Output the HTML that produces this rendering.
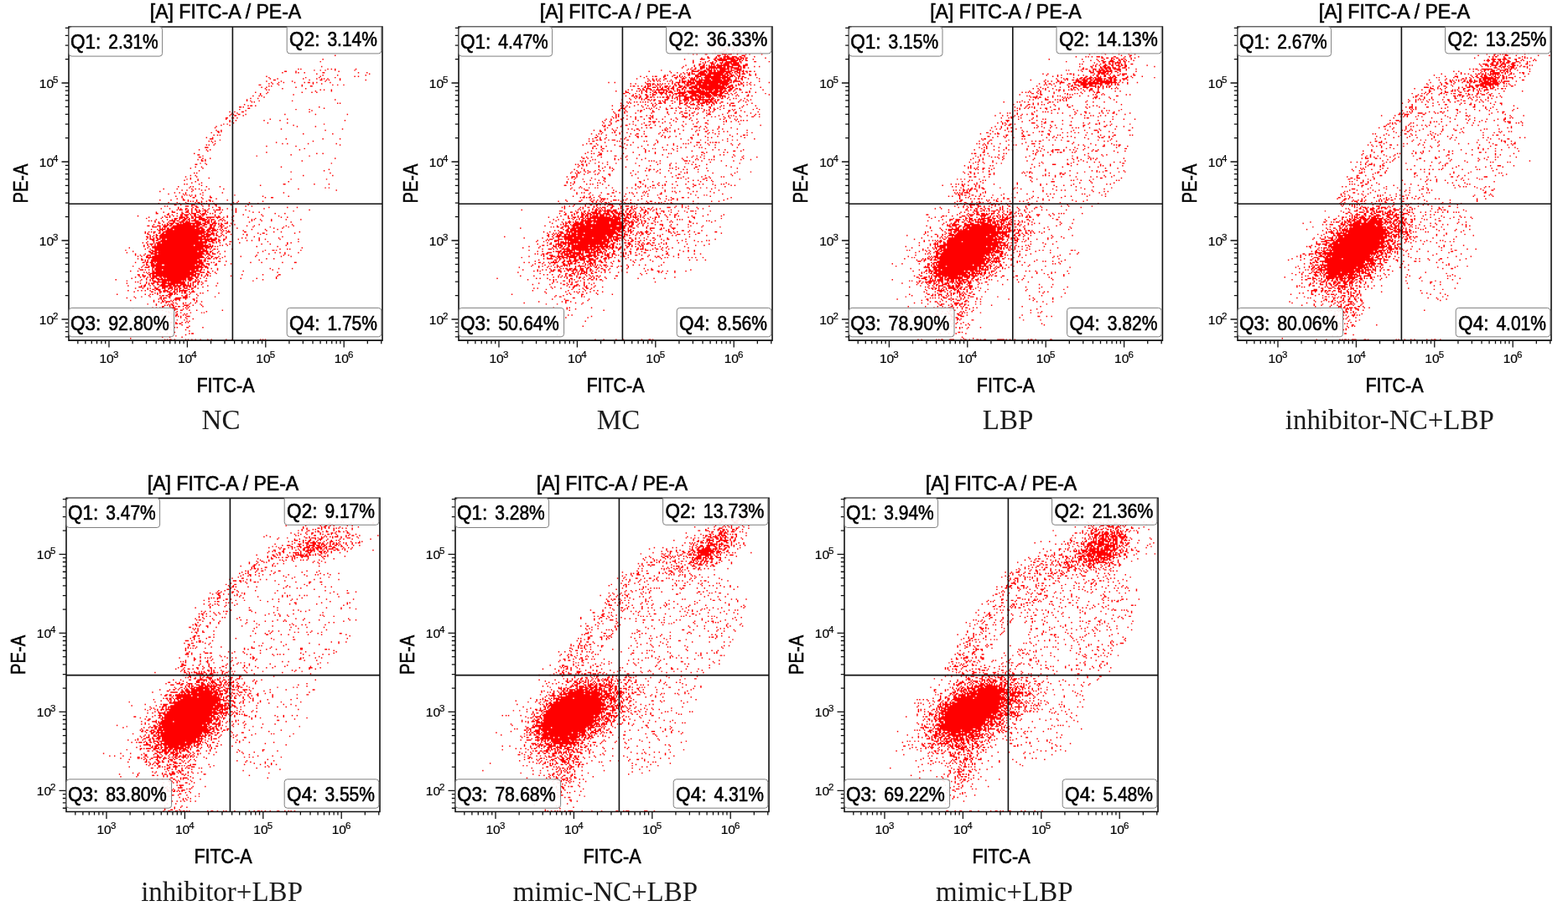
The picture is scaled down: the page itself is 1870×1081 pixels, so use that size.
<!DOCTYPE html>
<html lang="en"><head><meta charset="utf-8"><title>Flow cytometry FITC-A / PE-A</title>
<style>html,body{margin:0;padding:0;background:#fff}body{width:1870px;height:1081px;overflow:hidden}svg{display:block}.ax{fill:none;stroke:#111;stroke-width:1.6}.tkp{fill:none;stroke:#111;stroke-width:1.3}.dots{fill:none;stroke:#f00;stroke-width:1.0;stroke-linecap:square}.qb{fill:#fff;fill-opacity:.9;stroke:#808080;stroke-width:1}.qt,.tt{font-family:"Liberation Sans", sans-serif;font-size:24.4px;fill:#000;stroke:#000;stroke-width:.6px}.tk{font-family:"Liberation Sans", sans-serif;font-size:15.5px;fill:#000;stroke:#000;stroke-width:.2px}.ts{font-family:"Liberation Sans", sans-serif;font-size:11.5px;fill:#000;stroke:#000;stroke-width:.2px}.lb{font-family:"Liberation Serif", serif;font-size:33px;fill:#1a1a1a}</style></head><body>
<svg width="1870" height="1081" viewBox="0 0 1870 1081" role="img" aria-label="Flow cytometry scatter plots">
<g transform="translate(82 32)">
<path class="dots" transform="scale(1.4609) translate(.5 .5)" d="M217 23zm-10 3zm-2 2zm1 4zm-19 2zm2 0zm22 0zm3 0zm3 0zm17 0zm-34 1zm5 0zm4 0zm8 0zm16 0zm-57 1h1m8 0zm35 0zm-46 1zm11 0zm2 0zm5 0zm15 0h1m28 0zm7 0zm-41 1zm43 0zm-38 1zm12 0zm23 0zm-81 1zm44 0zm28 0zm3 0zm-73 1zm30 0zm11 0zm13 0zm-53 1zm6 0zm21 0zm11 0zm4 0zm2 0zm3 0zm10 0zm-54 1h1m28 0zm9 0h1m4 0zm2 0zm9 0zm21 0zm-81 1zm12 0zm9 0zm27 0zm-44 1zm6 0zm4 0zm9 0zm8 0zm3 0h1m3 0zm3 0zm11 0zm-50 1zm3 0zm4 0zm29 0zm7 0zm-51 1h1m15 0zm19 0zm25 0zm4 0zm5 0zm-61 1zm2 0zm25 0zm7 0h1m-41 1zm4 0zm24 0zm-25 1zm14 0zm19 0zm-32 1zm2 0zm42 0zm3 0zm6 0zm-13 1zm13 0zm-62 1zm10 0zm28 0zm8 0zm4 0zm-46 1zm5 0zm-5 1zm27 0zm-33 1zm5 0zm2 0zm2 1zm-11 1zm6 0zm-9 1zm72 0zm-72 1zm3 0zm7 0zm27 0zm-33 1zm2 0zm68 1zm2 0zm-78 1zm3 1zm2 0h1m3 0zm-13 1h1m2 0zm62 0zm-58 1h1m61 0zm-69 1zm46 0zm11 0zm-52 1zm54 0zm-67 1zm4 0zm6 0h1m54 0zm-63 1zm4 0zm-5 1zm2 0zm4 0h1m5 0zm32 0zm25 0zm26 0zm-96 1zm4 0h1m6 0zm-14 2h1m4 0h1m3 0zm-9 1zm36 0zm14 0zm-47 1zm5 0zm23 0zm13 0zm53 0zm-94 1zm2 0zm1 1zm28 0zm16 0zm-52 1zm3 0zm79 0zm-84 1zm7 0zm52 0zm-63 1zm66 0zm15 0zm-82 1zm54 1zm50 0zm-103 1zm4 0zm85 0zm-88 1h1m2 0zm-8 1zm6 0zm69 1zm24 0zm-97 1zm3 0zm2 0zm-11 2zm5 0zm-2 1h2m60 0zm30 0zm14 0zm-98 1zm-9 1zm2 0zm3 0zm80 0zm-82 1zm52 0zm-50 1zm55 0zm4 0zm17 0zm23 0zm-106 1zm2 0zm4 0zm103 0zm-60 1zm24 0zm-74 1h2m79 1zm-86 1zm6 0zm3 0zm73 0zm-75 1zm48 1zm-59 1zm100 0zm5 0zm-102 1h1m75 0zm-72 1zm44 0zm43 0zm-90 1h1m2 1zm6 0zm102 0zm-112 1zm3 0zm3 0zm-3 1h1m2 0zm79 0zm-83 2zm4 0zm103 0zm-111 1h1m8 0zm-9 2zm5 0zm65 0zm-74 1zm10 0zm103 1zm-106 1zm102 0zm-27 1zm-79 1zm2 0zm109 0zm-114 2zm4 0zm88 0zm24 0zm-120 1zm9 0zm-5 1zm15 0zm-18 1zm3 0zm6 0zm76 0zm29 0zm-116 1zm11 0zm-2 1zm76 0zm-79 1zm8 0zm-14 1zm2 0zm10 0zm69 0h1m24 0zm12 0zm-104 1zm48 0zm-67 1zm10 0zm2 0zm11 0zm11 0zm-25 1zm111 0zm3 0zm-135 1zm11 0zm12 0zm3 0zm3 0zm8 0zm12 0zm61 0zm-95 1zm4 0zm5 0zm7 0zm3 0zm107 0zm-144 1zm26 0zm-14 1zm4 0zm5 0zm14 0zm16 0zm50 0zm-94 1zm12 0zm2 0zm12 0zm-13 1zm2 0zm2 0zm2 0zm3 0zm6 0zm26 0zm-48 1zm5 0zm7 0zm4 0zm12 0zm43 0zm21 0zm-87 1zm9 0h1m6 0zm7 0h1m44 0zm5 0h1m-78 1zm5 0zm16 0zm11 0zm-46 1zm9 0zm10 0h1m3 0zm7 0zm10 0h1m14 0zm-32 1zm2 0zm2 0zm3 0zm4 0zm4 0zm3 0zm2 0zm21 0zm20 0zm-77 1zm7 0zm7 0zm8 0zm2 0h1m2 0zm26 0zm3 0zm10 0zm-74 1zm17 0zm6 0h1m9 0zm4 0zm2 0zm6 0zm36 0zm-68 1h1m4 0zm9 0h2m6 0zm6 0zm5 0h1m12 0zm14 0zm-68 1zm2 0zm15 0h2m3 0zm3 0h1m5 0zm5 0zm6 0zm24 0zm5 0zm-60 1zm12 0zm3 0h1m12 0zm5 0h1m40 0zm15 0zm8 0zm-111 1zm7 0zm7 0zm2 0zm4 0h1m4 0zm3 0zm6 0zm5 0zm9 0zm6 0zm7 0zm23 0zm-71 1zm2 0h2m3 0zm2 0zm3 0zm3 0h1m2 0zm4 0h1m2 0zm5 0zm2 0h3m2 0zm8 0zm3 0zm8 0zm52 0zm-112 1zm12 0h1m3 0zm4 0zm2 0h1m2 0zm2 0h1m7 0zm17 0zm11 0zm36 0zm-112 1zm6 0zm7 0h2m6 0zm3 0h2m3 0zm4 0h2m5 0zm2 0zm6 0zm5 0zm12 0zm14 0zm5 0zm-84 1h1m9 0zm7 0zm4 0h1m5 0zm2 0h3m4 0zm2 0h2m4 0zm2 0zm6 0zm45 0zm8 0zm-96 1h1m3 0zm7 0h1m2 0h3m2 0zm3 0h1m2 0zm3 0h2m2 0zm7 0zm23 0zm15 0zm-101 1zm22 0zm4 0zm3 0zm3 0zm3 0h1m3 0h1m4 0zm2 0h1m3 0h1m2 0zm10 0zm3 0zm7 0zm5 0zm24 0zm13 0zm-106 1zm11 0zm3 0h1m2 0zm8 0h4m2 0h1m3 0h1m2 0h5m4 0h6m2 0h3m3 0zm3 0zm4 0zm13 0zm27 0zm5 0zm-115 1zm12 0zm11 0h2m2 0h2m2 0h2m2 0zm2 0h1m2 0zm3 0h4m3 0zm2 0zm6 0zm4 0zm27 0zm-81 1zm9 0zm4 0zm2 0h1m3 0zm3 0h2m2 0h1m4 0h1m3 0h6m2 0zm2 0h2m5 0h1m2 0zm7 0zm16 0zm2 0zm5 0zm9 0zm12 0zm12 0zm-124 1zm2 0zm3 0zm6 0zm6 0h4m2 0h1m3 0h2m2 0zm2 0zm2 0h5m4 0h2m2 0h1m2 0zm3 0zm3 0zm3 0zm2 0zm7 0zm15 0zm8 0zm8 0zm-95 1zm3 0zm4 0zm4 0zm4 0h1m4 0h3m2 0h3m5 0h4m4 0h3m2 0zm2 0h1m10 0zm18 0zm34 0zm-108 1h1m6 0zm2 0h3m2 0h2m2 0zm2 0h14m2 0h2m2 0h1m3 0h3m2 0zm2 0zm3 0h2m3 0zm-63 1zm7 0zm2 0zm2 0h1m2 0h1m4 0h11m2 0h1m2 0h4m2 0h2m3 0h2m2 0zm3 0zm2 0h1m8 0zm2 0zm20 0zm27 0zm-118 1h1m3 0zm4 0h2m3 0h3m2 0h1m2 0h21m3 0h1m5 0h1m2 0h1m4 0h1m2 0zm5 0zm14 0zm6 0zm26 0zm6 0zm-115 1h3m3 0zm3 0h2m5 0h21m2 0h1m3 0h1m3 0h1m2 0zm4 0zm2 0h1m4 0zm21 0zm14 0zm11 0zm4 0zm-105 1zm2 0zm2 0zm2 0h1m2 0h19m2 0h5m5 0h4m6 0zm3 0h1m9 0zm30 0zm7 0zm-107 1zm5 0zm2 0h4m2 0h4m2 0h20m2 0h2m3 0h2m2 0h2m2 0zm2 0zm2 0zm24 0zm11 0zm10 0zm-97 1h1m2 0zm3 0h31m2 0h2m2 0h4m4 0zm2 0zm2 0zm2 0zm12 0zm19 0zm-99 1zm3 0zm2 0zm2 0h1m4 0zm3 0h34m2 0h2m2 0zm4 0zm4 0zm4 0h2m12 0h1m23 0zm6 0zm15 0zm-126 1zm2 0zm5 0zm4 0h1m2 0h1m2 0h31m2 0h1m3 0h2m2 0zm4 0zm4 0zm26 0zm4 0h1m25 0zm-120 1h1m6 0zm4 0h33m2 0h8m2 0zm5 0zm7 0zm10 0zm3 0zm11 0zm5 0zm-95 1zm3 0zm2 0h1m2 0h31m3 0h2m2 0h3m3 0zm2 0h1m3 0zm2 0zm19 0zm-82 1h1m2 0zm2 0zm3 0zm3 0h40m8 0h1m5 0zm23 0zm23 0zm-110 1zm2 0zm3 0zm2 0h1m2 0h34m2 0h1m2 0zm2 0h1m3 0h1m8 0zm13 0zm3 0zm11 0zm16 0zm-108 1zm3 0h3m3 0h2m2 0h2m2 0h40m2 0zm4 0h1m11 0zm17 0zm5 0zm12 0zm15 0zm-119 1h1m2 0h1m3 0h30m2 0h1m3 0h3m2 0h3m3 0h1m3 0zm19 0zm4 0zm6 0zm-91 1zm5 0zm4 0h39m2 0h3m3 0zm2 0zm9 0h1m30 0zm25 0zm-127 1zm3 0zm6 0zm2 0h3m2 0h36m5 0h1m2 0zm3 0zm16 0zm39 0zm3 0zm-117 1zm2 0h2m2 0zm2 0h37m2 0zm3 0h1m13 0zm3 0zm26 0zm7 0zm14 0zm-117 1zm3 0zm3 0zm3 0zm2 0h29m2 0h10m2 0zm2 0zm6 0zm2 0zm4 0zm48 0zm-116 1zm4 0zm3 0h49m2 0zm2 0zm32 0zm17 0zm-121 1zm15 0zm4 0h41m2 0h3m2 0zm74 0zm-128 1zm4 0zm4 0h40m2 0zm3 0zm3 0h1m2 0zm12 0zm39 0zm6 0zm2 0zm-134 1zm21 0h1m2 0h37m2 0h3m5 0zm43 0zm6 0h1m2 0zm20 0zm-137 1zm13 0h1m2 0h3m2 0h31m2 0h7m2 0h1m6 0zm5 0zm31 0zm-111 1zm19 0h2m2 0h39m3 0h1m2 0zm2 0zm4 0zm33 0zm14 0zm4 0zm4 0zm11 0zm-133 1zm8 0zm5 0h4m2 0h37m2 0h2m3 0h2m4 0zm40 0zm13 0zm-122 1zm4 0zm3 0zm3 0h2m4 0h38m3 0zm3 0h1m38 0zm22 0zm4 0zm-123 1zm3 0zm4 0h1m2 0zm2 0h41m4 0zm3 0h1m5 0zm5 0zm13 0zm12 0zm21 0zm8 0zm-118 1h47m2 0zm2 0zm2 0zm3 0h2m4 0zm-69 1zm3 0zm6 0zm3 0h38m5 0zm2 0h2m3 0zm2 0zm3 0zm38 0zm6 0zm-108 1h1m2 0zm2 0zm3 0h37m2 0h2m2 0h1m44 0zm-93 1zm2 0zm3 0h41m2 0h1m2 0zm9 0h1m5 0zm-74 1zm6 0h1m2 0h1m2 0h2m2 0zm2 0h37m7 0zm2 0zm30 0zm9 0zm17 0zm10 0h1m-122 1zm4 0h2m2 0h33m2 0h3m3 0h2m6 0zm12 0zm-71 1zm2 0h1m3 0h8m3 0h24m2 0h2m2 0h2m4 0zm5 0h1m7 0zm-75 1zm8 0zm5 0zm2 0h41m2 0h2m-53 1zm3 0h3m3 0h1m2 0h38m2 0h2m-56 1zm11 0zm2 0h35m3 0zm5 0zm3 0zm5 0zm43 0zm7 0zm11 0zm-124 1h2m2 0zm3 0zm3 0zm2 0h5m2 0h25m2 0h1m2 0h1m2 0zm11 0zm45 0zm-116 1zm6 0zm12 0h1m2 0h27m2 0h7m6 0zm4 0zm25 0zm-81 1zm2 0zm2 0zm3 0h35m4 0h3m3 0h1m5 0zm51 0zm-106 1zm2 0h35m2 0h3m6 0zm3 0zm5 0zm-64 1h1m3 0zm5 0h1m2 0h1m2 0h32m2 0h1m2 0zm4 0h1m28 0zm17 0zm13 0h1m-115 1zm3 0h2m4 0zm2 0h30m2 0h3m2 0zm3 0zm3 0zm2 0zm2 0zm17 0zm38 0zm-116 1zm4 0zm3 0zm3 0zm2 0zm2 0h3m3 0h1m2 0h23m3 0h2m5 0zm59 0zm-118 1zm12 0zm4 0h2m2 0h2m2 0h1m2 0zm2 0h15m2 0h4m3 0zm3 0zm5 0zm28 0zm13 0zm16 0zm-131 1zm21 0zm4 0zm3 0zm2 0zm4 0h23m2 0h3m3 0zm2 0zm53 0zm-111 1zm11 0zm8 0zm2 0h2m3 0zm3 0h15m2 0zm2 0zm3 0h1m4 0h1m2 0zm5 0h1m38 0zm-96 1zm2 0zm7 0zm6 0h10m2 0zm2 0h11m3 0zm4 0h2m2 0h1m2 0zm-61 1zm11 0zm5 0zm2 0zm2 0h2m3 0zm4 0h18m3 0zm2 0zm2 0zm4 0zm4 0zm12 0zm-59 1zm3 0zm3 0zm4 0h1m2 0h3m3 0h5m2 0zm3 0h4m2 0zm2 0zm2 0zm4 0zm3 0zm-60 1zm11 0zm2 0h1m4 0zm3 0zm5 0h9m2 0h6m2 0h6m2 0zm2 0zm10 0zm7 0zm-63 1h2m2 0zm9 0zm3 0zm3 0h4m2 0h2m2 0h1m2 0h1m3 0h1m2 0zm2 0h1m3 0h1m6 0zm-55 1zm6 0zm4 0zm2 0zm4 0h2m4 0h2m3 0h3m2 0zm2 0zm2 0h1m3 0h2m4 0h1m4 0zm-41 1zm4 0h1m2 0h3m4 0zm3 0zm3 0zm2 0h2m2 0zm3 0zm4 0h1m2 0zm-52 1zm8 0zm3 0zm3 0zm4 0zm4 0zm3 0h1m3 0h3m3 0zm3 0zm2 0zm2 0h6m5 0zm12 0zm-60 1zm14 0h1m6 0h1m2 0h1m2 0h2m3 0h1m2 0zm2 0zm2 0zm2 0h1m3 0zm2 0h2m-32 1zm2 0zm2 0zm8 0h2m2 0h1m5 0zm2 0h1m4 0zm8 0zm2 0zm13 0zm-83 1zm23 0zm4 0zm2 0zm4 0zm9 0h3m2 0zm2 0zm8 0zm2 0zm6 0zm-39 1zm9 0zm2 0h1m2 0h1m2 0h1m9 0zm3 0h1m9 0zm-52 1zm6 0zm7 0zm9 0zm6 0h1m11 0h3m2 0zm21 0zm-72 1zm7 0zm20 0h1m2 0h2m3 0zm5 0h4m2 0h3m8 0zm-31 1zm2 0zm2 0zm9 0h4m5 0zm6 0h1m-52 1zm19 0zm7 0zm2 0zm5 0zm2 0zm2 0zm3 0zm12 0zm2 0zm-35 1zm4 0zm3 0h1m2 0h3m2 0zm20 0zm4 0zm-33 1zm4 0zm6 0zm2 0zm6 0zm2 0zm4 0zm4 0zm-39 1zm7 0zm10 0zm2 0h1m4 0zm5 0zm5 0zm9 0zm-36 1zm7 0zm2 0zm2 0zm2 0h1m9 0h3m4 0zm7 0zm-32 1h1m5 0zm3 0zm2 0zm2 0h1m3 0zm3 0zm2 0zm11 0zm-41 1zm3 0zm3 0zm2 0zm7 0h3m9 0zm2 0zm-45 1zm31 0zm3 0h2m5 0zm3 0zm-46 1zm18 0zm4 0zm4 0zm10 0zm5 0h1m6 0zm6 0zm21 0zm-86 1zm40 0zm2 0zm7 0zm24 0zm-50 1zm3 0h1m15 0h1m5 0zm4 0zm8 0zm9 0zm2 0zm-26 1zm4 0zm6 0zm2 0zm-20 1zm3 0zm6 0zm2 0h1m5 0zm2 0zm-20 1zm6 0zm6 0zm2 0zm2 0zm5 0h2m-22 1zm3 0zm12 0zm4 0zm-11 1zm12 0zm5 0zm-25 1zm2 0zm2 0zm8 0zm6 0zm2 1zm2 0zm-43 1zm3 0zm25 0h1m3 0zm5 0zm3 0zm2 0zm-10 1h1m2 0h1m-9 1zm10 0zm-7 1zm13 0zm-40 1zm8 0zm16 0zm4 0zm2 0zm8 0h1m12 0zm-29 2zm3 0zm12 0zm3 1zm-24 1zm12 0zm-6 1zm18 0zm2 0h1m-17 1zm11 0zm-8 1zm-11 1zm6 0zm10 0zm-42 1zm28 1zm2 0zm2 0h1m3 0zm9 0zm2 0zm3 0zm3 0zm4 0zm6 0zm3 0zm12 0zm5 0zm23 0zm2 0zm2 0z"/>
<path class="ax" d="M0 0H374V374.1H0ZM195.4 0V374M0 211.2H374"/>
<path class="tkp" d="M-4.2 369.85h4.2M-4.2 363.56h4.2M-4.2 358.11h4.2M-4.2 353.30h4.2M-8.5 349.00h8.5M-4.2 320.70h4.2M-4.2 304.15h4.2M-4.2 292.41h4.2M-4.2 283.30h4.2M-4.2 275.85h4.2M-4.2 269.56h4.2M-4.2 264.11h4.2M-4.2 259.30h4.2M-8.5 255.00h8.5M-4.2 226.70h4.2M-4.2 210.15h4.2M-4.2 198.41h4.2M-4.2 189.30h4.2M-4.2 181.85h4.2M-4.2 175.56h4.2M-4.2 170.11h4.2M-4.2 165.30h4.2M-8.5 161.00h8.5M-4.2 132.70h4.2M-4.2 116.15h4.2M-4.2 104.41h4.2M-4.2 95.30h4.2M-4.2 87.85h4.2M-4.2 81.56h4.2M-4.2 76.11h4.2M-4.2 71.30h4.2M-8.5 67.00h8.5M-4.2 38.70h4.2M-4.2 22.15h4.2M-4.2 10.41h4.2M-4.2 1.30h4.2M10.83 374v4.2M19.88 374v4.2M27.28 374v4.2M33.53 374v4.2M38.95 374v4.2M43.73 374v4.2M48.00 374v8.5M76.12 374v4.2M92.56 374v4.2M104.23 374v4.2M113.28 374v4.2M120.68 374v4.2M126.93 374v4.2M132.35 374v4.2M137.13 374v4.2M141.40 374v8.5M169.52 374v4.2M185.96 374v4.2M197.63 374v4.2M206.68 374v4.2M214.08 374v4.2M220.33 374v4.2M225.75 374v4.2M230.53 374v4.2M234.80 374v8.5M262.92 374v4.2M279.36 374v4.2M291.03 374v4.2M300.08 374v4.2M307.48 374v4.2M313.73 374v4.2M319.15 374v4.2M323.93 374v4.2M328.20 374v8.5M356.32 374v4.2M372.76 374v4.2"/>
<rect class="qb" x="0.2" y="0" width="111.4" height="35.1" rx="3.5"/>
<text class="qt" y="25.6"><tspan x="1.9" textLength="42.6" lengthAdjust="spacingAndGlyphs">Q1: </tspan><tspan x="47.2" textLength="59.6" lengthAdjust="spacingAndGlyphs">2.31%</tspan></text>
<path class="qb" d="M260.2 0H372.8V28.4a3.5 3.5 0 0 1 -3.5 3.5H263.7a3.5 3.5 0 0 1 -3.5 -3.5Z"/>
<text class="qt" y="23.4"><tspan x="263.1" textLength="42.6" lengthAdjust="spacingAndGlyphs">Q2: </tspan><tspan x="308.4" textLength="59.6" lengthAdjust="spacingAndGlyphs">3.14%</tspan></text>
<rect class="qb" x="0.2" y="335.4" width="125.4" height="34.4" rx="3.5"/>
<text class="qt" y="361.6"><tspan x="1.9" textLength="42.6" lengthAdjust="spacingAndGlyphs">Q3: </tspan><tspan x="47.2" textLength="72.6" lengthAdjust="spacingAndGlyphs">92.80%</tspan></text>
<rect class="qb" x="260.2" y="335.4" width="112.6" height="34.4" rx="3.5"/>
<text class="qt" y="361.6"><tspan x="263.1" textLength="42.6" lengthAdjust="spacingAndGlyphs">Q4: </tspan><tspan x="308.4" textLength="59.6" lengthAdjust="spacingAndGlyphs">1.75%</tspan></text>
<text class="tt" x="187" y="-9.6" text-anchor="middle" textLength="180.4" lengthAdjust="spacingAndGlyphs">[A] FITC-A / PE-A</text>
<text class="tt" x="187" y="436" text-anchor="middle" textLength="69.2" lengthAdjust="spacingAndGlyphs">FITC-A</text>
<text class="tt" transform="translate(-49 187) rotate(-90)" text-anchor="middle" textLength="47" lengthAdjust="spacingAndGlyphs">PE-A</text>
<text class="tk" x="36.5" y="401">10<tspan class="ts" x="52.9" y="394.6">3</tspan></text><text class="tk" x="129.9" y="401">10<tspan class="ts" x="146.3" y="394.6">4</tspan></text><text class="tk" x="223.3" y="401">10<tspan class="ts" x="239.7" y="394.6">5</tspan></text><text class="tk" x="316.7" y="401">10<tspan class="ts" x="333.1" y="394.6">6</tspan></text><text class="tk" x="-35.2" y="354.8">10<tspan class="ts" x="-18.9" y="348.6">2</tspan></text><text class="tk" x="-35.2" y="260.8">10<tspan class="ts" x="-18.9" y="254.6">3</tspan></text><text class="tk" x="-35.2" y="166.8">10<tspan class="ts" x="-18.9" y="160.6">4</tspan></text><text class="tk" x="-35.2" y="72.8">10<tspan class="ts" x="-18.9" y="66.6">5</tspan></text>
</g>
<text class="lb" x="263.5" y="512.3" text-anchor="middle">NC</text>
<g transform="translate(547 32)">
<path class="dots" transform="scale(1.4609) translate(.5 .5)" d="M202 6zm17 1zm-10 3zm19 1zm-21 1zm24 0h1m3 0zm-55 1zm17 0zm22 0zm16 0zm-25 1zm4 0zm11 0zm8 0zm-49 1zm34 0zm5 0zm5 0zm6 0zm-27 1zm5 0zm6 0zm6 0zm-29 1zm18 0zm6 0zm5 0zm2 0zm6 0zm-17 1zm2 0zm2 0h1m3 0h1m-32 1zm16 0zm8 0h1m6 0zm2 0zm2 0h1m2 0zm-21 1zm3 0h4m2 0zm6 0zm3 0zm2 0h1m16 0zm-59 1zm20 0zm2 0zm5 0h1m7 0zm2 0zm3 0h1m-37 1zm3 0zm7 0h1m13 0h3m2 0h2m5 0zm7 0zm3 0zm10 0zm-36 1h2m4 0zm2 0zm12 0h2m-30 1zm7 0zm2 0zm4 0h4m3 0h3m3 0h1m3 0zm8 0zm-43 1zm5 0h1m5 0h1m3 0h1m2 0h1m2 0h5m2 0h2m2 0h2m2 0h1m15 0zm-66 1zm13 0h3m8 0h1m2 0h14m2 0h3m2 0zm2 0zm6 0zm-49 1zm13 0zm5 0h1m2 0h6m4 0h5m2 0zm2 0zm3 0h1m-44 1zm6 0zm4 0zm2 0zm4 0zm3 0zm5 0zm3 0h8m3 0h1m11 0h1m11 0zm-62 1zm8 0zm2 0zm4 0h2m2 0zm4 0h2m2 0h5m2 0h4m2 0zm-34 1h1m3 0zm6 0h2m3 0zm3 0zm2 0h4m2 0h6m6 0h1m-50 1zm7 0zm4 0zm3 0h1m2 0zm2 0zm2 0zm2 0zm2 0h10m3 0h6m3 0h3m-52 1zm9 0zm5 0h3m4 0h5m2 0h3m2 0h1m2 0h4m5 0h2m2 0h1m8 0zm4 0zm-63 1zm8 0zm3 0zm4 0h3m2 0zm2 0h13m2 0h1m2 0h6m2 0zm2 0h1m3 0zm-49 1zm2 0zm3 0h1m4 0h1m4 0h2m2 0zm2 0zm2 0zm3 0h7m2 0zm3 0h5m-65 1zm21 0zm4 0h1m4 0h1m4 0h1m2 0h3m2 0h1m2 0zm2 0h4m3 0zm2 0h2m3 0h3m2 0zm-77 1zm17 0zm18 0h5m2 0h5m2 0h2m2 0h1m2 0h11m3 0h2m2 0zm2 0h1m2 0h1m2 0h1m3 0zm-68 1zm5 0zm5 0zm3 0zm2 0zm2 0zm6 0h4m2 0zm2 0h12m2 0h3m2 0zm2 0zm2 0h2m3 0zm3 0zm-54 1zm3 0zm3 0h1m2 0h2m3 0h6m2 0h12m2 0h2m2 0h1m4 0zm3 0zm2 0h2m4 0zm5 0zm-74 1zm2 0zm5 0h1m4 0zm7 0h1m5 0h2m2 0h8m3 0h9m2 0h1m2 0h2m3 0zm2 0zm8 0h1m4 0zm-94 1zm5 0zm5 0zm2 0h1m6 0h1m6 0zm4 0zm2 0zm2 0zm2 0zm9 0h4m4 0h12m2 0h4m2 0h2m2 0zm3 0h1m2 0h1m-81 1zm16 0zm9 0h2m3 0zm2 0zm2 0zm3 0zm2 0zm2 0zm2 0h1m3 0zm2 0h21m5 0zm2 0zm3 0zm2 0h1m9 0zm-98 1zm9 0zm4 0zm3 0zm3 0zm4 0h1m8 0zm5 0h2m5 0h3m2 0zm2 0zm2 0zm3 0h3m2 0h7m2 0h2m2 0h2m5 0zm2 0zm2 0h1m5 0zm9 0zm-90 1zm3 0h1m2 0zm2 0zm4 0zm6 0zm7 0zm2 0zm5 0zm2 0h4m3 0h9m2 0h7m2 0h6m3 0h1m5 0zm-77 1zm2 0zm3 0zm3 0zm2 0zm6 0zm2 0zm2 0zm6 0zm2 0h3m2 0h2m2 0zm2 0h5m2 0h20m2 0zm2 0h5m16 0zm-123 1zm5 0zm25 0zm22 0zm3 0h3m2 0h2m2 0h6m2 0h25m2 0h1m2 0zm6 0zm2 0zm3 0zm3 0zm15 0zm-113 1zm4 0zm9 0h3m2 0h1m3 0zm2 0zm2 0zm2 0zm3 0zm3 0zm2 0zm3 0zm5 0zm2 0h1m2 0h3m2 0h3m2 0h12m2 0h7m8 0zm2 0h1m6 0zm-83 1zm2 0zm2 0zm2 0zm2 0h1m2 0zm11 0h1m2 0h1m5 0h4m4 0h9m2 0h9m2 0h4m3 0h1m3 0zm2 0h1m3 0zm3 0zm3 0zm3 0zm-101 1zm2 0h1m3 0zm3 0zm3 0zm2 0h2m5 0zm3 0zm4 0h2m2 0zm3 0zm2 0zm3 0h2m2 0zm2 0h1m3 0h4m2 0h20m2 0zm2 0h3m3 0zm6 0zm-81 1h1m2 0zm4 0h2m2 0zm2 0zm2 0zm2 0h1m2 0zm3 0h1m4 0h2m2 0h2m3 0h6m2 0h21m2 0h2m2 0h1m22 0zm-100 1h1m3 0zm3 0h3m6 0zm3 0h1m4 0h1m2 0h2m3 0zm4 0h1m2 0zm3 0h2m2 0h4m2 0h20m3 0h2m3 0h1m2 0zm9 0zm-100 1zm3 0zm7 0zm2 0h1m2 0zm3 0h1m2 0zm2 0h8m2 0zm4 0zm3 0h2m2 0zm2 0zm6 0h1m3 0h3m2 0zm2 0h6m2 0h2m2 0h2m2 0zm3 0h2m3 0zm4 0h1m18 0zm-120 1zm8 0zm9 0zm2 0zm2 0zm3 0h1m5 0zm2 0zm3 0zm4 0zm2 0h1m2 0h1m3 0zm2 0zm2 0zm4 0zm2 0h14m2 0zm2 0h2m2 0h6m2 0h2m2 0h1m3 0zm13 0zm-101 1h2m11 0zm4 0zm3 0zm3 0h2m2 0h4m2 0zm2 0h3m5 0h6m2 0h24m2 0h3m3 0zm7 0zm5 0zm3 0h1m2 0zm5 0zm-108 1h1m4 0zm5 0zm5 0zm9 0zm3 0zm3 0h2m2 0h1m5 0zm2 0h8m4 0h5m3 0h8m2 0h4m3 0h2m2 0h2m3 0zm3 0zm25 0zm-108 1zm5 0zm5 0h1m3 0zm2 0h2m5 0zm4 0zm3 0zm3 0zm2 0zm3 0zm2 0h1m2 0h1m4 0h5m2 0h8m2 0h7m6 0zm3 0zm4 0zm9 0zm17 0zm-117 1zm5 0h1m2 0h1m3 0zm5 0h1m4 0zm12 0zm2 0zm2 0zm5 0h6m4 0h8m2 0zm2 0h5m2 0h2m2 0h5m9 0zm2 0zm7 0h1m3 0zm-96 1zm2 0zm2 0h1m5 0h1m2 0h1m2 0zm3 0zm2 0zm2 0h1m2 0h2m3 0zm3 0h1m2 0zm4 0h6m3 0zm2 0h5m2 0h3m2 0zm4 0zm2 0zm2 0zm2 0zm3 0zm-81 1zm5 0zm3 0zm2 0zm3 0h1m17 0h1m3 0zm2 0zm2 0zm2 0zm4 0h3m2 0h2m2 0h1m2 0h1m2 0zm5 0zm2 0h2m6 0h1m4 0zm5 0zm2 0zm7 0zm-100 1zm7 0zm9 0zm2 0zm3 0h1m2 0zm2 0h1m8 0h2m8 0zm2 0zm3 0h4m3 0h17m2 0zm2 0h1m9 0zm9 0zm5 0zm3 0zm-82 1zm3 0zm4 0h1m2 0zm2 0zm5 0h1m6 0h1m3 0h1m2 0zm3 0h1m4 0h1m3 0zm2 0h2m2 0h1m2 0h1m2 0zm18 0zm3 0zm4 0zm-99 1zm2 0zm4 0zm2 0zm3 0zm2 0zm2 0zm2 0zm10 0zm3 0h1m8 0zm4 0zm4 0zm2 0zm3 0zm5 0h2m3 0h8m2 0h1m4 0h1m13 0zm6 0zm-102 1zm6 0zm2 0zm17 0zm3 0zm3 0h2m3 0zm6 0zm6 0h2m3 0h1m2 0zm3 0zm4 0zm2 0h3m2 0zm2 0zm3 0h1m2 0zm3 0zm6 0zm3 0h2m15 0zm-106 1zm13 0zm6 0zm6 0zm3 0zm19 0zm4 0h1m4 0h3m3 0h1m2 0zm4 0h1m3 0zm2 0zm13 0zm14 0zm-110 1zm7 0zm2 0zm3 0zm6 0zm6 0zm5 0zm4 0zm2 0zm12 0zm14 0zm8 0zm4 0h1m7 0zm8 0zm2 0zm5 0zm2 0h2m7 0zm10 0zm-109 1zm3 0zm3 0zm11 0zm9 0zm5 0zm15 0zm8 0h1m7 0zm9 0h1m8 0zm18 0zm-99 1h3m18 0zm2 0zm2 0zm4 0zm8 0zm4 0h1m3 0zm3 0h1m4 0zm4 0zm2 0zm2 0h1m2 0zm2 0zm7 0zm3 0zm3 0zm5 0zm13 0zm14 0zm-118 1zm6 0zm4 0zm16 0zm5 0zm7 0zm6 0h1m23 0zm2 0zm5 0zm4 0zm4 0h1m4 0zm10 0zm2 0zm15 0zm5 0zm-115 1h1m5 0zm10 0zm2 0h1m9 0zm19 0zm8 0zm3 0zm12 0zm2 0zm2 0zm4 0zm12 0h1m3 0zm6 0zm-104 1zm9 0zm2 0zm11 0zm10 0h1m11 0zm11 0h1m10 0zm7 0zm6 0zm2 0zm13 0zm6 0zm7 0zm11 0zm-117 1zm8 0zm9 0zm13 0zm13 0zm6 0zm4 0zm4 0h2m4 0h1m4 0zm7 0zm2 0zm15 0zm6 0h1m12 0zm-110 1zm2 0zm41 0zm11 0zm6 0zm6 0zm9 0h2m10 0zm27 0zm3 0zm-117 1zm2 0zm7 0zm16 0zm3 0zm2 0zm25 0zm5 0zm3 0zm11 0zm10 0zm8 0zm2 0zm2 0zm5 0zm6 0zm6 0zm-116 1zm3 0zm2 0zm10 0zm4 0zm4 0h1m8 0h1m10 0zm14 0h4m20 0zm3 0zm7 0zm4 0zm6 0zm4 0zm9 0h1m5 0zm-119 1zm2 0zm6 0zm10 0zm11 0h1m2 0zm19 0zm8 0zm4 0zm11 0zm17 0zm4 0zm-101 1zm4 0zm8 0h1m4 0zm7 0zm7 0zm5 0zm5 0zm5 0zm7 0zm5 0zm10 0zm6 0zm19 0zm3 0zm9 0zm2 0zm-108 1zm5 0zm5 0h1m3 0zm13 0zm29 0zm15 0zm13 0zm15 0zm8 0zm4 0zm2 0zm3 0zm-118 1zm6 0zm5 0zm14 0zm13 0h1m2 0h2m3 0zm5 0zm9 0zm6 0zm12 0zm21 0zm2 0zm4 0zm6 0zm-110 1zm6 0zm27 0zm8 0zm7 0zm6 0zm22 0zm7 0h1m-78 1zm15 0zm3 0zm7 0zm7 0zm29 0zm6 0zm12 0zm13 0zm13 0zm-112 1zm2 0zm3 0h1m10 0zm3 0h1m7 0zm8 0h1m2 0zm5 0zm13 0zm9 0zm64 0zm-128 1h1m13 0zm32 0zm19 0zm9 0h2m3 0zm4 0zm11 0zm-91 1zm8 0zm20 0zm4 0zm3 0h1m12 0zm3 0zm24 0zm6 0zm10 0zm10 0zm-103 1zm6 0zm13 0zm3 0zm4 0h1m22 0zm2 0zm9 0zm11 0zm10 0zm11 0zm4 0zm12 0zm-117 1zm5 0zm4 0zm7 0zm2 0zm15 0zm4 0zm19 0zm2 0h1m7 0zm7 0zm11 0zm2 0zm7 0zm4 0zm28 0zm-120 1h1m11 0zm6 0zm18 0zm19 0zm2 0zm4 0zm17 0zm8 0h1m10 0zm4 0zm3 0zm-102 1zm8 0zm2 0zm4 0zm6 0zm27 0zm3 0zm37 0zm3 0zm28 0zm4 0zm-131 1zm6 0zm2 0zm15 0zm9 0zm5 0h1m5 0zm12 0zm17 0zm15 0zm8 0zm6 0zm3 0zm15 0zm-115 1zm8 0zm8 0zm16 0zm22 0zm25 0zm4 0zm26 0zm11 0h1m2 0zm-122 1zm26 0zm6 0h1m3 0zm3 0h1m12 0zm3 0zm4 0zm5 0zm24 0zm10 0zm12 0zm7 0zm-119 1h1m3 0zm5 0zm16 0zm10 0zm22 0zm3 0zm18 0h1m13 0zm3 0zm27 0zm-127 1zm3 0zm6 0zm4 0zm13 0zm3 0zm46 0zm9 0zm29 0zm22 0zm-129 1h1m2 0h1m6 0zm3 0h2m10 0h1m23 0zm26 0zm10 0zm6 0zm12 0zm8 0zm4 0zm-121 1zm3 0h1m19 0zm2 0zm20 0zm2 0zm9 0zm57 0zm-100 1zm14 0zm9 0zm20 0zm27 0zm5 0h2m5 0zm4 0zm2 0zm2 0h1m2 0zm-108 1zm3 0h1m4 0zm21 0zm2 0zm25 0zm15 0zm8 0zm2 0zm2 0zm16 0zm19 0zm7 0zm-128 1zm12 0zm14 0zm10 0zm3 0zm14 0zm5 0zm11 0zm5 0zm19 0zm3 0zm7 0zm5 0zm14 0zm5 0zm-118 1h1m5 0zm4 0zm11 0h1m17 0zm29 0zm14 0zm-83 1zm7 0zm17 0h1m12 0zm20 0zm15 0zm4 0zm11 0zm2 0zm11 0zm18 0zm-118 1zm3 0zm5 0h1m18 0zm15 0zm7 0zm2 0zm14 0zm4 0zm23 0zm-85 1zm36 0zm15 0zm2 0zm6 0zm32 0zm5 0zm5 0zm15 0zm-124 1zm9 0zm4 0zm3 0zm28 0zm3 0zm23 0zm12 0zm34 0h1m5 0zm-125 1zm9 0zm28 0zm10 0zm8 0zm38 0h1m3 0zm14 0zm3 0zm-116 1zm5 0zm2 0zm5 0h1m18 0zm26 0zm11 0zm2 0zm27 0zm-86 1h2m31 0zm19 0zm32 0zm15 0zm3 0zm8 0zm-111 1zm14 0h1m5 0zm4 0zm54 0zm3 0zm6 0zm8 0zm17 0zm7 0zm-132 1zm4 0zm4 0zm8 0zm20 0zm34 0zm16 0zm4 0zm7 0zm11 0zm15 0zm8 0zm12 0zm-142 1h1m3 0zm22 0zm5 0zm13 0zm7 0zm30 0zm12 0zm6 0zm32 0zm-123 1zm2 0zm16 0zm3 0zm7 0zm12 0zm34 0zm10 0zm2 0zm9 0zm2 0zm2 0zm22 0zm8 0zm-139 1zm2 0zm2 0zm4 0zm48 0zm2 0zm2 0zm5 0zm20 0h2m2 0zm10 0zm16 0zm10 0zm-124 1zm3 0zm11 0zm7 0zm40 0zm30 0zm14 0zm-99 1zm5 0zm6 0zm11 0zm16 0zm20 0zm9 0zm4 0zm8 0zm2 0zm42 0zm-134 1zm2 0zm3 0h1m3 0zm17 0zm41 0zm10 0zm18 0zm3 0zm9 0zm-104 1zm3 0zm3 0zm10 0zm33 0zm9 0zm16 0zm24 0zm22 0zm-121 1zm17 0zm5 0zm4 0zm13 0zm41 0zm7 0zm9 0h1m28 0zm-122 1zm17 0zm6 0zm2 0zm28 0zm19 0zm2 0zm5 0zm13 0zm10 0zm25 0zm-133 1zm8 0zm12 0zm12 0zm29 0h1m3 0zm5 0zm13 0zm6 0zm3 0zm9 0zm-99 1zm6 0zm3 0zm6 0zm4 0zm3 0zm7 0zm17 0zm10 0zm3 0zm7 0zm9 0zm32 0zm-111 1zm5 0zm2 0zm4 0zm3 0h1m3 0zm36 0zm15 0zm20 0zm5 0zm9 0zm32 0zm11 0zm-147 1zm4 0zm2 0h1m7 0zm9 0zm26 0zm24 0zm9 0zm11 0zm2 0zm21 0zm18 0zm-129 1zm6 0zm9 0zm2 0zm9 0h1m21 0zm35 0h1m42 0zm-126 1zm27 0zm18 0zm12 0zm24 0zm24 0zm22 0zm-135 1zm4 0h2m2 0zm21 0zm51 0zm6 0zm9 0zm15 0zm6 0zm10 0zm2 0zm-124 1zm3 0zm13 0zm10 0h1m27 0zm32 0h1m2 0zm6 0zm14 0h1m3 0zm-116 1zm5 0zm7 0zm10 0zm8 0zm35 0zm31 0zm14 0h1m29 0zm-122 1zm7 0zm4 0zm33 0zm40 0zm4 0zm7 0zm4 0zm-118 1zm6 0zm8 0zm17 0zm28 0h1m10 0zm11 0zm8 0zm10 0zm10 0zm10 0zm-119 1zm3 0zm3 0zm19 0zm2 0zm33 0zm15 0zm55 0zm-125 1zm11 0zm3 0zm2 0zm8 0zm27 0zm6 0zm12 0zm6 0zm6 0zm11 0zm6 0zm5 0zm3 0zm8 0zm7 0zm2 0zm4 0zm-134 1h1m4 0zm22 0zm9 0zm22 0zm8 0zm6 0h1m4 0zm3 0zm2 0zm10 0zm14 0h1m16 0zm13 0zm3 0zm-126 1zm47 0zm2 0zm4 0zm4 0zm35 0zm26 0zm-125 1zm6 0zm2 0zm6 0zm5 0zm2 0zm7 0zm5 0zm12 0zm4 0zm6 0zm7 0zm4 0zm2 0zm6 0zm8 0zm2 0zm10 0h1m10 0zm5 0zm7 0zm-118 1zm11 0zm42 0zm44 0zm18 0zm-112 1zm9 0h2m21 0zm29 0zm13 0zm44 0zm-84 1zm23 0zm2 0zm15 0zm6 0zm2 0zm4 0zm11 0zm3 0zm11 0zm-109 1zm4 0zm2 0zm5 0zm9 0zm9 0h1m5 0zm8 0zm2 0zm4 0zm5 0zm2 0zm13 0zm12 0zm10 0zm21 0zm-112 1zm10 0zm15 0h1m14 0zm6 0zm12 0zm10 0h1m24 0zm26 0zm-106 1zm6 0zm36 0zm11 0zm31 0zm7 0zm2 0zm-109 1zm9 0zm5 0zm7 0zm10 0zm3 0zm8 0zm8 0zm6 0zm5 0zm15 0zm36 0zm-106 1zm2 0h1m2 0zm2 0h1m3 0zm5 0zm48 0zm10 0zm9 0h1m4 0zm8 0zm27 0zm-114 1zm8 0h3m2 0zm16 0zm12 0zm15 0zm5 0zm5 0h1m3 0zm41 0zm-132 1zm13 0zm7 0zm3 0zm3 0zm3 0zm2 0zm8 0h2m2 0zm4 0zm2 0zm4 0zm6 0zm25 0zm2 0zm5 0zm38 0zm-135 1zm7 0zm10 0h1m9 0h1m3 0zm3 0zm2 0zm7 0zm8 0zm21 0zm3 0h1m11 0zm23 0zm15 0zm6 0zm-103 1zm3 0zm4 0zm3 0h1m2 0zm11 0zm2 0zm5 0zm14 0zm6 0zm3 0zm2 0zm8 0zm-91 1zm22 0zm2 0zm5 0zm3 0zm6 0zm3 0zm13 0zm2 0zm2 0h1m2 0zm6 0h1m2 0h3m2 0zm6 0zm4 0zm3 0zm3 0h1m17 0zm4 0zm-101 1zm9 0zm4 0h1m4 0h1m2 0zm4 0zm3 0h3m6 0zm14 0zm37 0zm-96 1zm4 0zm3 0zm10 0zm7 0zm2 0zm9 0zm4 0h1m6 0h1m3 0h2m3 0zm2 0zm34 0zm5 0zm5 0zm17 0zm-120 1zm2 0zm13 0zm2 0zm4 0h1m4 0zm3 0zm2 0zm2 0h2m5 0h1m7 0zm8 0h1m4 0zm3 0zm3 0zm7 0zm12 0h2m4 0zm6 0zm3 0zm9 0zm-108 1zm12 0zm3 0zm8 0zm3 0zm2 0zm2 0zm3 0zm5 0zm6 0zm2 0zm5 0h1m3 0zm2 0h1m5 0zm5 0h1m2 0zm4 0zm3 0zm23 0zm8 0zm4 0zm-148 1zm46 0zm2 0zm7 0zm3 0zm2 0h2m2 0zm2 0zm2 0zm2 0h2m3 0h2m6 0zm3 0zm3 0zm2 0zm7 0h1m2 0zm4 0zm3 0zm2 0zm12 0zm-91 1h2m11 0zm7 0h1m3 0zm5 0h1m2 0h2m2 0h10m4 0h1m3 0zm3 0h1m3 0zm5 0zm4 0h1m5 0zm7 0h2m4 0zm8 0zm5 0zm5 0h2m2 0zm12 0zm-119 1zm5 0h1m4 0h1m3 0zm2 0zm3 0zm3 0h4m2 0h1m4 0zm2 0h1m2 0h1m2 0h2m2 0zm2 0zm3 0zm3 0zm3 0zm2 0zm7 0h1m2 0zm7 0zm6 0zm6 0zm13 0zm-104 1zm5 0zm7 0zm2 0zm4 0h1m2 0zm2 0h2m2 0h6m3 0h4m3 0h1m2 0h6m3 0h1m2 0h1m3 0zm3 0zm4 0zm3 0zm7 0h1m2 0zm14 0zm15 0zm-107 1h1m5 0zm2 0zm6 0h2m2 0h1m2 0h1m2 0zm2 0h1m2 0h3m2 0h3m3 0h1m3 0h1m2 0h2m2 0h3m3 0h1m4 0zm4 0zm10 0zm6 0zm4 0zm4 0h1m26 0zm13 0zm-133 1zm6 0zm3 0zm5 0zm3 0h1m2 0h2m2 0zm2 0h4m2 0h3m2 0zm3 0h1m2 0h2m2 0zm2 0h1m2 0zm2 0zm3 0zm2 0zm2 0zm2 0zm2 0zm3 0zm12 0zm6 0zm7 0zm3 0zm11 0zm9 0zm15 0zm-141 1zm7 0zm9 0zm4 0h2m2 0zm2 0h2m2 0zm2 0zm2 0h16m2 0h6m5 0h2m2 0zm2 0h3m3 0zm2 0zm6 0zm4 0h1m2 0zm7 0zm6 0zm11 0zm4 0h1m-103 1h1m2 0zm2 0zm4 0zm3 0h1m2 0h21m2 0h5m2 0h2m2 0h1m5 0zm2 0zm5 0zm3 0zm4 0zm2 0zm32 0zm22 0zm-137 1zm4 0zm4 0zm8 0zm3 0zm2 0zm2 0h1m2 0zm2 0h2m3 0h1m2 0h18m4 0h1m6 0zm3 0h1m2 0zm7 0zm5 0zm10 0zm8 0zm2 0zm2 0zm-103 1zm11 0zm5 0zm5 0h29m2 0zm3 0h4m3 0zm2 0zm3 0zm3 0zm2 0h1m7 0zm6 0zm8 0zm15 0zm14 0zm2 0zm5 0zm-135 1zm10 0zm3 0zm2 0h2m2 0zm2 0h2m2 0h2m2 0h5m2 0h12m2 0h9m2 0zm3 0h4m2 0h1m4 0zm3 0zm8 0zm2 0zm10 0zm2 0zm14 0h1m17 0zm-130 1zm9 0zm2 0h1m2 0zm4 0h7m2 0h4m3 0zm2 0h10m2 0h10m2 0h1m2 0zm2 0h1m5 0zm2 0zm2 0zm3 0zm3 0h1m33 0zm3 0zm-111 1zm2 0zm2 0zm4 0zm2 0h9m2 0h29m3 0zm2 0zm3 0h1m4 0zm4 0zm10 0zm4 0h2m7 0zm5 0zm9 0zm-117 1zm10 0zm6 0h3m3 0h5m2 0h29m3 0h5m3 0h2m4 0zm5 0zm4 0zm12 0zm6 0zm17 0zm10 0zm-124 1zm2 0zm3 0h1m3 0h1m2 0zm2 0zm4 0h1m2 0h39m4 0h2m5 0zm7 0zm20 0zm14 0zm11 0zm15 0zm-163 1zm33 0h1m5 0h1m2 0h15m2 0h14m2 0h10m3 0zm4 0h1m10 0zm3 0h3m6 0zm2 0zm7 0h2m-91 1zm3 0h1m2 0h4m2 0h35m2 0zm4 0zm2 0zm16 0zm8 0h1m6 0zm4 0zm-97 1zm3 0zm6 0h2m2 0h36m2 0h2m2 0h2m3 0h2m2 0zm11 0zm4 0zm12 0zm2 0zm11 0h1m5 0zm10 0zm-129 1zm5 0zm8 0h2m4 0h4m2 0h34m2 0h3m3 0zm2 0zm2 0h1m5 0zm2 0h1m3 0h2m17 0h1m3 0zm3 0zm9 0zm5 0zm17 0h1m-138 1zm5 0zm2 0zm2 0zm2 0h2m3 0zm2 0zm2 0h3m2 0h4m2 0h26m4 0zm2 0zm5 0zm5 0zm2 0zm2 0h1m3 0zm3 0zm3 0zm14 0zm3 0zm19 0h1m18 0zm-141 1zm3 0zm2 0zm2 0zm2 0h1m3 0h4m2 0h34m2 0h3m2 0zm2 0h2m5 0zm3 0zm4 0h1m4 0h1m11 0zm12 0h2m4 0zm4 0zm5 0zm-121 1h1m4 0zm3 0h3m3 0h1m2 0h6m2 0h22m2 0h4m4 0h4m2 0zm2 0zm2 0zm5 0zm4 0zm14 0zm2 0zm10 0zm3 0zm25 0zm-165 1zm36 0zm3 0zm3 0h3m2 0h16m2 0h18m2 0h7m4 0h2m19 0zm10 0zm24 0zm-135 1zm15 0zm9 0zm4 0zm5 0h6m2 0h14m2 0h10m2 0h2m2 0zm2 0h4m2 0zm5 0h1m4 0zm3 0zm4 0zm7 0h1m11 0zm-98 1zm2 0h2m5 0h3m2 0h36m2 0zm2 0h4m3 0zm2 0zm6 0zm3 0zm9 0zm7 0zm5 0zm5 0h1m14 0zm24 0zm-145 1zm7 0zm2 0zm5 0h3m6 0zm2 0h8m2 0h17m2 0h4m2 0h1m2 0h2m2 0zm2 0zm3 0zm2 0zm3 0h1m6 0zm3 0zm5 0zm3 0zm8 0zm11 0zm4 0zm10 0zm10 0zm2 0zm-141 1zm6 0zm9 0h1m2 0zm2 0h2m2 0zm2 0zm2 0h32m2 0zm4 0zm11 0h1m3 0zm2 0h1m38 0zm10 0zm3 0zm-126 1zm3 0zm6 0zm2 0h36m2 0h1m4 0h1m8 0h1m2 0h1m8 0zm3 0zm4 0h1m3 0h1m6 0zm4 0zm10 0zm-115 1zm10 0h1m4 0h4m2 0h2m2 0h4m2 0zm2 0h24m3 0h2m3 0zm2 0zm7 0h2m4 0zm2 0zm3 0zm2 0zm2 0h1m2 0zm7 0zm4 0zm2 0zm17 0zm18 0zm-136 1h1m3 0zm5 0zm2 0zm2 0h3m3 0zm2 0h1m2 0h13m2 0h4m2 0zm2 0h2m2 0h2m2 0zm2 0h1m10 0zm3 0zm2 0zm6 0zm2 0h1m7 0h1m2 0zm33 0zm7 0zm-143 1zm9 0zm11 0h2m2 0zm2 0h1m2 0zm3 0h1m2 0h31m2 0h1m2 0zm4 0zm5 0h1m3 0zm3 0zm4 0zm2 0zm14 0zm6 0zm14 0zm-132 1zm13 0zm11 0zm3 0zm3 0h1m2 0zm3 0h1m3 0h13m2 0h1m2 0h4m2 0h2m2 0h1m2 0h3m2 0h1m2 0h1m5 0zm9 0zm4 0zm10 0zm6 0zm3 0zm5 0zm13 0zm-119 1zm5 0h2m2 0zm3 0zm4 0h6m2 0h19m2 0h2m2 0h2m3 0zm3 0zm5 0h1m4 0zm5 0zm5 0h1m2 0h2m2 0zm6 0zm3 0h1m3 0zm6 0zm-114 1zm26 0zm3 0zm2 0h6m2 0h10m2 0h2m2 0h3m4 0h1m6 0zm4 0zm5 0zm10 0zm7 0h2m2 0zm10 0zm14 0zm7 0zm5 0zm-128 1zm4 0zm9 0zm2 0h4m2 0h7m2 0zm4 0h1m2 0zm2 0h3m2 0zm2 0h3m2 0h1m2 0zm2 0zm6 0h1m12 0h1m9 0zm12 0zm8 0zm14 0zm4 0zm5 0zm-120 1h3m6 0h1m2 0h2m2 0zm2 0h9m2 0zm2 0h8m2 0h4m2 0zm4 0zm3 0zm6 0zm2 0zm2 0zm4 0zm4 0zm7 0h1m18 0zm-108 1zm2 0zm4 0h1m2 0h1m9 0zm2 0h1m2 0h5m2 0h8m5 0h1m3 0h1m2 0zm4 0zm2 0zm2 0h1m3 0h2m7 0zm2 0zm4 0zm7 0zm22 0h1m9 0zm13 0zm5 0zm-130 1zm2 0zm5 0h2m5 0zm3 0zm2 0h3m2 0h3m2 0h2m2 0h1m3 0h7m2 0h1m5 0h3m3 0zm3 0zm2 0zm4 0zm4 0zm6 0h1m4 0zm6 0zm11 0zm5 0zm8 0zm-122 1zm12 0zm6 0h3m2 0h5m3 0h8m2 0h1m2 0h7m2 0h2m4 0h1m4 0h1m3 0zm7 0zm2 0h1m19 0zm6 0zm2 0h1m12 0zm-124 1zm21 0zm3 0zm4 0zm2 0h1m2 0h4m2 0h5m3 0h4m3 0h1m5 0zm2 0zm3 0zm3 0h1m2 0h2m3 0zm11 0zm23 0zm3 0zm4 0zm2 0zm9 0zm8 0zm3 0zm3 0zm6 0zm-130 1zm3 0h4m4 0zm2 0h1m2 0zm3 0zm2 0zm4 0h1m3 0h5m3 0h3m3 0h1m5 0h2m2 0zm14 0zm13 0h1m15 0zm-100 1zm13 0h1m3 0zm4 0zm4 0h1m3 0h3m2 0h3m4 0h5m4 0zm4 0zm11 0zm10 0zm4 0zm4 0zm8 0zm32 0zm6 0zm7 0zm-139 1zm15 0zm2 0zm2 0zm4 0h1m2 0h3m2 0h3m6 0zm2 0h3m3 0h1m3 0h2m3 0zm7 0zm4 0h1m11 0zm16 0zm-105 1zm4 0zm8 0h1m3 0zm4 0zm2 0h5m4 0h1m4 0zm2 0h1m3 0zm2 0h1m4 0zm3 0zm2 0h1m2 0h1m5 0h1m3 0zm4 0zm19 0zm24 0zm-105 1zm6 0zm6 0zm4 0zm7 0h1m3 0h3m2 0h1m6 0zm2 0zm3 0h3m2 0zm14 0zm-65 1zm10 0zm7 0zm3 0zm5 0h3m2 0zm8 0zm5 0zm2 0zm2 0zm2 0zm2 0zm2 0zm2 0zm3 0h2m17 0zm5 0zm5 0zm5 0zm13 0zm-106 1zm6 0zm3 0zm5 0zm2 0zm5 0h1m2 0h1m2 0zm2 0zm2 0zm5 0zm2 0h5m5 0h1m2 0zm2 0zm4 0zm3 0zm2 0zm3 0h1m5 0zm2 0h1m5 0zm25 0zm-114 1zm16 0zm7 0zm6 0zm2 0zm2 0zm13 0zm4 0zm4 0zm2 0h1m5 0h1m2 0zm6 0zm9 0zm9 0zm-64 1zm9 0zm2 0zm2 0h1m2 0h2m2 0h1m4 0h2m3 0h1m2 0zm6 0zm3 0h1m6 0zm14 0zm14 0zm6 0zm-105 1zm12 0zm4 0zm3 0zm4 0zm2 0h1m3 0h1m6 0h3m2 0h3m3 0h2m3 0zm3 0h1m4 0zm6 0h1m3 0zm11 0zm21 0zm3 0h1m31 0zm-128 1zm3 0zm2 0zm9 0h2m4 0h2m3 0zm3 0zm3 0h1m3 0zm2 0zm2 0h2m2 0zm3 0zm2 0zm5 0zm5 0zm14 0zm19 0zm10 0h1m3 0zm4 0zm6 0zm9 0zm-137 1zm26 0zm9 0zm10 0zm2 0zm2 0zm3 0zm2 0h2m4 0zm3 0h1m4 0zm3 0zm4 0zm7 0zm7 0zm26 0zm2 0zm11 0zm-110 1zm21 0h1m4 0h2m3 0zm2 0h3m2 0zm4 0h1m39 0zm5 0zm16 0zm-100 1zm3 0zm4 0zm6 0zm5 0zm3 0h1m3 0zm3 0zm2 0zm4 0zm3 0zm43 0zm-99 1zm11 0zm20 0zm3 0zm3 0zm3 0h2m4 0zm8 0zm3 0zm2 0zm3 0h1m2 0zm13 0h1m-52 1zm4 0zm2 0zm3 0zm2 0zm8 0zm2 0h1m3 0zm6 0zm2 0zm4 0zm5 0zm57 0zm-145 1zm32 0zm3 0zm6 0zm16 0zm3 0h1m6 0zm3 0zm5 0h1m3 0zm2 0zm8 0zm7 0zm19 0zm13 0zm9 0zm-112 1zm18 0zm3 0zm2 0zm11 0zm2 0zm2 0zm8 0zm3 0zm3 0h1m3 0zm3 0h1m-39 1zm8 0h1m4 0zm7 0zm2 0zm18 0zm-40 1zm3 0zm10 0zm2 0zm3 0h1m6 0zm58 0zm-95 1zm11 0zm7 0zm5 0zm4 0zm10 0zm4 0zm4 0zm-50 1zm14 0zm11 0h1m3 0zm2 0h1m4 0h1m5 0zm6 0zm-20 1zm6 0h2m2 0zm4 0zm2 0zm7 0zm-36 1zm3 0zm12 0zm3 0h1m9 0h1m6 0zm7 0zm-56 1zm3 0zm12 0zm7 0zm10 0zm8 0zm3 0h1m3 0zm-37 1zm21 0zm6 0zm4 0zm5 0zm-47 1zm29 0zm14 0zm7 0zm3 0zm-43 1zm17 0zm7 0zm2 0zm2 0zm3 0zm6 0zm10 0zm-46 1zm19 0zm7 0zm7 0zm8 0zm-69 1zm45 0zm3 0zm9 0h1m12 0zm12 0zm-46 1zm6 0zm15 0zm-22 1zm4 0h1m17 0zm2 0zm-9 1h1m-18 1zm10 0zm20 0zm-19 1h2m16 0zm-40 1zm19 0zm3 0zm4 0zm-38 1zm34 0zm8 0zm6 0zm-30 1zm9 0zm20 0zm-23 3zm11 0zm2 0zm18 0zm-20 1zm7 0zm-5 1zm28 0zm-37 2zm8 2zm3 0zm16 1zm-29 1zm8 0zm18 0zm-2 3zm-2 4zm-21 7zm31 4zm7 0zm10 0zm6 0zm15 0zm6 0h1m2 0z"/>
<path class="ax" d="M0 0H374V374.1H0ZM195.4 0V374M0 211.2H374"/>
<path class="tkp" d="M-4.2 369.85h4.2M-4.2 363.56h4.2M-4.2 358.11h4.2M-4.2 353.30h4.2M-8.5 349.00h8.5M-4.2 320.70h4.2M-4.2 304.15h4.2M-4.2 292.41h4.2M-4.2 283.30h4.2M-4.2 275.85h4.2M-4.2 269.56h4.2M-4.2 264.11h4.2M-4.2 259.30h4.2M-8.5 255.00h8.5M-4.2 226.70h4.2M-4.2 210.15h4.2M-4.2 198.41h4.2M-4.2 189.30h4.2M-4.2 181.85h4.2M-4.2 175.56h4.2M-4.2 170.11h4.2M-4.2 165.30h4.2M-8.5 161.00h8.5M-4.2 132.70h4.2M-4.2 116.15h4.2M-4.2 104.41h4.2M-4.2 95.30h4.2M-4.2 87.85h4.2M-4.2 81.56h4.2M-4.2 76.11h4.2M-4.2 71.30h4.2M-8.5 67.00h8.5M-4.2 38.70h4.2M-4.2 22.15h4.2M-4.2 10.41h4.2M-4.2 1.30h4.2M10.83 374v4.2M19.88 374v4.2M27.28 374v4.2M33.53 374v4.2M38.95 374v4.2M43.73 374v4.2M48.00 374v8.5M76.12 374v4.2M92.56 374v4.2M104.23 374v4.2M113.28 374v4.2M120.68 374v4.2M126.93 374v4.2M132.35 374v4.2M137.13 374v4.2M141.40 374v8.5M169.52 374v4.2M185.96 374v4.2M197.63 374v4.2M206.68 374v4.2M214.08 374v4.2M220.33 374v4.2M225.75 374v4.2M230.53 374v4.2M234.80 374v8.5M262.92 374v4.2M279.36 374v4.2M291.03 374v4.2M300.08 374v4.2M307.48 374v4.2M313.73 374v4.2M319.15 374v4.2M323.93 374v4.2M328.20 374v8.5M356.32 374v4.2M372.76 374v4.2"/>
<rect class="qb" x="0.2" y="0" width="111.4" height="35.1" rx="3.5"/>
<text class="qt" y="25.6"><tspan x="1.9" textLength="42.6" lengthAdjust="spacingAndGlyphs">Q1: </tspan><tspan x="47.2" textLength="59.6" lengthAdjust="spacingAndGlyphs">4.47%</tspan></text>
<path class="qb" d="M247.6 0H372.8V28.4a3.5 3.5 0 0 1 -3.5 3.5H251.1a3.5 3.5 0 0 1 -3.5 -3.5Z"/>
<text class="qt" y="23.4"><tspan x="250.5" textLength="42.6" lengthAdjust="spacingAndGlyphs">Q2: </tspan><tspan x="295.8" textLength="72.6" lengthAdjust="spacingAndGlyphs">36.33%</tspan></text>
<rect class="qb" x="0.2" y="335.4" width="125.4" height="34.4" rx="3.5"/>
<text class="qt" y="361.6"><tspan x="1.9" textLength="42.6" lengthAdjust="spacingAndGlyphs">Q3: </tspan><tspan x="47.2" textLength="72.6" lengthAdjust="spacingAndGlyphs">50.64%</tspan></text>
<rect class="qb" x="260.2" y="335.4" width="112.6" height="34.4" rx="3.5"/>
<text class="qt" y="361.6"><tspan x="263.1" textLength="42.6" lengthAdjust="spacingAndGlyphs">Q4: </tspan><tspan x="308.4" textLength="59.6" lengthAdjust="spacingAndGlyphs">8.56%</tspan></text>
<text class="tt" x="187" y="-9.6" text-anchor="middle" textLength="180.4" lengthAdjust="spacingAndGlyphs">[A] FITC-A / PE-A</text>
<text class="tt" x="187" y="436" text-anchor="middle" textLength="69.2" lengthAdjust="spacingAndGlyphs">FITC-A</text>
<text class="tt" transform="translate(-49 187) rotate(-90)" text-anchor="middle" textLength="47" lengthAdjust="spacingAndGlyphs">PE-A</text>
<text class="tk" x="36.5" y="401">10<tspan class="ts" x="52.9" y="394.6">3</tspan></text><text class="tk" x="129.9" y="401">10<tspan class="ts" x="146.3" y="394.6">4</tspan></text><text class="tk" x="223.3" y="401">10<tspan class="ts" x="239.7" y="394.6">5</tspan></text><text class="tk" x="316.7" y="401">10<tspan class="ts" x="333.1" y="394.6">6</tspan></text><text class="tk" x="-35.2" y="354.8">10<tspan class="ts" x="-18.9" y="348.6">2</tspan></text><text class="tk" x="-35.2" y="260.8">10<tspan class="ts" x="-18.9" y="254.6">3</tspan></text><text class="tk" x="-35.2" y="166.8">10<tspan class="ts" x="-18.9" y="160.6">4</tspan></text><text class="tk" x="-35.2" y="72.8">10<tspan class="ts" x="-18.9" y="66.6">5</tspan></text>
</g>
<text class="lb" x="737.5" y="512.3" text-anchor="middle">MC</text>
<g transform="translate(1012.4 32)">
<path class="dots" transform="scale(1.4609) translate(.5 .5)" d="M217 13zm13 0zm-6 2zm7 0zm-29 1zm34 0zm-17 1zm-1 1zm7 0h1m3 0zm-47 1zm38 0zm9 0zm-27 1zm5 0zm13 0zm4 0zm6 0zm-30 1zm6 0zm2 0zm7 0zm-19 1zm13 0zm11 0zm8 0zm5 0zm-11 1zm7 0h1m-45 1zm8 0zm2 0zm3 0zm4 0h2m2 0zm10 0h1m8 0zm4 0zm7 0zm-30 1h1m3 0h1m3 0h1m3 0h1m5 0zm6 0zm3 0zm-70 1zm27 0zm12 0zm6 0zm6 0zm2 0zm4 0zm2 0h1m2 0zm5 0zm-33 1zm6 0zm3 0h1m6 0h2m5 0h1m3 0zm2 0zm6 0zm-55 1zm14 0zm13 0zm3 0h2m3 0h4m3 0zm2 0zm3 0h1m3 0zm-28 1zm7 0h1m4 0zm3 0zm2 0h4m4 0zm-37 1zm2 0zm12 0zm3 0zm4 0zm3 0h1m2 0zm2 0zm3 0zm2 0zm3 0zm5 0h1m-32 1zm2 0zm3 0zm4 0h2m4 0h1m3 0h2m2 0h1m2 0h1m17 0zm-55 1zm9 0h1m3 0zm4 0zm2 0h2m2 0h1m3 0zm5 0h1m4 0h1m23 0zm-58 1zm7 0zm7 0h1m2 0h5m2 0h2m3 0zm3 0h2m3 0zm-38 1h1m2 0h1m5 0h2m3 0zm2 0h1m2 0h1m2 0h1m3 0h5m5 0zm8 0zm-57 1zm2 0zm8 0zm2 0zm7 0zm3 0zm2 0zm3 0h4m2 0h1m2 0h1m5 0h2m5 0zm-36 1zm6 0h1m2 0zm3 0h3m2 0h7m3 0h1m3 0zm13 0zm-37 1h2m4 0h6m2 0zm3 0zm5 0zm-61 1zm4 0zm16 0zm2 0h1m2 0zm17 0zm3 0h1m2 0h2m2 0h1m2 0zm8 0zm2 0h3m6 0zm-71 1zm9 0zm3 0zm10 0zm4 0zm4 0zm8 0zm3 0h1m5 0h1m3 0zm4 0zm3 0h1m3 0h1m8 0h1m-67 1zm4 0zm23 0h1m3 0zm5 0h1m2 0zm3 0h1m4 0zm2 0h2m10 0zm3 0zm9 0zm-66 1zm10 0zm6 0h1m2 0h1m3 0h2m2 0h1m2 0h2m6 0h4m2 0h1m8 0h1m4 0zm18 0zm-80 1zm6 0zm2 0h1m8 0zm2 0h1m2 0h1m2 0h3m2 0zm2 0h5m2 0h1m3 0h2m2 0h1m6 0h3m-78 1zm12 0zm10 0zm6 0zm2 0zm4 0h1m2 0h2m3 0h4m3 0h1m2 0h6m2 0zm2 0h1m2 0h1m2 0h2m3 0zm3 0zm3 0zm-68 1zm3 0zm3 0zm5 0h1m2 0zm12 0h4m2 0h3m2 0h1m2 0h1m2 0h12m2 0h1m4 0zm-61 1zm9 0zm3 0h3m8 0h2m2 0h6m2 0h8m2 0h13m2 0zm3 0zm4 0zm8 0zm-80 1zm5 0zm3 0h1m3 0zm5 0zm7 0h1m4 0zm5 0h17m3 0h3m2 0zm3 0zm2 0zm8 0zm-68 1zm2 0zm4 0zm13 0zm4 0zm2 0h3m2 0h5m2 0h2m3 0zm4 0h1m5 0zm3 0zm3 0zm2 0h1m-67 1zm15 0zm11 0zm2 0h1m5 0h1m3 0h2m3 0h5m2 0zm2 0zm2 0zm3 0zm2 0h1m-57 1zm6 0zm10 0zm7 0zm4 0h2m6 0h4m6 0zm2 0h1m3 0zm3 0zm2 0zm6 0zm-68 1zm4 0zm4 0zm2 0zm6 0zm15 0zm2 0zm3 0zm3 0zm5 0zm3 0h1m5 0zm4 0zm7 0zm3 0zm2 0zm-64 1zm5 0zm9 0zm2 0h1m3 0zm4 0zm2 0h1m2 0zm3 0zm4 0zm5 0h2m5 0zm-56 1zm7 0zm2 0zm7 0zm8 0zm4 0zm17 0zm4 0zm3 0zm4 0zm14 0zm4 0zm-80 1zm3 0zm2 0zm2 0zm5 0zm3 0zm11 0zm22 0zm11 0zm2 0h2m-55 1h1m4 0zm2 0zm11 0zm9 0zm2 0zm6 0zm2 0zm4 0zm12 0zm5 0zm-68 1zm17 0h1m21 0zm2 0zm2 0zm17 0zm2 0zm5 0zm2 0zm18 0zm3 0zm-84 1zm2 0zm6 0zm13 0zm4 0zm2 0zm16 0zm7 0zm7 0zm16 0h1m-71 1zm2 0h3m2 0h1m6 0zm4 0zm8 0zm2 0zm2 0zm2 0h1m19 0h2m10 0zm-60 1zm2 0zm6 0zm15 0zm2 0zm2 0zm20 0zm2 0zm3 0zm9 0zm-66 1zm3 0zm10 0h2m6 0zm2 0zm2 0zm2 0zm3 0zm39 0zm-75 1zm31 0zm3 0zm2 0zm17 0zm-68 1zm11 0zm2 0zm4 0zm3 0zm11 0zm6 0h1m2 0zm4 0zm23 0zm6 0zm9 0zm10 0zm-68 1zm4 0zm8 0zm-28 1zm6 0zm6 0h1m3 0zm4 0zm3 0zm2 0zm8 0zm11 0zm16 0zm28 0zm-82 1zm5 0zm23 0zm10 0zm4 0zm17 0zm3 0zm-67 1zm9 0zm3 0zm2 0zm2 0zm13 0zm15 0h1m13 0zm3 0zm8 0zm-67 1zm2 0zm4 0zm3 0zm5 0zm5 0zm4 0h1m10 0zm23 0zm14 0zm-69 1zm22 0zm6 0h1m3 0zm12 0zm39 0zm-87 1zm2 0zm16 0zm12 0zm21 0zm20 0zm4 0zm2 0zm8 0zm-69 1zm7 0zm2 0zm2 0zm22 0zm8 0h1m13 0zm10 0zm-93 1zm6 0zm2 0zm6 0zm12 0zm16 0zm5 0zm4 0zm11 0zm8 0zm3 0zm8 0zm3 0zm4 0zm4 0h1m13 0zm-92 1zm4 0zm4 0zm4 0h1m34 0zm5 0zm29 0zm7 0zm-106 1zm6 0zm4 0zm6 0zm5 0zm13 0zm27 0zm12 0zm5 0zm2 0zm6 0zm4 0zm-77 1zm2 0zm4 0zm15 0zm50 0zm12 0zm-91 1zm6 0zm2 0h1m7 0zm10 0zm32 0zm10 0zm2 0h1m-57 1zm11 0zm9 0zm2 0zm55 0zm9 0zm9 0zm-105 1h2m17 0zm6 0zm21 0zm29 0zm-79 1zm5 0zm12 0zm16 0zm3 0zm5 0h1m15 0zm27 0zm5 0zm-92 1zm4 0zm2 0zm22 0h2m8 0h1m31 0zm5 0zm8 0zm-79 1zm3 0zm3 0h1m3 0zm22 0zm17 0zm21 0zm6 0h1m2 0zm10 0zm15 0zm-102 1zm3 0h1m22 0zm11 0zm4 0zm12 0h1m10 0h1m18 0zm3 0zm-94 1zm5 0zm30 0zm3 0zm8 0zm26 0zm17 0h1m9 0zm6 0zm-108 1zm8 0zm5 0zm3 0h1m7 0zm11 0zm2 0zm6 0zm5 0zm5 0zm13 0zm3 0zm2 0zm9 0zm35 0zm-111 1zm3 0zm6 0zm7 0zm37 0zm31 0zm13 0zm-102 1zm12 0zm6 0zm8 0zm22 0zm20 0zm9 0zm8 0h2m3 0zm23 0h1m-112 1zm13 0zm2 0h1m9 0zm3 0zm10 0zm2 0h1m6 0zm17 0zm22 0zm9 0zm-100 1h1m8 0zm20 0zm9 0zm24 0zm4 0zm6 0zm3 0zm7 0zm9 0zm12 0zm-108 1zm8 0zm4 0zm2 0h1m19 0zm21 0h1m35 0zm-70 1h1m4 0zm9 0zm4 0h1m10 0zm6 0zm7 0zm2 0zm21 0zm12 0zm11 0h1m12 0zm2 0zm-118 1h1m7 0zm5 0zm2 0zm13 0h2m24 0zm11 0zm3 0zm22 0zm5 0zm4 0zm3 0zm-98 1zm10 0zm7 0zm27 0zm5 0zm3 0zm5 0zm10 0zm8 0zm12 0zm2 0h1m5 0zm-104 1zm2 0h1m30 0zm2 0zm52 0zm19 0zm-105 1zm6 0h1m14 0zm28 0zm5 0zm5 0zm5 0zm30 0zm10 0zm-107 1zm8 0zm14 0zm5 0zm16 0zm3 0zm3 0h1m22 0h1m29 0zm3 0zm7 0zm-105 1zm31 0zm39 0zm-79 1zm2 0zm4 0zm3 0zm3 0zm7 0zm18 0zm8 0h2m4 0zm27 0zm15 0zm17 0zm-105 1zm2 0zm19 0zm4 0zm2 0zm30 0zm21 0zm4 0zm10 0zm7 0zm8 0zm2 0zm2 0h1m-109 1zm6 0zm28 0zm5 0zm7 0zm34 0zm15 0h1m12 0zm7 0zm-121 1zm4 0zm2 0zm10 0zm6 0zm27 0zm22 0zm7 0zm11 0zm23 0zm-110 1zm4 0zm16 0zm17 0zm12 0zm29 0zm6 0zm33 0h1m-124 1zm8 0zm8 0zm8 0zm4 0zm3 0zm12 0zm8 0zm6 0zm7 0zm2 0h3m4 0zm5 0zm3 0zm8 0zm8 0zm4 0zm-93 1zm12 0zm28 0zm4 0zm2 0zm9 0h1m9 0zm10 0zm13 0zm3 0h1m14 0zm9 0zm-116 1h1m43 0zm9 0zm4 0zm4 0zm2 0h1m9 0zm2 0zm35 0zm-119 1zm2 0h1m10 0zm13 0zm2 0zm22 0zm2 0zm43 0zm-88 1zm3 0zm12 0zm30 0zm6 0zm6 0zm28 0zm14 0zm4 0zm-107 1zm4 0zm7 0zm12 0zm21 0zm11 0zm24 0zm13 0zm12 0zm-102 1zm11 0zm3 0zm2 0zm4 0zm19 0zm42 0zm10 0zm-95 1zm8 0zm13 0zm4 0zm25 0zm31 0zm4 0zm9 0zm2 0zm2 0zm3 0zm22 0zm-125 1zm7 0zm3 0zm16 0zm25 0zm28 0zm5 0zm6 0zm8 0zm4 0zm-95 1zm11 0zm28 0zm42 0zm4 0zm34 0zm-127 1zm5 0zm2 0zm4 0zm8 0zm40 0zm26 0zm11 0zm6 0zm4 0zm12 0zm5 0zm-120 1zm9 0zm10 0zm4 0zm31 0zm3 0zm20 0zm3 0zm42 0h1m-119 1zm44 0zm17 0h2m10 0h1m7 0zm19 0zm8 0zm-119 1zm5 0zm16 0zm2 0zm38 0zm26 0zm24 0zm2 0zm6 0zm10 0zm-126 1zm2 0zm6 0zm46 0zm23 0zm22 0zm7 0zm-106 1zm2 0zm3 0zm2 0zm5 0h1m4 0zm4 0zm30 0zm61 0zm10 0zm-116 1zm2 0zm4 0zm7 0zm44 0zm-46 1zm46 0zm20 0zm18 0zm4 0zm7 0h1m14 0zm-131 1zm5 0h1m10 0zm5 0zm28 0zm3 0zm2 0h1m44 0zm10 0zm2 0zm3 0zm13 0zm5 0zm-131 1zm5 0zm3 0zm3 0zm13 0zm23 0zm2 0zm4 0zm2 0zm14 0zm9 0h1m3 0zm10 0zm27 0zm-116 1zm5 0zm12 0h1m3 0zm42 0zm12 0zm2 0h1m-31 1zm14 0zm2 0zm3 0zm5 0zm12 0zm28 0zm8 0zm-118 1h1m3 0h1m7 0zm4 0zm33 0h1m20 0zm5 0zm12 0zm12 0zm5 0zm7 0zm5 0zm-65 1zm56 0h1m16 0zm-134 1zm3 0zm3 0zm12 0zm47 0zm13 0zm20 0zm13 0zm-101 1zm2 0zm9 0zm2 0zm37 0zm33 0zm2 0zm6 0zm7 0zm22 0zm2 0zm-128 1zm5 0zm10 0zm42 0zm16 0h2m30 0zm-93 1zm5 0zm28 0zm51 0zm10 0zm18 0zm-133 1zm4 0zm2 0zm3 0zm2 0zm8 0zm2 0zm14 0zm19 0zm19 0zm5 0zm22 0zm27 0zm3 0zm-137 1zm16 0h1m4 0zm6 0zm3 0zm50 0zm11 0zm8 0zm6 0zm-97 1zm3 0zm6 0zm10 0zm3 0zm63 0zm16 0zm14 0zm-108 1zm9 0zm6 0zm2 0h1m14 0zm12 0zm2 0zm21 0zm31 0zm25 0zm-121 1zm4 0zm2 0h1m2 0h1m6 0h1m24 0zm6 0zm26 0zm26 0zm16 0zm-123 1zm2 0zm3 0zm3 0h1m2 0zm2 0h1m5 0zm54 0zm11 0zm4 0zm3 0zm9 0zm13 0zm-105 1zm3 0zm2 0zm6 0zm7 0zm39 0zm8 0zm41 0zm9 0zm3 0zm-125 1zm2 0zm2 0zm2 0zm2 0h3m12 0zm2 0zm26 0zm67 0zm-117 1zm2 0zm2 0h1m6 0zm9 0zm19 0zm7 0zm12 0zm16 0zm3 0zm3 0zm23 0zm2 0zm17 0zm-120 1h1m2 0zm2 0h1m5 0h1m6 0zm10 0zm7 0zm72 0zm10 0zm-125 1zm3 0zm6 0zm8 0zm5 0zm3 0zm4 0zm40 0zm12 0zm14 0zm5 0zm13 0zm15 0zm-119 1zm5 0zm2 0zm19 0zm10 0zm7 0zm2 0zm14 0zm5 0zm12 0zm7 0zm-83 1zm9 0zm3 0zm3 0h1m2 0zm13 0zm5 0zm3 0h1m17 0zm11 0zm-67 1h1m20 0zm2 0zm4 0zm2 0zm25 0zm13 0zm5 0zm19 0zm12 0zm-106 1zm2 0h1m9 0zm6 0zm7 0zm7 0h1m3 0zm7 0zm8 0zm3 0zm11 0zm32 0zm6 0zm-105 1zm8 0h1m5 0zm4 0zm2 0h1m2 0zm6 0zm31 0zm26 0zm-81 1zm5 0zm3 0zm7 0zm7 0h1m4 0zm6 0zm4 0zm4 0zm17 0zm9 0zm45 0zm-115 1zm6 0zm4 0h4m2 0h1m11 0h1m2 0zm3 0zm7 0zm17 0h1m31 0zm-92 1zm7 0zm3 0zm3 0zm6 0h2m3 0zm4 0zm5 0zm6 0zm5 0h1m13 0zm12 0zm17 0zm6 0zm19 0zm-124 1zm15 0zm4 0zm4 0zm2 0h1m5 0zm5 0zm6 0zm7 0zm2 0zm8 0zm4 0zm7 0zm8 0h1m4 0zm32 0zm-119 1zm5 0zm21 0zm7 0h1m3 0h1m3 0zm2 0h1m9 0zm2 0zm4 0zm9 0zm7 0zm6 0zm-70 1zm14 0h1m3 0zm3 0zm2 0zm5 0h1m4 0zm6 0h1m2 0zm2 0zm6 0zm8 0zm4 0zm14 0zm4 0zm16 0zm-80 1zm5 0h2m3 0h1m2 0zm2 0zm2 0zm2 0h3m3 0zm4 0zm3 0zm4 0zm5 0zm5 0zm6 0zm-68 1zm10 0zm3 0zm7 0zm3 0h1m13 0zm4 0zm3 0zm4 0zm2 0h2m3 0zm8 0zm3 0zm-57 1zm7 0zm5 0zm2 0h1m3 0h2m2 0zm2 0zm2 0h2m3 0zm5 0zm5 0h1m3 0zm3 0zm2 0zm26 0zm5 0zm2 0zm2 0zm15 0zm-127 1h1m24 0zm8 0zm2 0h3m3 0h2m2 0h5m3 0zm6 0zm3 0zm2 0h1m2 0h1m2 0zm8 0zm5 0zm7 0h2m8 0zm4 0zm-91 1h1m2 0zm5 0zm8 0h2m3 0zm2 0h1m7 0h4m4 0zm3 0zm2 0h1m2 0zm2 0zm4 0zm4 0h1m2 0zm3 0zm2 0zm4 0zm2 0zm7 0zm10 0zm-99 1zm5 0zm5 0zm15 0h1m4 0zm3 0zm6 0zm4 0zm2 0zm3 0h2m2 0zm4 0zm2 0zm2 0h1m2 0h1m2 0h1m2 0zm10 0h1m2 0h1m23 0zm-104 1zm18 0zm10 0h1m2 0h2m6 0zm2 0h6m3 0h2m3 0zm3 0zm2 0h4m35 0zm-90 1zm6 0h2m3 0h3m3 0zm2 0zm3 0h2m2 0h1m2 0h5m3 0h3m2 0zm5 0h6m3 0h1m12 0h1m4 0zm19 0h1m13 0zm-119 1zm9 0zm9 0zm5 0h2m5 0zm2 0zm2 0zm2 0h1m2 0zm2 0zm2 0zm2 0h2m2 0h3m2 0zm2 0h2m2 0h3m4 0zm2 0zm2 0zm3 0zm3 0zm6 0zm-68 1zm7 0h1m2 0zm3 0h1m4 0h2m4 0h7m3 0h2m2 0h2m2 0zm2 0h1m2 0zm2 0zm2 0zm2 0h1m6 0zm2 0zm2 0zm6 0zm23 0zm-95 1zm6 0zm2 0h1m8 0h1m4 0h2m4 0zm2 0h6m2 0zm2 0h2m2 0zm3 0h2m4 0h1m2 0zm2 0zm3 0zm8 0zm5 0zm4 0zm18 0zm9 0zm-106 1zm4 0zm2 0zm2 0h5m5 0h12m2 0h8m3 0h3m2 0h1m3 0h4m3 0zm2 0h1m2 0zm6 0zm3 0zm23 0zm-109 1zm17 0h2m2 0h3m3 0h1m3 0h4m2 0h20m2 0zm2 0zm2 0h1m2 0zm4 0zm6 0zm4 0zm26 0zm-103 1zm16 0h1m4 0zm2 0h1m3 0h1m2 0h29m2 0h2m2 0zm2 0zm2 0h1m6 0zm20 0zm18 0zm-114 1zm8 0zm10 0zm3 0h2m4 0zm2 0h24m2 0h3m2 0h1m2 0h2m12 0zm16 0zm22 0zm-106 1zm4 0zm2 0h8m2 0zm2 0h3m2 0h21m2 0h3m2 0zm2 0zm2 0h1m2 0zm2 0zm2 0zm2 0zm4 0zm20 0zm16 0zm-112 1zm9 0zm5 0h2m3 0h33m2 0h1m3 0zm3 0zm2 0h2m2 0h1m3 0h2m4 0zm2 0h1m2 0zm-87 1zm2 0zm14 0zm5 0zm2 0h2m2 0h42m2 0h1m4 0zm6 0zm4 0zm2 0zm5 0zm4 0zm-97 1zm17 0zm2 0h2m3 0zm2 0h40m8 0h2m3 0zm3 0h1m3 0zm3 0zm6 0zm-96 1zm9 0h1m5 0zm2 0zm4 0h3m2 0h27m2 0h5m2 0zm2 0h3m2 0zm5 0zm4 0zm3 0zm4 0zm-99 1zm17 0zm8 0zm4 0zm5 0h40m3 0h1m2 0h3m4 0h1m3 0h1m4 0zm5 0zm17 0zm17 0zm-115 1zm5 0zm3 0zm3 0zm2 0zm4 0zm2 0h25m2 0h6m2 0h2m2 0h1m2 0h2m6 0zm6 0zm24 0zm7 0zm-114 1zm15 0zm2 0zm3 0zm2 0h36m2 0h1m2 0h3m5 0zm2 0h3m2 0zm9 0zm16 0zm3 0zm10 0zm-122 1zm24 0h1m3 0h45m3 0zm3 0zm3 0zm2 0h1m4 0zm4 0zm7 0zm9 0zm-101 1zm4 0zm3 0zm2 0zm2 0zm2 0h1m5 0h40m2 0zm3 0zm4 0zm4 0zm2 0h2m7 0zm-83 1zm10 0zm2 0h2m2 0zm3 0h11m2 0h23m2 0h6m4 0zm9 0zm4 0zm2 0zm5 0zm21 0zm-112 1zm13 0zm2 0zm2 0zm3 0h1m2 0h47m3 0zm2 0zm3 0h1m22 0zm-92 1zm3 0h3m5 0h44m2 0zm3 0h1m2 0zm19 0zm12 0zm6 0zm-109 1zm9 0zm4 0zm2 0zm2 0h47m2 0h6m3 0zm4 0zm8 0zm2 0zm-100 1zm24 0zm2 0h6m2 0h31m2 0h2m2 0h5m2 0zm3 0zm2 0zm2 0zm4 0zm3 0zm3 0zm6 0zm12 0zm-108 1zm13 0zm4 0zm2 0h1m3 0h4m2 0h39m2 0h3m2 0zm2 0h1m2 0zm4 0zm10 0zm25 0zm-110 1zm9 0zm2 0zm2 0h2m2 0h42m2 0zm2 0h1m2 0zm4 0zm2 0zm3 0zm6 0zm6 0zm-100 1zm2 0zm11 0zm2 0zm3 0zm7 0h1m2 0h43m2 0h2m8 0h1m3 0zm10 0h1m10 0zm3 0zm6 0zm17 0h1m2 0zm-127 1zm6 0zm3 0zm4 0h2m2 0h1m2 0h38m2 0h8m12 0zm2 0zm13 0zm-98 1zm11 0zm4 0zm2 0h2m3 0h41m2 0h3m2 0h1m3 0zm6 0zm30 0zm23 0zm-125 1zm2 0zm2 0zm5 0h43m2 0zm2 0zm5 0h2m2 0zm12 0zm9 0zm32 0zm6 0zm-132 1zm17 0h1m3 0h35m2 0h2m2 0h3m4 0h1m3 0zm2 0zm3 0zm7 0zm5 0zm28 0zm-124 1zm17 0zm2 0zm2 0h3m2 0h37m3 0zm3 0zm4 0zm2 0h2m13 0zm29 0zm3 0zm-119 1zm2 0zm11 0zm2 0zm2 0zm2 0h39m2 0h1m2 0h1m2 0zm2 0h3m5 0zm7 0zm7 0zm25 0zm-121 1zm15 0zm2 0zm2 0h1m2 0zm3 0zm2 0h42m2 0zm2 0h4m3 0h1m4 0zm2 0zm39 0zm-116 1zm4 0zm2 0h1m4 0h1m2 0h2m3 0h37m2 0h2m3 0zm2 0zm2 0zm10 0zm21 0zm23 0zm-120 1h2m3 0zm11 0h38m2 0h2m2 0h7m14 0zm2 0zm12 0zm7 0zm2 0zm6 0zm7 0zm-106 1zm2 0h41m2 0h1m2 0zm2 0zm2 0h1m2 0zm4 0zm11 0zm6 0zm28 0zm-136 1zm8 0zm14 0zm7 0h1m3 0h1m2 0zm2 0h39m4 0zm7 0zm10 0zm33 0zm2 0zm4 0zm-108 1h1m2 0zm2 0zm2 0h29m2 0h5m3 0h1m3 0h1m3 0zm5 0h1m4 0zm4 0zm9 0zm6 0zm-109 1zm24 0zm2 0zm3 0zm2 0h1m2 0h6m2 0h33m2 0h1m4 0zm3 0h1m10 0zm12 0zm14 0zm-99 1h4m3 0h36m2 0h1m2 0zm3 0h1m2 0zm4 0zm2 0h1m3 0zm5 0zm50 0zm-130 1zm15 0zm4 0h2m2 0h31m2 0h3m2 0zm2 0zm2 0zm3 0zm2 0zm5 0zm2 0zm-70 1zm6 0zm2 0h1m3 0h5m2 0h28m2 0zm2 0h5m6 0zm38 0zm-105 1zm10 0h1m2 0h3m2 0h23m2 0h1m3 0h2m2 0h4m4 0zm5 0h2m5 0zm11 0zm10 0zm3 0zm5 0zm26 0zm-119 1zm2 0zm4 0zm2 0zm2 0h2m2 0h25m2 0h2m2 0zm2 0zm2 0zm2 0h1m3 0zm2 0zm4 0zm33 0zm12 0zm3 0zm-109 1zm4 0zm3 0h1m2 0h26m2 0h1m2 0h8m2 0h1m3 0zm5 0zm34 0zm6 0zm6 0zm14 0zm-122 1zm11 0zm3 0h25m2 0h3m2 0zm2 0zm2 0h1m2 0zm5 0zm2 0zm45 0zm13 0zm-122 1zm5 0h1m6 0zm2 0zm2 0h5m2 0h12m2 0zm2 0h6m2 0h4m5 0zm5 0zm2 0zm3 0h1m5 0h1m10 0h1m6 0zm32 0zm-120 1h1m5 0h2m2 0zm2 0zm3 0h1m2 0h3m2 0h1m2 0h11m2 0h4m3 0h1m5 0zm5 0h1m11 0zm10 0zm15 0zm14 0zm-106 1zm2 0h3m4 0h1m3 0zm4 0h2m2 0zm2 0h12m4 0h1m3 0h1m4 0zm5 0zm2 0zm30 0zm23 0zm-130 1zm27 0h1m3 0zm2 0zm2 0zm2 0h4m2 0h3m2 0h2m2 0zm2 0h1m2 0h4m4 0zm3 0h2m2 0zm7 0zm2 0zm13 0zm8 0zm4 0zm25 0zm-117 1zm2 0zm6 0h1m7 0h5m2 0h4m4 0h1m2 0h2m2 0zm2 0h4m3 0h1m2 0zm2 0zm3 0zm17 0zm-66 1zm2 0zm3 0zm2 0h5m2 0zm2 0zm2 0zm2 0h1m4 0zm2 0h3m2 0h1m2 0h1m2 0h2m2 0h2m6 0zm6 0h1m26 0zm8 0zm-103 1zm13 0zm3 0zm4 0zm2 0h1m3 0h1m3 0zm3 0zm2 0h3m3 0zm2 0zm2 0h4m2 0zm3 0h2m7 0zm2 0zm-53 1zm9 0zm5 0zm2 0h1m4 0h3m2 0zm6 0zm2 0h1m2 0zm4 0zm2 0zm7 0zm8 0zm12 0zm30 0zm11 0zm-108 1zm7 0zm3 0zm3 0zm2 0h3m4 0h2m2 0h1m2 0h3m7 0h3m-51 1zm13 0zm2 0zm5 0zm4 0zm4 0h1m3 0h4m2 0h2m2 0h1m3 0h1m2 0h2m5 0zm39 0zm13 0zm8 0zm13 0zm-113 1zm2 0h1m2 0h1m2 0zm3 0zm3 0zm2 0h5m2 0zm2 0h1m3 0zm4 0h1m4 0zm4 0zm48 0zm-93 1zm6 0zm2 0zm3 0zm2 0zm2 0zm2 0zm6 0h2m2 0zm2 0zm2 0h1m2 0zm3 0zm2 0zm12 0zm32 0zm30 0zm-112 1zm9 0h5m3 0zm3 0zm3 0zm2 0h1m7 0zm10 0zm38 0zm-83 1zm9 0zm4 0h1m3 0zm4 0zm6 0h2m3 0zm3 0zm4 0zm11 0zm44 0zm4 0zm3 0zm-99 1zm9 0zm8 0zm3 0zm2 0h1m2 0zm2 0zm2 0zm2 0zm4 0h1m59 0zm18 0zm-127 1zm15 0h1m3 0zm2 0zm3 0h2m5 0zm3 0zm2 0zm5 0h1m2 0zm2 0zm6 0h1m-51 1zm16 0h1m2 0zm3 0zm2 0zm4 0zm2 0zm2 0zm7 0zm2 0h1m4 0h1m49 0zm10 0zm-111 1zm16 0zm14 0h1m3 0zm8 0zm2 0zm4 0zm5 0h2m7 0zm13 0zm52 0zm-107 1zm2 0zm2 0zm3 0zm4 0h2m4 0zm8 0zm3 0zm3 0zm7 0zm46 0zm16 0zm-127 1zm24 0h1m11 0zm6 0h1m2 0h1m2 0zm4 0zm2 0zm11 0zm3 0zm23 0zm17 0zm4 0zm15 0zm-107 1zm5 0zm12 0zm7 0zm5 0h2m5 0h1m54 0zm-84 1zm4 0h1m3 0zm5 0zm6 0zm9 0h1m2 0zm6 0zm4 0zm46 0zm5 0zm8 0zm-113 1zm6 0zm13 0zm14 0h3m3 0zm-28 1zm9 0zm2 0h2m6 0zm3 0h2m2 0h2m2 0h1m8 0zm4 0zm54 0zm-87 1h1m6 0zm3 0zm3 0zm3 0zm4 0zm3 0zm19 0zm-68 1zm14 0zm10 0zm4 0zm7 0h1m7 0zm2 0zm48 0zm15 0zm-87 1zm9 0zm3 0h1m3 0zm3 0zm4 0zm3 0h1m5 0zm3 0zm-54 1zm13 0zm12 0zm2 0zm5 0h1m9 0zm6 0zm55 0zm-107 1zm26 0zm10 0h1m3 0zm9 0zm6 0zm47 0zm-102 1zm5 0zm21 0zm4 0zm4 0zm2 0zm9 0zm2 0zm7 0zm57 0zm-124 1zm25 0zm8 0zm15 0zm9 0zm2 0zm2 0zm2 0zm11 0zm41 0zm6 0zm2 0zm-86 1h1m4 0zm3 0h1m2 0h1m2 0zm4 0h1m3 0zm-21 1h2m10 0zm6 0h2m5 0zm45 0zm-58 1h1m7 0h2m61 0h1m6 0zm4 0zm-87 1zm6 0zm3 0h1m51 0zm-62 1zm2 0zm4 0zm5 0h1m2 0zm-9 1zm2 0h1m3 0zm2 0zm10 0h1m41 0zm14 0zm-78 1zm4 0zm-4 1zm7 0zm3 0zm5 0zm-9 1zm3 0zm4 0zm6 0zm60 0zm-82 1zm2 0zm18 0zm3 0zm61 0zm-76 1zm2 0zm-46 1zm48 0zm3 0zm2 0zm5 0zm10 0zm-17 1zm6 0zm-18 2zm11 1h1m2 0zm-18 1zm7 0zm6 0zm8 0zm-11 2zm8 1zm1 1zm8 0zm-45 1zm3 0zm12 0zm2 0zm2 0h1m6 0h3m6 0zm3 0h1m3 0zm6 0h1m2 0zm3 0h1m10 0h5m2 0zm3 0zm4 0zm11 0zm2 0h1m3 0zm12 0h1"/>
<path class="ax" d="M0 0H374V374.1H0ZM195.4 0V374M0 211.2H374"/>
<path class="tkp" d="M-4.2 369.85h4.2M-4.2 363.56h4.2M-4.2 358.11h4.2M-4.2 353.30h4.2M-8.5 349.00h8.5M-4.2 320.70h4.2M-4.2 304.15h4.2M-4.2 292.41h4.2M-4.2 283.30h4.2M-4.2 275.85h4.2M-4.2 269.56h4.2M-4.2 264.11h4.2M-4.2 259.30h4.2M-8.5 255.00h8.5M-4.2 226.70h4.2M-4.2 210.15h4.2M-4.2 198.41h4.2M-4.2 189.30h4.2M-4.2 181.85h4.2M-4.2 175.56h4.2M-4.2 170.11h4.2M-4.2 165.30h4.2M-8.5 161.00h8.5M-4.2 132.70h4.2M-4.2 116.15h4.2M-4.2 104.41h4.2M-4.2 95.30h4.2M-4.2 87.85h4.2M-4.2 81.56h4.2M-4.2 76.11h4.2M-4.2 71.30h4.2M-8.5 67.00h8.5M-4.2 38.70h4.2M-4.2 22.15h4.2M-4.2 10.41h4.2M-4.2 1.30h4.2M10.83 374v4.2M19.88 374v4.2M27.28 374v4.2M33.53 374v4.2M38.95 374v4.2M43.73 374v4.2M48.00 374v8.5M76.12 374v4.2M92.56 374v4.2M104.23 374v4.2M113.28 374v4.2M120.68 374v4.2M126.93 374v4.2M132.35 374v4.2M137.13 374v4.2M141.40 374v8.5M169.52 374v4.2M185.96 374v4.2M197.63 374v4.2M206.68 374v4.2M214.08 374v4.2M220.33 374v4.2M225.75 374v4.2M230.53 374v4.2M234.80 374v8.5M262.92 374v4.2M279.36 374v4.2M291.03 374v4.2M300.08 374v4.2M307.48 374v4.2M313.73 374v4.2M319.15 374v4.2M323.93 374v4.2M328.20 374v8.5M356.32 374v4.2M372.76 374v4.2"/>
<rect class="qb" x="0.2" y="0" width="111.4" height="35.1" rx="3.5"/>
<text class="qt" y="25.6"><tspan x="1.9" textLength="42.6" lengthAdjust="spacingAndGlyphs">Q1: </tspan><tspan x="47.2" textLength="59.6" lengthAdjust="spacingAndGlyphs">3.15%</tspan></text>
<path class="qb" d="M247.6 0H372.8V28.4a3.5 3.5 0 0 1 -3.5 3.5H251.1a3.5 3.5 0 0 1 -3.5 -3.5Z"/>
<text class="qt" y="23.4"><tspan x="250.5" textLength="42.6" lengthAdjust="spacingAndGlyphs">Q2: </tspan><tspan x="295.8" textLength="72.6" lengthAdjust="spacingAndGlyphs">14.13%</tspan></text>
<rect class="qb" x="0.2" y="335.4" width="125.4" height="34.4" rx="3.5"/>
<text class="qt" y="361.6"><tspan x="1.9" textLength="42.6" lengthAdjust="spacingAndGlyphs">Q3: </tspan><tspan x="47.2" textLength="72.6" lengthAdjust="spacingAndGlyphs">78.90%</tspan></text>
<rect class="qb" x="260.2" y="335.4" width="112.6" height="34.4" rx="3.5"/>
<text class="qt" y="361.6"><tspan x="263.1" textLength="42.6" lengthAdjust="spacingAndGlyphs">Q4: </tspan><tspan x="308.4" textLength="59.6" lengthAdjust="spacingAndGlyphs">3.82%</tspan></text>
<text class="tt" x="187" y="-9.6" text-anchor="middle" textLength="180.4" lengthAdjust="spacingAndGlyphs">[A] FITC-A / PE-A</text>
<text class="tt" x="187" y="436" text-anchor="middle" textLength="69.2" lengthAdjust="spacingAndGlyphs">FITC-A</text>
<text class="tt" transform="translate(-49 187) rotate(-90)" text-anchor="middle" textLength="47" lengthAdjust="spacingAndGlyphs">PE-A</text>
<text class="tk" x="36.5" y="401">10<tspan class="ts" x="52.9" y="394.6">3</tspan></text><text class="tk" x="129.9" y="401">10<tspan class="ts" x="146.3" y="394.6">4</tspan></text><text class="tk" x="223.3" y="401">10<tspan class="ts" x="239.7" y="394.6">5</tspan></text><text class="tk" x="316.7" y="401">10<tspan class="ts" x="333.1" y="394.6">6</tspan></text><text class="tk" x="-35.2" y="354.8">10<tspan class="ts" x="-18.9" y="348.6">2</tspan></text><text class="tk" x="-35.2" y="260.8">10<tspan class="ts" x="-18.9" y="254.6">3</tspan></text><text class="tk" x="-35.2" y="166.8">10<tspan class="ts" x="-18.9" y="160.6">4</tspan></text><text class="tk" x="-35.2" y="72.8">10<tspan class="ts" x="-18.9" y="66.6">5</tspan></text>
</g>
<text class="lb" x="1202" y="512.3" text-anchor="middle">LBP</text>
<g transform="translate(1476 32)">
<path class="dots" transform="scale(1.4609) translate(.5 .5)" d="M215 13zm16 0zm-11 1zm11 0zm-17 1zm2 0zm23 0zm-30 1zm15 0zm7 0h1m6 0zm-17 2zm2 0h1m21 0zm-26 1zm9 0h1m4 0zm-18 1zm2 0zm2 0h1m3 0zm2 0zm2 0zm7 0zm10 0zm-32 1h1m4 0zm4 0h1m2 0zm4 0zm9 0zm-34 1zm6 0h1m4 0zm2 0zm2 0h1m15 0zm-38 1zm13 0zm3 0zm6 0h2m7 0zm18 0zm9 0zm-49 1zm3 0zm2 0h1m6 0zm15 0zm2 0zm-41 1zm15 0zm9 0h1m3 0h1m7 0h1m4 0zm2 0zm3 0zm-35 1zm3 0h3m2 0h2m2 0h3m7 0h1m5 0zm10 0zm-41 1zm2 0h2m3 0h1m4 0h1m3 0zm3 0h1m6 0zm4 0zm2 0zm8 0zm2 0zm-39 1zm4 0h2m2 0zm2 0h1m2 0zm3 0h2m5 0h2m7 0zm2 0zm-31 1h1m3 0h1m2 0zm2 0h1m2 0h2m3 0h2m4 0zm6 0zm-39 1zm3 0h3m3 0h2m3 0h1m3 0h3m5 0h2m10 0h1m-38 1zm4 0h2m3 0h4m3 0h1m3 0zm3 0zm3 0h2m2 0zm3 0zm7 0zm2 0zm-41 1zm5 0zm2 0zm4 0zm3 0h1m2 0h2m2 0zm2 0h3m5 0zm3 0h1m2 0zm-27 1h2m4 0zm2 0zm4 0zm2 0h2m2 0zm9 0zm-47 1zm3 0zm2 0h1m4 0h8m5 0h1m5 0h2m2 0h1m3 0zm12 0zm-42 1zm2 0zm3 0h1m2 0zm3 0h2m2 0zm3 0h4m2 0zm2 0zm6 0zm-52 1zm4 0zm12 0zm7 0zm2 0zm5 0h3m5 0zm3 0zm2 0h1m2 0zm16 0zm-56 1zm16 0zm4 0zm4 0zm2 0h5m2 0h1m2 0zm2 0zm3 0zm7 0zm2 0h1m-67 1zm12 0zm4 0zm3 0zm3 0zm6 0zm2 0h1m2 0h1m2 0zm2 0zm2 0h7m5 0zm4 0h1m2 0zm8 0zm4 0zm-77 1zm30 0zm5 0zm4 0zm2 0h1m3 0h1m2 0zm2 0zm2 0zm2 0zm2 0zm5 0zm-52 1zm8 0h2m12 0zm3 0h1m3 0h1m2 0h2m4 0zm2 0h1m3 0zm3 0h1m2 0zm7 0zm8 0zm-72 1zm2 0zm12 0zm3 0zm7 0zm3 0zm3 0zm3 0h1m3 0h9m2 0h3m3 0h1m2 0zm2 0h3m6 0zm-60 1zm13 0h1m2 0zm4 0zm7 0h1m2 0h10m2 0zm4 0h1m2 0zm5 0zm-68 1zm8 0zm5 0zm4 0zm2 0zm3 0zm2 0zm2 0zm3 0zm4 0h1m3 0zm4 0h1m2 0h2m2 0h2m2 0h3m4 0zm17 0h1m-60 1h1m2 0zm4 0zm4 0h1m2 0zm2 0h2m2 0h2m2 0h2m2 0h3m2 0h5m2 0zm2 0zm2 0h4m6 0zm-70 1zm8 0zm4 0h1m4 0zm3 0zm6 0zm4 0h1m2 0zm2 0h1m4 0zm2 0h7m2 0h4m2 0zm2 0h1m-63 1zm12 0zm4 0h1m5 0zm13 0zm9 0h15m4 0zm2 0zm2 0zm-66 1zm11 0zm8 0zm12 0zm3 0zm5 0h6m2 0h6m2 0h2m10 0zm4 0zm-67 1zm5 0zm4 0h1m6 0zm11 0zm3 0h2m3 0h2m2 0h4m3 0h1m2 0zm4 0zm5 0zm2 0zm4 0h1m-72 1h3m2 0zm6 0zm7 0zm10 0zm3 0zm4 0h2m2 0h1m3 0zm5 0h3m3 0zm2 0h1m-65 1zm13 0h2m4 0zm2 0zm4 0zm11 0zm4 0h1m7 0h1m4 0zm2 0zm4 0zm3 0h2m4 0zm3 0h1m2 0zm-68 1zm6 0zm4 0zm6 0zm9 0zm2 0zm2 0zm5 0zm4 0h1m3 0zm3 0zm2 0zm4 0h3m6 0zm-54 1h1m12 0zm5 0h1m2 0zm3 0zm5 0zm2 0h1m4 0zm4 0zm2 0zm3 0zm16 0zm15 0zm-79 1zm3 0zm10 0zm3 0h2m10 0h1m14 0zm8 0zm-62 1zm8 0zm2 0zm3 0zm3 0zm7 0h1m2 0zm6 0zm2 0h1m9 0zm2 0zm7 0h1m2 0zm5 0zm4 0zm6 0zm-66 1zm7 0zm10 0zm6 0zm10 0h2m6 0h1m2 0zm4 0zm4 0h2m4 0h1m-61 1h1m3 0h1m26 0h1m2 0zm2 0zm2 0h1m3 0zm7 0zm12 0zm2 0zm6 0zm-71 1zm2 0zm7 0zm6 0zm10 0zm9 0zm6 0zm6 0zm3 0zm3 0zm2 0zm7 0zm7 0zm4 0zm-67 1zm4 0zm6 0zm19 0h1m10 0zm2 0zm14 0zm3 0zm-68 1zm6 0zm2 0zm2 0zm2 0zm5 0zm3 0zm8 0zm4 0h1m10 0zm9 0zm4 0zm3 0zm4 0zm-62 1zm5 0zm9 0zm18 0zm7 0h1m4 0h1m9 0zm5 0zm5 0zm-65 1zm6 0zm5 0zm5 0zm8 0zm5 0zm5 0zm4 0zm20 0zm3 0zm10 0zm-76 1zm25 0zm23 0zm3 0zm5 0zm16 0zm8 0h1m-73 1zm11 0zm11 0zm5 0h1m11 0zm8 0h1m3 0zm16 0zm6 0zm-73 1zm17 0zm34 0zm7 0zm25 0zm-88 1zm3 0h2m3 0zm9 0h1m16 0zm21 0h1m9 0zm6 0zm-68 1zm2 0zm3 0zm21 0zm3 0zm33 0zm4 0zm22 0zm-87 1zm2 0zm2 0zm33 0h1m7 0zm7 0zm10 0zm8 0zm14 0zm-91 1zm8 0zm29 0zm8 0zm18 0zm8 0zm19 0zm-86 1zm2 0zm2 0zm14 0zm4 0zm5 0h1m2 0zm13 0zm31 0zm4 0h1m-85 1zm3 0zm6 0zm6 0h3m3 0zm8 0zm2 0zm4 0zm12 0zm7 0zm21 0zm9 0zm-85 1h1m2 0zm2 0h3m12 0h1m53 0zm13 0zm-101 1zm11 0zm8 0zm2 0zm9 0zm22 0zm9 0zm8 0h1m2 0zm33 0zm11 0zm-100 1zm2 0zm3 0zm7 0zm5 0zm21 0zm17 0zm35 0zm-96 1zm31 0zm15 0zm20 0zm25 0zm4 0zm2 0zm-78 1zm20 0zm11 0zm9 0zm3 0zm14 0zm9 0zm5 0h1m-94 1zm5 0h2m2 0zm18 0zm37 0zm5 0zm6 0zm10 0zm8 0zm-85 1zm25 0zm3 0zm2 0zm4 0zm7 0zm24 0zm5 0zm16 0zm2 0h2m9 0zm-107 1zm2 0zm2 0zm13 0zm2 0zm14 0zm30 0zm5 0zm29 0h1m5 0zm2 0zm3 0zm-110 1h1m3 0zm3 0zm11 0zm24 0zm-43 1zm18 0zm7 0zm4 0zm3 0zm3 0zm14 0zm9 0zm12 0zm5 0zm16 0zm20 0zm-113 1h1m4 0zm13 0zm4 0zm2 0zm11 0zm7 0zm6 0zm56 0zm-108 1zm12 0zm10 0zm47 0zm36 0zm3 0zm-103 1zm6 0zm11 0zm4 0zm10 0zm16 0zm9 0zm6 0zm19 0zm2 0zm10 0zm-91 1zm12 0zm2 0zm4 0zm2 0zm6 0zm19 0zm10 0h1m20 0zm-71 1zm11 0h1m6 0zm12 0zm9 0zm17 0zm30 0zm2 0zm6 0zm2 0zm-94 1zm4 0zm26 0zm22 0zm3 0zm16 0zm9 0zm5 0zm-104 1zm2 0zm9 0zm15 0h1m4 0zm16 0zm4 0zm4 0zm-46 1zm4 0zm10 0zm9 0zm3 0zm10 0zm3 0zm5 0zm12 0zm25 0zm8 0zm3 0h1m5 0zm-104 1zm18 0zm9 0zm20 0zm11 0zm-55 1zm11 0zm11 0zm8 0zm14 0zm14 0zm4 0zm22 0zm4 0zm26 0zm4 0zm-122 1zm8 0zm38 0zm15 0zm33 0zm7 0zm7 0h1m-78 1zm6 0zm4 0zm8 0zm16 0zm19 0zm7 0zm12 0zm-103 1h1m4 0zm25 0zm22 0zm51 0zm2 0h1m5 0zm-115 1zm7 0h2m4 0zm31 0zm11 0zm32 0zm10 0zm13 0zm8 0zm-107 1zm16 0zm3 0zm10 0zm32 0zm8 0zm20 0zm15 0zm2 0h1m-120 1zm3 0zm7 0zm8 0h1m5 0zm17 0zm4 0zm13 0zm33 0zm13 0h1m9 0zm4 0zm-114 1zm3 0zm4 0zm18 0zm22 0zm6 0zm43 0zm-89 1zm7 0zm28 0zm6 0zm38 0zm25 0zm5 0zm-105 1zm6 0zm69 0zm4 0zm4 0zm6 0zm18 0zm-119 1zm59 0zm14 0zm9 0zm9 0zm15 0zm-113 1zm7 0zm8 0h1m25 0zm8 0zm5 0zm8 0zm8 0zm3 0zm35 0zm19 0zm-118 1zm6 0zm28 0zm4 0zm2 0zm21 0zm25 0h1m4 0zm-100 1zm28 0zm2 0zm10 0zm3 0zm5 0zm25 0zm11 0zm24 0zm15 0zm-124 1zm7 0zm11 0zm9 0zm43 0h1m19 0zm19 0zm4 0zm-109 1zm3 0zm6 0zm7 0zm6 0zm16 0zm27 0zm52 0zm-118 1zm4 0zm3 0zm13 0zm7 0zm30 0zm3 0zm40 0zm6 0zm2 0zm15 0zm-126 1zm3 0h2m6 0h1m3 0zm12 0zm20 0h1m12 0h1m10 0zm24 0zm5 0zm-79 1zm5 0zm19 0zm28 0zm23 0zm6 0zm7 0zm-104 1zm12 0zm8 0zm26 0zm21 0zm12 0zm11 0zm42 0zm-146 1zm5 0zm3 0zm5 0zm16 0zm3 0zm34 0zm7 0zm22 0zm19 0zm2 0zm12 0zm2 0zm-118 1zm5 0zm10 0zm18 0zm27 0zm6 0h1m-71 1zm4 0zm3 0h2m2 0zm7 0zm51 0zm-63 1zm5 0zm5 0zm2 0h1m25 0zm13 0zm10 0zm2 0zm11 0zm26 0zm6 0h2m11 0zm-129 1zm8 0zm12 0zm62 0zm16 0zm8 0zm14 0zm-116 1zm2 0zm16 0zm4 0zm45 0zm8 0zm32 0zm-114 1zm8 0zm2 0zm6 0zm7 0zm22 0zm3 0zm8 0zm3 0zm4 0zm3 0zm5 0zm2 0zm17 0zm12 0zm2 0zm14 0zm-117 1zm5 0zm22 0zm87 0zm-107 1zm2 0zm11 0h1m5 0zm32 0zm24 0zm14 0zm-91 1h2m11 0zm2 0zm6 0zm24 0h1m11 0zm20 0zm12 0zm25 0zm2 0zm-105 1zm34 0zm12 0zm17 0zm46 0zm-122 1h1m6 0zm12 0h1m29 0zm34 0zm5 0zm25 0zm6 0zm-127 1zm8 0zm13 0zm34 0zm10 0zm7 0zm13 0h1m4 0zm22 0h2m-111 1h1m4 0h2m12 0zm72 0zm12 0zm-105 1h1m4 0zm11 0zm5 0zm38 0zm6 0zm7 0zm20 0zm6 0zm9 0zm2 0zm-102 1zm5 0zm6 0zm26 0zm20 0zm3 0zm5 0zm7 0zm9 0zm6 0zm-93 1zm2 0zm9 0zm4 0zm47 0zm9 0zm47 0zm-109 1h1m5 0zm7 0zm58 0zm4 0zm10 0zm-94 1zm2 0zm2 0zm9 0h1m10 0zm21 0zm5 0zm13 0zm33 0zm2 0zm-91 1zm3 0h1m7 0zm18 0zm20 0zm29 0zm4 0zm-95 1zm3 0zm13 0zm20 0zm30 0zm30 0zm3 0zm2 0zm7 0zm9 0zm3 0zm-97 1zm11 0zm11 0zm10 0zm14 0zm23 0zm18 0zm6 0zm-108 1h2m11 0zm15 0zm29 0h1m4 0zm43 0zm11 0zm-118 1zm6 0zm13 0zm5 0zm17 0zm5 0zm3 0zm8 0zm7 0zm3 0zm42 0zm7 0h1m-121 1zm2 0zm13 0zm10 0zm24 0zm66 0zm-116 1zm8 0h1m13 0zm12 0zm20 0zm14 0zm2 0zm45 0h1m-118 1zm3 0zm11 0zm3 0zm5 0zm23 0zm21 0zm56 0zm-122 1zm6 0zm12 0zm12 0zm2 0zm2 0zm6 0zm8 0zm5 0zm2 0zm54 0zm12 0zm2 0zm-122 1zm2 0zm4 0zm13 0zm10 0zm2 0zm13 0zm5 0h1m10 0zm6 0zm41 0zm9 0zm7 0zm-126 1h1m8 0zm2 0zm10 0zm8 0zm10 0zm4 0zm13 0zm4 0zm6 0zm-67 1zm6 0h1m2 0zm11 0zm15 0zm3 0zm2 0zm2 0zm5 0zm4 0zm3 0zm3 0zm6 0zm3 0zm14 0zm3 0zm31 0zm7 0zm-116 1h1m7 0zm4 0zm3 0zm3 0zm11 0zm2 0zm4 0h1m3 0h1m26 0zm21 0zm22 0zm-110 1zm8 0zm2 0h2m3 0h1m2 0zm10 0zm2 0zm2 0zm3 0zm14 0h1m19 0zm41 0zm-111 1zm3 0zm10 0zm12 0zm11 0h1m6 0zm40 0zm6 0zm-90 1zm3 0zm12 0zm3 0zm2 0h1m8 0zm4 0zm2 0zm23 0zm6 0zm5 0zm14 0zm16 0zm-98 1zm2 0zm5 0zm2 0zm2 0zm2 0zm2 0zm11 0zm6 0zm11 0zm10 0zm2 0zm12 0zm4 0zm24 0zm-94 1zm8 0zm2 0zm6 0zm12 0h2m8 0zm3 0zm7 0h1m4 0zm9 0zm11 0zm14 0h1m-78 1zm2 0zm3 0zm2 0h2m2 0zm4 0zm5 0zm2 0h3m2 0zm2 0zm16 0h1m23 0zm3 0zm12 0zm-91 1zm2 0zm9 0h1m4 0h1m3 0h3m3 0h1m2 0zm3 0h1m6 0h1m4 0zm4 0zm6 0zm2 0zm14 0zm6 0h1m-74 1zm6 0zm5 0zm3 0zm3 0h2m3 0zm11 0zm3 0h4m4 0zm3 0zm2 0zm2 0zm21 0zm3 0zm2 0h1m15 0zm-113 1zm13 0zm11 0h2m6 0zm2 0h1m4 0h1m2 0zm2 0h3m5 0h2m3 0zm10 0zm19 0zm14 0zm15 0zm-100 1zm4 0h1m8 0h3m3 0h1m3 0zm2 0zm2 0h3m2 0zm2 0zm2 0h2m2 0h1m5 0h2m5 0h1m2 0zm7 0zm4 0zm8 0zm2 0zm4 0zm4 0zm5 0zm2 0zm2 0zm-92 1h1m3 0zm5 0zm6 0h1m4 0h1m2 0h1m6 0zm2 0h2m2 0zm2 0zm3 0zm6 0h3m5 0zm-50 1zm3 0h3m4 0h1m5 0h1m3 0h2m3 0h1m3 0h4m2 0h3m2 0h2m4 0zm14 0zm4 0zm3 0zm-78 1zm9 0zm2 0zm2 0zm2 0zm4 0h1m2 0zm3 0h1m3 0h5m5 0h2m4 0h2m4 0zm8 0zm3 0zm7 0zm15 0zm15 0zm-107 1zm11 0h1m2 0zm5 0zm2 0h2m2 0h4m4 0zm2 0h3m2 0zm4 0zm4 0h2m3 0zm2 0h2m2 0h2m22 0zm11 0zm8 0zm6 0zm3 0zm5 0zm-110 1zm5 0zm6 0zm2 0zm2 0zm2 0h1m2 0h4m2 0h1m2 0h9m3 0zm3 0h2m4 0h1m3 0h1m2 0zm7 0zm6 0zm14 0zm9 0zm18 0zm-120 1zm7 0h1m6 0zm4 0zm2 0h1m2 0h2m3 0h1m2 0h4m2 0h5m2 0h2m2 0h1m2 0h1m2 0zm3 0h2m4 0zm2 0h1m4 0h1m2 0zm8 0zm2 0zm7 0zm19 0zm-108 1zm11 0zm4 0zm2 0h2m2 0h2m2 0h3m3 0h2m2 0h10m3 0h1m3 0zm3 0h2m2 0h1m2 0zm2 0zm6 0zm22 0h1m-106 1zm11 0h1m5 0zm2 0zm2 0h2m3 0zm2 0h1m2 0h2m3 0h5m3 0h1m2 0h12m2 0h5m2 0zm3 0zm2 0h3m2 0zm4 0h1m7 0zm31 0zm6 0zm-133 1zm31 0h1m2 0zm2 0zm3 0zm2 0h23m2 0h1m2 0zm2 0zm2 0h1m2 0zm2 0h1m2 0h2m2 0zm19 0zm4 0zm18 0zm-110 1zm3 0zm3 0h2m7 0h3m3 0h9m2 0h10m2 0h5m3 0zm4 0zm2 0h1m3 0zm4 0h1m3 0h1m2 0zm6 0zm14 0zm5 0zm4 0zm12 0zm3 0zm-104 1h1m3 0zm2 0h1m2 0h21m2 0h3m7 0h1m3 0h3m3 0zm2 0zm5 0zm4 0zm7 0zm5 0zm29 0zm3 0zm-128 1zm14 0zm8 0zm2 0zm3 0zm4 0zm2 0h26m2 0h1m2 0h1m2 0h1m2 0zm2 0h1m6 0zm2 0zm17 0h1m6 0zm20 0zm-114 1zm6 0h1m4 0h1m3 0zm2 0zm2 0h27m2 0zm2 0h2m3 0h2m2 0zm2 0zm2 0zm2 0zm8 0zm2 0zm6 0zm-97 1zm17 0zm2 0zm5 0zm3 0zm2 0h4m2 0h30m3 0h2m2 0zm2 0h2m2 0zm3 0zm3 0zm9 0zm2 0zm11 0zm6 0zm10 0zm11 0zm-120 1zm7 0zm2 0zm3 0zm2 0zm2 0h37m5 0h2m2 0h3m3 0zm3 0h1m23 0zm13 0zm7 0zm-112 1zm2 0h3m4 0zm3 0zm2 0zm2 0h32m2 0h1m2 0h1m2 0h4m2 0h4m2 0zm3 0zm2 0zm8 0zm2 0zm27 0zm-110 1zm4 0h2m2 0h8m2 0h35m6 0zm2 0h1m3 0h1m3 0zm29 0zm-105 1zm5 0zm8 0zm3 0h2m3 0h35m2 0zm3 0h1m2 0h2m2 0zm2 0h1m2 0h1m23 0zm8 0zm15 0zm-117 1zm10 0h1m2 0h37m2 0h3m2 0zm2 0h2m2 0zm7 0h1m23 0zm6 0zm24 0zm-121 1zm2 0zm4 0zm3 0zm2 0h3m2 0h34m2 0h2m2 0h2m2 0h1m3 0zm2 0zm3 0h1m2 0zm2 0h1m32 0zm-116 1zm5 0zm4 0zm3 0h3m3 0zm2 0h39m4 0zm3 0zm3 0zm3 0zm4 0zm2 0zm4 0zm15 0zm-98 1zm7 0h2m6 0h1m2 0zm2 0h38m4 0h1m2 0zm10 0h2m3 0zm35 0zm-105 1h7m2 0h35m2 0h2m2 0h5m2 0zm3 0zm6 0zm6 0zm6 0zm5 0zm11 0zm2 0zm-103 1zm4 0h4m6 0h44m3 0h1m2 0zm2 0zm7 0zm2 0zm6 0zm7 0zm5 0zm12 0zm4 0zm3 0zm-112 1zm8 0h2m3 0h4m2 0h36m3 0h1m4 0h1m8 0zm5 0zm21 0zm-98 1h3m2 0h3m3 0h43m2 0zm2 0h1m3 0h1m3 0h3m18 0zm-91 1zm6 0zm5 0h1m2 0h2m2 0h37m2 0h2m2 0zm2 0h1m4 0zm2 0zm38 0zm6 0zm10 0zm-128 1zm2 0h1m4 0zm11 0h47m2 0h2m3 0zm3 0zm11 0zm22 0zm4 0zm-109 1zm7 0zm2 0zm2 0h2m2 0zm2 0h43m3 0h3m3 0h2m2 0zm34 0zm-101 1zm5 0zm3 0zm2 0zm2 0h37m4 0zm3 0zm2 0h4m2 0h1m2 0zm2 0zm7 0zm7 0zm26 0zm13 0zm7 0zm-130 1zm2 0zm2 0zm2 0zm2 0h41m2 0h5m2 0zm2 0h1m10 0zm3 0zm28 0zm11 0h1m-118 1zm3 0h1m5 0h2m4 0h1m2 0h32m2 0h5m2 0zm3 0zm2 0zm2 0zm2 0zm2 0zm7 0zm9 0zm9 0zm19 0h1m-112 1h5m2 0h44m2 0h2m2 0zm2 0h2m4 0zm2 0zm42 0zm-119 1h1m4 0h3m2 0zm3 0h1m2 0h43m2 0zm3 0h1m2 0h1m4 0zm5 0zm9 0zm23 0zm20 0zm-131 1zm4 0zm3 0zm6 0zm3 0h1m3 0zm2 0h34m2 0zm2 0zm2 0zm2 0h2m4 0zm14 0zm24 0zm-111 1zm3 0zm9 0zm6 0h4m2 0h3m2 0h31m2 0zm3 0h2m3 0zm2 0h1m2 0h1m4 0zm11 0zm39 0zm12 0zm-139 1zm11 0h3m5 0h3m2 0h32m2 0h1m2 0h2m4 0zm3 0zm2 0zm8 0zm10 0zm30 0zm-127 1zm10 0zm7 0zm4 0h1m5 0h13m2 0h24m4 0h3m2 0zm8 0zm18 0zm3 0zm7 0zm10 0h1m20 0zm-145 1zm10 0zm8 0h1m3 0zm2 0zm6 0h42m3 0zm3 0h3m7 0h1m26 0zm8 0zm17 0zm-118 1h1m3 0h36m2 0h5m2 0zm4 0zm3 0zm11 0zm5 0zm9 0h1m3 0zm-89 1zm2 0h1m2 0h1m4 0zm2 0h32m3 0zm2 0h3m5 0zm4 0h1m41 0zm5 0zm-113 1zm5 0h1m9 0zm4 0h29m2 0h8m2 0h3m17 0zm38 0zm-111 1zm2 0h2m2 0h38m2 0zm2 0h2m6 0h1m15 0zm6 0zm31 0zm2 0zm-123 1zm9 0zm2 0zm2 0zm4 0zm2 0zm2 0h33m2 0zm2 0h2m2 0zm2 0h1m2 0zm8 0zm55 0zm8 0zm-140 1zm7 0zm4 0zm3 0h1m3 0h1m2 0h3m2 0h23m2 0h8m2 0h1m3 0zm4 0zm2 0zm14 0h1m3 0zm27 0zm14 0zm-127 1zm10 0h1m2 0h1m2 0h2m3 0h30m2 0h1m2 0zm4 0zm2 0zm5 0zm50 0zm7 0h1m-120 1zm2 0zm3 0zm2 0zm3 0h29m2 0h3m2 0h1m2 0h4m2 0h2m4 0zm3 0zm3 0h1m16 0zm-78 1zm3 0zm3 0h1m2 0zm3 0h29m2 0zm2 0zm3 0zm3 0zm4 0zm10 0zm-76 1zm3 0zm7 0zm2 0h4m2 0zm2 0zm2 0h11m2 0h10m2 0h2m2 0h3m3 0zm2 0h1m43 0zm-109 1zm8 0zm6 0h1m4 0zm4 0zm2 0zm2 0h18m2 0h3m2 0zm3 0zm2 0h1m2 0h3m5 0zm7 0zm51 0zm-123 1zm5 0zm10 0h2m3 0zm3 0h1m3 0h23m2 0zm7 0h2m12 0zm3 0zm15 0zm37 0zm-120 1zm2 0zm6 0h2m3 0zm2 0zm2 0h8m2 0h4m2 0zm2 0h3m2 0zm2 0h3m3 0h5m6 0zm2 0zm24 0zm31 0zm2 0zm4 0zm-139 1zm14 0zm9 0zm9 0zm2 0h13m2 0zm2 0h8m3 0zm3 0zm5 0h1m2 0zm10 0zm16 0zm12 0zm-92 1h2m2 0h2m3 0zm2 0zm4 0h6m2 0h1m2 0h5m2 0h5m4 0h2m2 0zm2 0zm3 0h1m8 0zm31 0zm23 0zm10 0zm-137 1zm8 0zm3 0h1m5 0zm3 0zm4 0zm3 0zm2 0h1m3 0zm3 0h1m2 0h2m2 0zm3 0h1m2 0h1m2 0h1m3 0h1m9 0zm6 0zm59 0zm-113 1zm4 0h1m3 0h1m2 0zm3 0h1m2 0zm2 0zm3 0h3m2 0h1m2 0h1m2 0zm4 0zm3 0zm35 0zm13 0zm11 0zm-99 1zm6 0h2m2 0zm6 0h2m2 0h1m3 0h3m2 0h3m3 0zm2 0h1m4 0zm5 0zm48 0h1m7 0zm-113 1zm7 0zm2 0zm3 0zm3 0zm5 0zm2 0h1m3 0h1m2 0h2m3 0h2m3 0h2m3 0zm4 0zm4 0zm34 0zm19 0zm22 0zm-121 1h1m8 0h2m3 0zm3 0h1m2 0zm2 0h1m6 0h2m2 0zm2 0zm10 0zm62 0zm-117 1zm2 0zm8 0zm3 0h1m10 0zm4 0zm3 0h1m2 0h5m4 0zm2 0zm3 0h1m2 0zm7 0zm5 0zm6 0zm43 0zm-112 1zm4 0zm2 0zm12 0zm5 0zm2 0zm4 0h1m4 0zm2 0h5m3 0zm7 0h1m3 0zm3 0zm-38 1h1m5 0h2m3 0zm2 0h2m2 0zm2 0zm5 0h2m3 0zm12 0zm30 0zm38 0zm-115 1h2m5 0zm13 0h1m3 0h1m3 0zm2 0zm2 0zm10 0zm56 0zm7 0zm-110 1zm3 0h4m4 0h1m2 0h1m2 0h1m3 0h1m3 0zm2 0zm5 0zm6 0h1m3 0zm50 0zm-89 1zm3 0zm5 0zm3 0zm2 0zm4 0zm5 0h2m5 0h1m2 0zm4 0zm3 0zm18 0zm-67 1zm3 0zm7 0zm12 0zm12 0zm2 0h1m3 0zm2 0zm2 0h1m4 0zm51 0zm4 0zm11 0zm-122 1zm17 0h1m5 0zm7 0h1m2 0h2m2 0zm10 0zm2 0zm5 0h1m2 0zm57 0zm12 0zm-106 1zm6 0zm10 0zm6 0h2m5 0h2m3 0zm3 0zm71 0zm-117 1zm17 0h1m2 0zm3 0zm5 0zm2 0zm3 0zm3 0zm2 0zm2 0zm2 0zm71 0zm-119 1zm9 0zm2 0zm10 0zm9 0h1m2 0zm3 0zm2 0zm5 0zm4 0zm3 0zm57 0zm7 0zm-91 1h1m6 0zm8 0zm4 0h1m4 0h1m4 0zm63 0zm7 0zm-108 1zm8 0zm2 0zm5 0zm2 0zm6 0h1m4 0zm6 0zm4 0h1m64 0zm-123 1zm21 0zm5 0zm6 0zm2 0h1m4 0zm2 0h1m3 0zm3 0h3m4 0zm4 0zm-57 1zm12 0zm23 0zm3 0zm4 0zm6 0zm2 0zm8 0zm-40 1zm7 0zm9 0zm6 0zm6 0h3m2 0zm6 0zm-49 1zm10 0zm6 0zm8 0zm5 0zm3 0zm4 0h2m4 0zm6 0zm-37 1zm12 0zm7 0h2m3 0zm11 0h1m3 0zm-20 1zm2 0zm2 0h1m2 0zm2 0h2m2 0h1m7 0zm4 0zm-42 1zm2 0zm15 0zm6 0h2m2 0zm4 0h2m-29 1zm4 0zm3 0zm5 0zm2 0h1m4 0zm4 0zm6 0zm4 0zm50 0zm-85 1zm7 0zm5 0zm3 0zm3 0h1m2 0h1m5 0zm-44 1zm36 0h1m2 0zm3 0zm2 0zm2 0zm-17 1zm5 0zm11 0zm6 0zm-23 1zm3 0zm5 0zm2 0zm5 0h2m2 0zm2 0zm-45 1zm20 0zm3 0zm2 0h1m10 0zm4 0zm-17 1zm8 0zm4 0zm7 0zm-21 1zm5 0zm6 0zm2 0zm-30 1zm21 0zm6 0zm6 0zm8 0zm-46 1zm26 0zm11 0zm6 0zm-4 1zm-37 1zm27 0h1m4 0zm2 0zm-16 1zm20 0h1m19 0zm-36 1zm4 0h1m2 0zm5 0zm4 0zm2 0zm-62 1zm44 0zm13 0zm-22 1zm20 0zm-15 1zm4 0zm6 0zm2 0h1m2 0zm-1 3h1m6 1zm-17 1zm4 0zm-45 2zm28 1zm8 0zm11 0zm2 0zm2 0h1m2 0zm3 0h3m7 0h1m2 0zm23 0zm2 0zm5 0zm5 0zm3 0zm10 0zm4 0zm2 0h1m4 0z"/>
<path class="ax" d="M0 0H374V374.1H0ZM195.4 0V374M0 211.2H374"/>
<path class="tkp" d="M-4.2 369.85h4.2M-4.2 363.56h4.2M-4.2 358.11h4.2M-4.2 353.30h4.2M-8.5 349.00h8.5M-4.2 320.70h4.2M-4.2 304.15h4.2M-4.2 292.41h4.2M-4.2 283.30h4.2M-4.2 275.85h4.2M-4.2 269.56h4.2M-4.2 264.11h4.2M-4.2 259.30h4.2M-8.5 255.00h8.5M-4.2 226.70h4.2M-4.2 210.15h4.2M-4.2 198.41h4.2M-4.2 189.30h4.2M-4.2 181.85h4.2M-4.2 175.56h4.2M-4.2 170.11h4.2M-4.2 165.30h4.2M-8.5 161.00h8.5M-4.2 132.70h4.2M-4.2 116.15h4.2M-4.2 104.41h4.2M-4.2 95.30h4.2M-4.2 87.85h4.2M-4.2 81.56h4.2M-4.2 76.11h4.2M-4.2 71.30h4.2M-8.5 67.00h8.5M-4.2 38.70h4.2M-4.2 22.15h4.2M-4.2 10.41h4.2M-4.2 1.30h4.2M10.83 374v4.2M19.88 374v4.2M27.28 374v4.2M33.53 374v4.2M38.95 374v4.2M43.73 374v4.2M48.00 374v8.5M76.12 374v4.2M92.56 374v4.2M104.23 374v4.2M113.28 374v4.2M120.68 374v4.2M126.93 374v4.2M132.35 374v4.2M137.13 374v4.2M141.40 374v8.5M169.52 374v4.2M185.96 374v4.2M197.63 374v4.2M206.68 374v4.2M214.08 374v4.2M220.33 374v4.2M225.75 374v4.2M230.53 374v4.2M234.80 374v8.5M262.92 374v4.2M279.36 374v4.2M291.03 374v4.2M300.08 374v4.2M307.48 374v4.2M313.73 374v4.2M319.15 374v4.2M323.93 374v4.2M328.20 374v8.5M356.32 374v4.2M372.76 374v4.2"/>
<rect class="qb" x="0.2" y="0" width="111.4" height="35.1" rx="3.5"/>
<text class="qt" y="25.6"><tspan x="1.9" textLength="42.6" lengthAdjust="spacingAndGlyphs">Q1: </tspan><tspan x="47.2" textLength="59.6" lengthAdjust="spacingAndGlyphs">2.67%</tspan></text>
<path class="qb" d="M247.6 0H372.8V28.4a3.5 3.5 0 0 1 -3.5 3.5H251.1a3.5 3.5 0 0 1 -3.5 -3.5Z"/>
<text class="qt" y="23.4"><tspan x="250.5" textLength="42.6" lengthAdjust="spacingAndGlyphs">Q2: </tspan><tspan x="295.8" textLength="72.6" lengthAdjust="spacingAndGlyphs">13.25%</tspan></text>
<rect class="qb" x="0.2" y="335.4" width="125.4" height="34.4" rx="3.5"/>
<text class="qt" y="361.6"><tspan x="1.9" textLength="42.6" lengthAdjust="spacingAndGlyphs">Q3: </tspan><tspan x="47.2" textLength="72.6" lengthAdjust="spacingAndGlyphs">80.06%</tspan></text>
<rect class="qb" x="260.2" y="335.4" width="112.6" height="34.4" rx="3.5"/>
<text class="qt" y="361.6"><tspan x="263.1" textLength="42.6" lengthAdjust="spacingAndGlyphs">Q4: </tspan><tspan x="308.4" textLength="59.6" lengthAdjust="spacingAndGlyphs">4.01%</tspan></text>
<text class="tt" x="187" y="-9.6" text-anchor="middle" textLength="180.4" lengthAdjust="spacingAndGlyphs">[A] FITC-A / PE-A</text>
<text class="tt" x="187" y="436" text-anchor="middle" textLength="69.2" lengthAdjust="spacingAndGlyphs">FITC-A</text>
<text class="tt" transform="translate(-49 187) rotate(-90)" text-anchor="middle" textLength="47" lengthAdjust="spacingAndGlyphs">PE-A</text>
<text class="tk" x="36.5" y="401">10<tspan class="ts" x="52.9" y="394.6">3</tspan></text><text class="tk" x="129.9" y="401">10<tspan class="ts" x="146.3" y="394.6">4</tspan></text><text class="tk" x="223.3" y="401">10<tspan class="ts" x="239.7" y="394.6">5</tspan></text><text class="tk" x="316.7" y="401">10<tspan class="ts" x="333.1" y="394.6">6</tspan></text><text class="tk" x="-35.2" y="354.8">10<tspan class="ts" x="-18.9" y="348.6">2</tspan></text><text class="tk" x="-35.2" y="260.8">10<tspan class="ts" x="-18.9" y="254.6">3</tspan></text><text class="tk" x="-35.2" y="166.8">10<tspan class="ts" x="-18.9" y="160.6">4</tspan></text><text class="tk" x="-35.2" y="72.8">10<tspan class="ts" x="-18.9" y="66.6">5</tspan></text>
</g>
<text class="lb" x="1657.3" y="512.3" text-anchor="middle">inhibitor-NC+LBP</text>
<g transform="translate(79 594.4)">
<path class="dots" transform="scale(1.4609) translate(.5 .5)" d="M204 15zm21 2zm9 0zm12 0zm-67 2zm17 0zm23 0zm5 0zm2 0zm-28 1zm16 0h1m17 0zm18 0zm-44 1zm2 0zm8 0h1m-38 1zm16 0zm12 0zm4 0h1m3 0zm3 0zm11 0zm4 0zm-40 1zm15 0zm2 0h1m3 0zm9 0zm15 0zm-45 1zm3 0zm9 0h1m2 0zm3 0zm3 0zm4 0zm2 0zm2 0zm3 0zm3 0zm5 0zm-41 1zm4 0zm5 0zm2 0zm5 0zm10 0zm15 0zm-44 1zm3 0zm5 0h1m7 0zm7 0zm6 0zm4 0zm6 0zm-32 1zm7 0zm2 0h1m3 0zm3 0h1m7 0zm2 0h1m3 0zm3 0zm-46 1zm6 0zm6 0zm5 0h1m6 0zm9 0h1m2 0zm10 0h1m-44 1zm5 0zm5 0zm4 0zm7 0zm2 0zm4 0h1m2 0zm4 0zm11 0zm5 0zm-73 1zm24 0zm2 0zm13 0h1m8 0zm10 0zm7 0zm2 0zm3 0h1m5 0zm15 0zm-93 1zm5 0zm28 0zm4 0zm10 0zm2 0zm2 0zm3 0zm2 0zm2 0h2m3 0zm4 0zm9 0zm-64 1zm7 0zm15 0h1m2 0zm2 0h3m2 0zm3 0h1m8 0zm7 0zm5 0h2m7 0zm-66 1zm14 0zm4 0zm9 0zm4 0zm3 0h2m5 0zm10 0zm3 0zm7 0zm15 0zm-62 1h2m5 0zm2 0zm3 0h1m6 0zm2 0zm5 0zm4 0zm4 0zm2 0zm-41 1zm3 0zm6 0zm3 0zm4 0h1m3 0h1m2 0zm6 0zm5 0h2m6 0zm9 0zm7 0zm2 0zm-55 1zm7 0zm2 0h2m2 0h4m2 0h2m2 0zm4 0zm2 0zm3 0zm2 0zm2 0zm4 0zm2 0zm5 0zm3 0zm2 0h1m-69 1zm14 0zm5 0h2m5 0h1m4 0h2m3 0zm2 0h2m2 0zm3 0zm2 0h1m2 0h1m2 0zm5 0zm5 0zm-57 1zm4 0h2m8 0zm3 0zm3 0zm2 0h4m2 0h2m2 0zm2 0h1m4 0zm4 0h1m2 0zm2 0zm5 0zm5 0zm5 0zm-71 1zm3 0zm12 0h1m4 0h3m5 0h2m3 0h1m3 0h2m2 0h1m2 0zm2 0h2m2 0zm6 0h1m-60 1zm8 0zm2 0zm6 0zm3 0zm2 0zm5 0zm3 0h4m2 0h1m2 0h5m3 0h1m5 0h2m7 0zm4 0zm3 0zm-59 1zm3 0h1m6 0zm5 0zm4 0h1m3 0zm2 0zm2 0h1m2 0h1m2 0h1m2 0zm2 0zm2 0h3m3 0h1m4 0zm2 0zm5 0zm-63 1h1m7 0zm10 0zm3 0zm3 0h1m2 0h6m3 0zm4 0zm4 0zm5 0h1m2 0h1m5 0zm23 0zm-85 1zm3 0zm2 0zm6 0h1m14 0zm4 0h2m2 0h1m2 0zm4 0h2m2 0h1m2 0zm3 0zm13 0zm-65 1zm9 0h1m3 0zm5 0zm3 0h4m2 0zm6 0h2m8 0h1m2 0zm2 0zm4 0zm7 0zm-52 1zm3 0zm13 0zm2 0zm2 0zm3 0zm2 0zm2 0zm5 0zm2 0zm3 0zm3 0zm-56 1zm13 0h1m3 0zm2 0zm6 0zm5 0zm2 0h6m2 0h1m2 0h1m2 0zm2 0zm3 0h1m6 0zm-49 1zm5 0h1m11 0zm2 0zm2 0h1m5 0h6m11 0zm2 0h1m2 0zm14 0zm-63 1zm3 0zm4 0zm2 0zm3 0zm3 0h1m4 0zm2 0zm2 0zm4 0zm5 0zm12 0zm-53 1zm11 0h1m16 0zm2 0zm11 0zm13 0zm8 0zm-60 1zm7 0zm9 0zm2 0zm3 0zm5 0zm7 0zm2 0zm3 0zm10 0zm-51 1zm4 0h1m5 0zm12 0zm8 0zm17 0zm6 0zm-59 1zm7 0zm5 0zm2 0zm38 0zm4 0zm6 0zm-62 1zm6 0zm14 0zm3 0zm5 0zm29 0zm-53 1h1m3 0zm11 0zm-26 1zm10 0h1m15 0zm2 0zm17 0zm19 0zm-55 1zm2 0zm9 0h1m-12 1zm2 0h1m2 0zm3 0zm-9 1zm6 0zm6 0zm-16 1zm2 0zm7 0zm4 0h1m7 0zm6 0h1m22 0zm10 0zm-63 1zm5 0zm6 0zm16 0zm22 0zm12 0zm-63 1zm5 0zm2 0zm9 0zm12 0zm38 0zm6 0zm9 0zm-78 1zm5 0h1m4 0zm6 0zm6 0zm15 0zm13 0zm9 0zm2 0zm5 0zm5 0zm-73 1zm6 0zm2 0zm7 0zm20 0zm19 0zm-56 1zm39 0zm7 0zm28 0zm-79 1zm8 0h1m40 0zm23 0zm-74 1zm14 0zm3 0zm8 0zm5 0zm39 0zm20 0zm-86 1h2m3 0h1m2 0zm6 0zm20 0zm8 0zm-36 1zm4 0zm7 0h1m2 0zm31 0zm11 0h1m8 0h1m-74 1zm13 0zm51 0zm-68 1zm7 0h1m35 0zm21 0zm14 0zm-76 1zm4 0zm44 0zm16 0zm-63 1zm2 0h1m2 0zm10 0zm7 0zm24 0zm3 0zm29 0zm5 0zm-82 1zm43 0zm11 0zm3 0zm-60 1h1m5 0zm65 0zm-78 1zm5 0zm10 0zm15 0zm18 0zm39 0zm18 0zm-106 1zm3 0zm9 0h1m4 0zm78 0zm18 0zm-119 1zm5 0zm2 0h1m10 0zm8 0zm2 0zm25 0zm8 0zm37 0zm14 0h1m-111 1zm4 0h1m4 0zm4 0zm7 0zm6 0zm76 0zm-97 1h1m12 0zm2 0zm3 0zm34 0zm4 0zm2 0zm8 0zm4 0zm2 0zm-71 1zm16 0zm15 0zm20 0zm4 0zm26 0zm16 0zm-106 1zm2 0zm2 0zm3 0h2m19 0zm48 0zm-76 1zm7 0zm7 0h1m3 0zm34 0zm5 0zm11 0zm4 0zm24 0zm22 0zm-122 1zm16 0zm10 0zm7 0zm13 0zm25 0zm-67 1zm5 0zm2 0h1m40 0zm9 0zm42 0zm-85 1zm2 0zm3 0zm51 0h1m21 0zm21 0zm2 0zm-119 1zm5 0zm4 0zm2 0zm16 0zm43 0zm5 0zm17 0zm25 0zm-113 1zm3 0zm5 0zm6 0zm7 0zm89 0zm-109 1zm12 0zm40 0zm-64 1zm12 0zm32 0zm23 0zm40 0zm12 0zm7 0zm-98 1zm91 0zm12 0zm-102 1zm15 0h1m22 0zm13 0zm4 0zm9 0zm-88 1zm3 0zm4 0zm11 0zm2 0h1m20 0zm40 0zm4 0zm-83 1zm8 0zm4 0zm30 0zm15 0zm40 0zm-101 1zm2 0h1m3 0zm7 0zm4 0zm5 0zm35 0zm8 0zm12 0zm-74 1zm11 0zm40 0zm8 0zm4 0zm6 0zm27 0zm2 0zm-101 1zm6 0zm3 0zm57 0zm7 0zm29 0zm8 0zm-110 1zm3 0zm16 0zm2 0zm12 0zm-36 1zm7 0zm7 0zm20 0zm48 0zm7 0zm36 0zm-124 1zm2 0h1m11 0zm22 0zm5 0zm25 0zm6 0zm15 0zm13 0zm25 0zm5 0zm-125 1zm14 0zm28 0zm9 0zm6 0zm9 0zm2 0zm47 0zm-119 1zm10 0zm7 0zm23 0zm51 0zm16 0zm4 0zm-113 1zm12 0zm7 0zm22 0zm9 0zm29 0zm-81 1zm2 0h1m3 0zm48 0zm25 0zm3 0zm7 0zm3 0zm16 0zm-105 1zm2 0zm6 0h1m28 0zm25 0zm19 0zm-87 1h1m14 0zm7 0zm33 0zm28 0zm13 0zm14 0zm-107 1zm2 0zm2 0zm46 0zm36 0zm-85 1zm3 0zm75 0zm30 0zm-105 1zm4 0zm9 0zm32 0zm13 0zm3 0zm5 0zm27 0zm-98 1zm3 0h1m5 0h1m55 0zm19 0zm3 0zm7 0zm3 0zm9 0zm-102 1zm48 0zm8 0zm4 0zm39 0zm18 0h1m-104 1zm43 0h1m11 0zm6 0zm16 0zm11 0zm20 0zm-124 1h1m2 0h1m42 0zm81 0zm-128 1h1m12 0h1m3 0zm65 0zm-84 1zm3 0zm4 0zm6 0zm24 0zm29 0zm62 0zm-125 1zm65 0zm16 0h1m-89 1h2m3 0zm6 0h1m10 0zm-13 1zm2 0h1m2 0zm42 0zm22 0zm41 0zm6 0zm6 0zm-132 1zm6 0h1m10 0zm4 0zm43 0zm38 0zm24 0zm-123 1h1m16 0zm63 0zm27 0zm-106 1zm3 0h1m53 0zm2 0zm18 0zm-78 1zm7 0zm12 0zm8 0zm25 0zm16 0zm-70 1zm2 0zm2 0zm2 0zm2 0zm8 0zm32 0zm6 0h2m13 0zm25 0h1m-95 1zm48 0zm3 0zm15 0zm8 0zm10 0zm10 0h1m19 0h1m2 0zm-117 1zm61 0zm60 0zm-118 1zm12 0zm20 0zm5 0zm7 0zm51 0zm25 0zm-122 1h1m3 0zm11 0h2m2 0h1m17 0zm10 0zm13 0zm33 0zm11 0zm16 0zm-121 1h2m3 0zm7 0zm38 0zm3 0zm18 0zm4 0zm2 0zm3 0zm16 0zm16 0zm5 0zm-89 1zm44 0zm29 0zm-99 1zm10 0zm9 0zm8 0zm3 0zm23 0zm54 0zm-114 1zm12 0zm5 0zm4 0zm2 0zm2 0zm14 0zm4 0zm3 0zm12 0zm2 0h1m38 0zm2 0zm10 0zm5 0zm-104 1h1m14 0zm33 0zm3 0zm35 0h1m-94 1zm7 0zm5 0zm6 0zm3 0zm9 0zm8 0zm19 0zm40 0zm10 0zm-111 1zm2 0zm2 0zm12 0zm5 0h1m19 0zm42 0zm5 0zm-84 1zm18 0zm5 0zm20 0zm2 0zm3 0zm62 0zm6 0zm-119 1h1m14 0zm7 0zm15 0zm8 0zm10 0zm17 0zm39 0zm-111 1h3m6 0zm5 0zm8 0zm14 0zm6 0zm9 0zm4 0zm31 0zm-87 1h1m17 0zm5 0zm11 0h1m17 0zm9 0zm16 0zm8 0zm21 0zm-108 1zm5 0zm10 0h1m5 0zm5 0h1m3 0zm4 0zm5 0zm4 0zm10 0zm3 0zm9 0zm7 0zm5 0zm22 0zm8 0h2m7 0zm-118 1zm6 0zm4 0h1m3 0zm4 0zm4 0zm7 0zm16 0zm64 0zm5 0zm-109 1zm2 0zm19 0h1m2 0zm2 0zm6 0zm19 0zm6 0zm33 0zm3 0zm-94 1zm3 0zm3 0zm5 0zm4 0zm2 0zm2 0zm4 0zm2 0zm2 0zm7 0h1m4 0zm3 0zm2 0zm9 0zm14 0zm26 0zm6 0zm-120 1zm24 0h1m3 0zm2 0zm2 0h2m2 0zm2 0zm2 0h1m5 0zm2 0h1m2 0zm4 0zm3 0h1m16 0zm29 0zm-78 1zm2 0zm6 0h5m3 0zm3 0h2m8 0zm2 0zm7 0zm17 0zm46 0zm-104 1zm5 0zm3 0h1m7 0zm3 0zm2 0h2m2 0zm2 0h1m3 0zm-26 1h1m8 0zm3 0zm3 0zm4 0zm11 0zm2 0zm9 0h1m27 0zm-72 1zm2 0zm2 0zm4 0zm4 0zm2 0zm3 0h4m7 0zm3 0zm6 0h1m6 0zm-37 1h1m4 0h1m6 0h2m5 0zm2 0zm8 0h1m5 0h2m2 0zm-56 1zm6 0zm7 0h1m6 0h7m3 0zm2 0zm2 0zm2 0h1m4 0h1m3 0zm2 0zm4 0zm15 0zm6 0zm44 0zm-108 1zm11 0h2m4 0zm2 0zm4 0h2m5 0zm2 0zm3 0zm6 0zm16 0zm3 0zm-72 1h1m5 0zm3 0zm6 0zm8 0h2m2 0h1m5 0zm2 0h3m4 0h1m3 0h1m2 0h4m3 0zm6 0zm9 0zm-73 1zm9 0h2m2 0h1m4 0h3m3 0zm5 0h2m3 0zm2 0zm2 0zm2 0h1m4 0zm3 0zm2 0zm2 0h1m6 0zm5 0zm9 0zm42 0zm-111 1h2m6 0h1m4 0zm2 0zm2 0zm4 0h2m2 0h3m2 0h1m2 0zm2 0zm2 0h4m2 0zm2 0zm2 0h2m2 0zm3 0zm5 0zm45 0zm-92 1zm2 0h1m2 0h1m5 0h3m2 0h9m3 0zm3 0zm4 0zm3 0h1m3 0h2m6 0zm49 0zm-108 1zm5 0h1m3 0zm3 0zm2 0zm2 0h11m2 0h1m2 0h1m2 0h1m2 0h1m2 0zm7 0zm2 0zm2 0zm2 0h1m6 0zm23 0zm13 0zm3 0zm-99 1zm3 0zm4 0zm2 0zm3 0h3m2 0h10m2 0h3m3 0h1m5 0h4m6 0zm12 0zm-76 1zm8 0zm3 0h1m3 0zm3 0zm3 0h2m3 0h9m2 0h3m2 0h2m2 0h2m4 0h1m2 0zm2 0zm2 0h2m2 0zm5 0h3m2 0zm17 0zm13 0zm22 0h1m-120 1h1m11 0h1m2 0h3m2 0h16m2 0h2m2 0h3m2 0h2m9 0zm5 0zm5 0zm11 0zm-91 1zm15 0h5m3 0h3m2 0h8m2 0h15m2 0zm5 0h1m2 0zm2 0zm6 0h2m3 0zm20 0zm32 0zm-106 1zm2 0zm2 0h1m2 0h1m2 0h17m2 0h2m2 0h2m2 0h1m3 0h1m2 0h1m2 0zm10 0h1m6 0zm6 0zm-85 1zm4 0h1m2 0h1m4 0h29m2 0h7m7 0zm6 0zm2 0zm3 0zm3 0zm7 0h1m12 0zm20 0zm8 0h1m-117 1h1m3 0h1m2 0zm2 0h12m2 0h19m2 0zm2 0zm5 0h2m2 0zm3 0zm3 0zm7 0zm3 0zm5 0zm12 0zm-82 1zm4 0h16m2 0h16m2 0zm2 0zm2 0h1m2 0h1m3 0zm7 0zm5 0zm19 0zm-89 1zm2 0h1m2 0h1m2 0zm2 0h4m2 0h30m3 0zm2 0zm4 0zm3 0h1m6 0zm6 0zm2 0zm36 0zm-117 1zm11 0zm2 0h1m3 0zm2 0h1m2 0h35m3 0zm14 0zm7 0zm12 0zm19 0zm-106 1zm6 0zm2 0zm3 0zm3 0h34m3 0h2m2 0h4m8 0zm8 0zm6 0zm-107 1zm21 0zm12 0h1m2 0h36m2 0zm11 0h1m5 0zm2 0zm5 0zm9 0zm17 0zm16 0zm-107 1h41m4 0h3m5 0zm4 0zm3 0zm12 0zm9 0zm-101 1zm13 0zm2 0h3m6 0h33m2 0h4m2 0h1m2 0zm3 0zm42 0zm6 0zm-130 1zm20 0zm6 0h2m4 0h45m2 0h1m2 0h2m8 0zm10 0zm32 0zm-119 1zm8 0zm2 0h1m2 0zm2 0h36m2 0h6m2 0zm2 0zm2 0h1m3 0h1m4 0zm30 0zm7 0zm-110 1zm2 0zm7 0zm3 0zm2 0zm2 0h39m2 0h1m2 0h4m6 0zm16 0zm-91 1zm4 0zm4 0zm2 0zm3 0h2m2 0h42m2 0h6m2 0zm9 0zm47 0zm-123 1zm8 0zm3 0zm4 0zm3 0h34m2 0h1m2 0h2m2 0zm2 0zm10 0zm13 0zm-80 1zm3 0zm5 0zm2 0h40m3 0h2m3 0h1m3 0h1m2 0zm4 0zm3 0zm7 0zm4 0zm-89 1zm4 0zm5 0h5m2 0h49m5 0zm2 0h1m-63 1zm3 0h39m2 0h3m3 0zm2 0zm2 0zm2 0zm3 0zm4 0zm2 0zm2 0zm2 0zm-73 1zm3 0h2m3 0h40m4 0zm3 0zm2 0h1m3 0h1m3 0zm8 0h2m7 0zm16 0zm7 0zm7 0zm4 0zm-133 1h1m9 0zm5 0zm6 0zm2 0zm2 0h36m2 0h3m2 0zm2 0zm2 0zm10 0zm12 0zm5 0zm18 0zm5 0zm-117 1zm15 0h1m2 0h40m2 0h1m2 0h1m2 0zm2 0h1m22 0zm7 0zm38 0zm-132 1zm3 0h1m9 0h1m2 0h38m2 0h4m4 0zm5 0zm18 0zm35 0zm-120 1h1m6 0zm5 0h41m3 0h1m2 0zm8 0zm5 0zm2 0zm32 0h1m-112 1zm9 0h3m2 0zm2 0h9m2 0h30m4 0zm3 0zm2 0zm4 0zm2 0zm2 0zm3 0zm7 0zm34 0zm-115 1zm9 0zm2 0h38m2 0h3m2 0h1m3 0h1m5 0zm14 0zm-83 1zm3 0zm3 0zm7 0zm2 0h40m3 0h6m11 0zm4 0zm6 0zm14 0zm10 0zm-129 1zm30 0h1m3 0h1m2 0h32m2 0h2m2 0zm6 0zm2 0h1m2 0zm8 0zm10 0zm-96 1zm19 0zm3 0h3m2 0h39m2 0h1m3 0h1m2 0zm6 0zm6 0zm16 0zm38 0zm-144 1zm17 0zm4 0zm2 0h1m2 0h1m2 0h39m2 0h1m2 0h1m2 0zm4 0zm19 0zm14 0zm-98 1zm11 0h1m2 0h2m2 0h36m2 0h3m2 0h1m3 0zm5 0h1m-72 1zm2 0zm3 0h1m3 0h2m3 0h43m3 0zm3 0h1m4 0h1m2 0zm18 0zm26 0zm-114 1h1m2 0zm4 0h1m2 0h1m2 0h1m2 0h1m2 0h36m3 0h1m7 0zm7 0zm31 0zm-100 1zm4 0h2m2 0h37m2 0h6m3 0zm2 0h1m11 0zm8 0h1m-90 1zm15 0h1m3 0zm2 0zm2 0h33m3 0zm2 0zm3 0h1m4 0zm31 0zm13 0zm2 0zm16 0zm-121 1zm3 0zm4 0h1m2 0h1m2 0h32m2 0zm2 0h1m2 0h1m4 0h1m4 0zm10 0zm3 0zm12 0zm-91 1zm3 0zm4 0zm4 0h2m2 0h38m3 0zm2 0zm7 0zm9 0zm4 0zm44 0zm-121 1zm4 0h2m3 0zm4 0h2m2 0h30m2 0zm3 0zm5 0zm6 0zm12 0zm9 0h1m-88 1zm5 0h1m4 0zm2 0h1m2 0h3m2 0h27m2 0h4m5 0zm2 0zm2 0h2m-72 1zm6 0zm2 0zm4 0zm5 0h1m3 0zm4 0zm3 0h27m2 0h1m2 0zm3 0zm5 0zm21 0zm5 0zm-80 1zm4 0zm3 0h3m2 0h34m5 0zm9 0zm17 0zm-88 1zm4 0zm2 0h2m2 0zm2 0zm3 0h1m2 0zm3 0h1m2 0zm3 0h16m2 0h9m2 0zm2 0zm2 0zm6 0h1m18 0zm3 0zm8 0zm20 0zm-104 1h1m6 0zm3 0zm2 0h25m2 0zm3 0h2m5 0zm9 0zm39 0zm-99 1h5m5 0h4m2 0h22m3 0zm2 0h2m2 0zm5 0zm2 0zm9 0zm53 0zm-119 1zm8 0zm2 0zm2 0h2m3 0zm3 0h1m2 0h8m2 0h4m2 0h1m2 0zm2 0h1m2 0zm8 0zm2 0zm5 0h1m12 0zm-78 1zm12 0h1m2 0h1m2 0zm2 0h1m2 0h15m2 0h3m2 0zm4 0h1m3 0zm6 0zm2 0zm-58 1h1m2 0zm2 0h3m3 0h4m2 0zm3 0h2m2 0h2m2 0h9m2 0zm2 0zm8 0zm9 0zm3 0zm-72 1zm11 0zm11 0h1m4 0zm2 0h3m2 0h2m2 0h3m2 0h1m2 0h3m3 0zm6 0zm10 0zm23 0zm20 0h1m-95 1h1m3 0zm3 0h1m4 0h3m2 0h1m3 0zm2 0h1m2 0zm2 0h2m2 0h1m7 0h2m6 0zm3 0zm24 0zm19 0zm12 0zm-98 1h4m2 0h3m2 0h3m2 0zm2 0h1m6 0h1m3 0zm19 0zm17 0zm4 0zm10 0zm-123 1zm14 0zm8 0zm11 0zm9 0h1m3 0zm4 0h2m3 0h2m2 0h2m2 0zm8 0zm3 0zm3 0zm2 0zm7 0zm28 0zm-83 1zm3 0h1m6 0zm3 0zm3 0zm4 0zm3 0zm3 0h3m5 0zm2 0h1m2 0zm3 0zm4 0zm13 0zm29 0zm-114 1zm4 0zm7 0zm18 0h1m9 0h1m3 0zm5 0zm4 0zm2 0h1m2 0h1m2 0h2m2 0zm2 0h1m2 0zm52 0zm12 0zm-116 1zm6 0h1m4 0zm3 0zm5 0h6m3 0zm4 0zm2 0zm2 0h1m2 0h1m2 0h3m2 0zm2 0zm2 0zm3 0zm6 0zm33 0zm4 0zm3 0zm23 0zm-131 1zm14 0h1m2 0zm3 0zm5 0h1m4 0zm2 0zm3 0h2m2 0zm4 0zm2 0h1m5 0zm3 0zm16 0zm-63 1zm12 0zm2 0zm3 0zm5 0h1m5 0zm5 0h2m2 0zm4 0h1m8 0zm3 0zm60 0zm-99 1zm9 0h1m3 0zm5 0zm2 0h1m8 0zm2 0zm4 0zm5 0zm34 0zm8 0zm22 0zm-119 1zm14 0h1m2 0zm5 0zm3 0h1m2 0h1m4 0zm4 0h2m6 0zm4 0zm47 0zm4 0zm12 0zm-94 1zm3 0zm2 0h2m13 0h2m2 0h1m4 0zm56 0zm9 0zm5 0zm-102 1zm3 0zm2 0zm4 0zm8 0zm2 0h1m2 0zm14 0zm2 0h2m11 0zm29 0zm13 0zm9 0zm4 0zm-104 1zm5 0zm3 0h1m6 0h1m5 0h1m2 0h1m2 0zm2 0zm3 0h2m19 0zm44 0zm-113 1zm24 0h1m2 0zm2 0zm4 0zm3 0h3m8 0zm4 0h2m13 0zm45 0zm3 0zm-96 1h1m4 0zm8 0h2m5 0zm5 0zm3 0zm2 0h1m8 0zm2 0zm45 0zm-75 1zm2 0zm4 0zm3 0zm5 0zm8 0zm72 0zm-91 1zm8 0h1m2 0h1m49 0zm-74 1zm3 0zm8 0zm5 0h1m3 0zm2 0h1m6 0zm3 0zm8 0zm-56 1zm5 0zm13 0zm6 0zm6 0zm2 0h2m3 0zm2 0zm6 0zm4 0zm4 0zm58 0zm-122 1zm15 0zm20 0zm2 0h1m3 0h4m6 0h1m2 0zm15 0h1m-55 1zm12 0h1m3 0zm5 0zm3 0zm3 0zm11 0zm3 0zm50 0zm-105 1zm13 0zm22 0zm3 0zm8 0zm11 0zm-16 1h1m7 0zm2 0h3m5 0zm61 0zm-90 1zm4 0zm6 0zm3 0h1m5 0zm2 0zm4 0zm10 0zm-61 1zm16 0zm10 0zm10 0h1m4 0zm2 0zm10 0zm-18 1h1m2 0zm4 0zm2 0zm10 0zm-23 1zm8 0zm3 0zm7 0h1m6 0zm-30 1zm10 0zm16 0zm-22 1zm12 0zm2 0h3m-13 1zm11 0zm10 0zm10 0zm-40 1zm7 0h1m3 0zm7 0h3m8 0zm-20 1zm5 0zm11 0zm2 0h1m-22 1zm3 0h1m3 0zm2 0zm3 0zm3 0h2m-25 1zm7 0zm4 0h3m2 0h1m2 0zm2 0zm2 0zm6 0zm-3 1zm4 0zm-30 1zm4 0zm17 0h1m15 0zm-22 1h1m4 0zm7 0zm-31 1zm16 0h1m21 0zm3 0zm-28 1zm12 0zm7 0zm-4 1zm2 0zm4 0zm-33 1zm8 0zm6 0zm13 0zm3 0zm-19 1zm7 0zm4 0zm3 0zm3 0zm5 0zm4 0zm-23 2zm7 0zm-9 2zm14 0zm-6 1zm5 0zm5 0zm-18 1zm8 0zm-8 1zm5 0h1m6 0zm-13 1zm4 0h1m5 0h1m3 0zm2 0h1m2 0zm2 0zm15 0zm3 0h1m4 0zm5 0zm2 0zm7 0zm12 0zm4 0zm3 0h1m2 0zm3 0zm4 0zm6 0h1m5 0zm3 0zm2 0zm3 0z"/>
<path class="ax" d="M0 0H374V374.1H0ZM195.4 0V374M0 211.2H374"/>
<path class="tkp" d="M-4.2 369.85h4.2M-4.2 363.56h4.2M-4.2 358.11h4.2M-4.2 353.30h4.2M-8.5 349.00h8.5M-4.2 320.70h4.2M-4.2 304.15h4.2M-4.2 292.41h4.2M-4.2 283.30h4.2M-4.2 275.85h4.2M-4.2 269.56h4.2M-4.2 264.11h4.2M-4.2 259.30h4.2M-8.5 255.00h8.5M-4.2 226.70h4.2M-4.2 210.15h4.2M-4.2 198.41h4.2M-4.2 189.30h4.2M-4.2 181.85h4.2M-4.2 175.56h4.2M-4.2 170.11h4.2M-4.2 165.30h4.2M-8.5 161.00h8.5M-4.2 132.70h4.2M-4.2 116.15h4.2M-4.2 104.41h4.2M-4.2 95.30h4.2M-4.2 87.85h4.2M-4.2 81.56h4.2M-4.2 76.11h4.2M-4.2 71.30h4.2M-8.5 67.00h8.5M-4.2 38.70h4.2M-4.2 22.15h4.2M-4.2 10.41h4.2M-4.2 1.30h4.2M10.83 374v4.2M19.88 374v4.2M27.28 374v4.2M33.53 374v4.2M38.95 374v4.2M43.73 374v4.2M48.00 374v8.5M76.12 374v4.2M92.56 374v4.2M104.23 374v4.2M113.28 374v4.2M120.68 374v4.2M126.93 374v4.2M132.35 374v4.2M137.13 374v4.2M141.40 374v8.5M169.52 374v4.2M185.96 374v4.2M197.63 374v4.2M206.68 374v4.2M214.08 374v4.2M220.33 374v4.2M225.75 374v4.2M230.53 374v4.2M234.80 374v8.5M262.92 374v4.2M279.36 374v4.2M291.03 374v4.2M300.08 374v4.2M307.48 374v4.2M313.73 374v4.2M319.15 374v4.2M323.93 374v4.2M328.20 374v8.5M356.32 374v4.2M372.76 374v4.2"/>
<rect class="qb" x="0.2" y="0" width="111.4" height="35.1" rx="3.5"/>
<text class="qt" y="25.6"><tspan x="1.9" textLength="42.6" lengthAdjust="spacingAndGlyphs">Q1: </tspan><tspan x="47.2" textLength="59.6" lengthAdjust="spacingAndGlyphs">3.47%</tspan></text>
<path class="qb" d="M260.2 0H372.8V28.4a3.5 3.5 0 0 1 -3.5 3.5H263.7a3.5 3.5 0 0 1 -3.5 -3.5Z"/>
<text class="qt" y="23.4"><tspan x="263.1" textLength="42.6" lengthAdjust="spacingAndGlyphs">Q2: </tspan><tspan x="308.4" textLength="59.6" lengthAdjust="spacingAndGlyphs">9.17%</tspan></text>
<rect class="qb" x="0.2" y="335.4" width="125.4" height="34.4" rx="3.5"/>
<text class="qt" y="361.6"><tspan x="1.9" textLength="42.6" lengthAdjust="spacingAndGlyphs">Q3: </tspan><tspan x="47.2" textLength="72.6" lengthAdjust="spacingAndGlyphs">83.80%</tspan></text>
<rect class="qb" x="260.2" y="335.4" width="112.6" height="34.4" rx="3.5"/>
<text class="qt" y="361.6"><tspan x="263.1" textLength="42.6" lengthAdjust="spacingAndGlyphs">Q4: </tspan><tspan x="308.4" textLength="59.6" lengthAdjust="spacingAndGlyphs">3.55%</tspan></text>
<text class="tt" x="187" y="-9.6" text-anchor="middle" textLength="180.4" lengthAdjust="spacingAndGlyphs">[A] FITC-A / PE-A</text>
<text class="tt" x="187" y="436" text-anchor="middle" textLength="69.2" lengthAdjust="spacingAndGlyphs">FITC-A</text>
<text class="tt" transform="translate(-49 187) rotate(-90)" text-anchor="middle" textLength="47" lengthAdjust="spacingAndGlyphs">PE-A</text>
<text class="tk" x="36.5" y="401">10<tspan class="ts" x="52.9" y="394.6">3</tspan></text><text class="tk" x="129.9" y="401">10<tspan class="ts" x="146.3" y="394.6">4</tspan></text><text class="tk" x="223.3" y="401">10<tspan class="ts" x="239.7" y="394.6">5</tspan></text><text class="tk" x="316.7" y="401">10<tspan class="ts" x="333.1" y="394.6">6</tspan></text><text class="tk" x="-35.2" y="354.8">10<tspan class="ts" x="-18.9" y="348.6">2</tspan></text><text class="tk" x="-35.2" y="260.8">10<tspan class="ts" x="-18.9" y="254.6">3</tspan></text><text class="tk" x="-35.2" y="166.8">10<tspan class="ts" x="-18.9" y="160.6">4</tspan></text><text class="tk" x="-35.2" y="72.8">10<tspan class="ts" x="-18.9" y="66.6">5</tspan></text>
</g>
<text class="lb" x="264.6" y="1074.7" text-anchor="middle">inhibitor+LBP</text>
<g transform="translate(543 594.4)">
<path class="dots" transform="scale(1.4609) translate(.5 .5)" d="M233 6zm10 2zm-9 2zm-1 4h1m-16 2zm3 0zm9 0zm3 0h1m-18 1zm9 0h1m5 0zm4 0zm4 0zm-22 1zm9 0zm3 0h1m4 0zm-27 1zm10 0zm2 0zm8 0h1m8 0zm-21 1h1m11 0h3m3 0zm-29 1zm6 0zm2 0zm8 0zm2 0zm2 0h2m6 0zm-20 1zm7 0zm3 0zm3 0zm9 0zm5 0zm-44 1zm16 0zm7 0zm2 0zm3 0zm2 0zm6 0zm4 0zm-29 1zm9 0h2m8 0zm4 0h1m9 0zm-35 1zm7 0zm3 0h1m3 0h1m2 0zm5 0h1m2 0zm5 0zm-36 1h1m5 0h2m8 0zm2 0zm2 0h1m3 0zm4 0zm2 0zm-21 1zm2 0h1m6 0h2m2 0zm2 0zm3 0h2m5 0zm2 0zm-46 1zm21 0zm6 0h2m2 0h2m16 0zm-37 1zm7 0h1m2 0zm5 0h2m2 0zm3 0zm2 0zm2 0zm2 0h1m-34 1zm7 0zm2 0h1m3 0zm4 0zm2 0h1m2 0h3m9 0zm8 0zm-48 1zm15 0zm2 0h2m2 0h3m3 0zm2 0zm2 0h1m4 0h1m3 0zm-41 1zm4 0zm3 0zm3 0zm4 0h1m5 0h1m3 0h2m2 0h1m2 0h1m2 0zm3 0h1m2 0zm5 0zm-39 1zm11 0h2m3 0zm3 0h1m2 0h1m3 0zm4 0zm4 0zm6 0zm-56 1zm16 0zm4 0zm4 0zm3 0h5m5 0h7m2 0zm3 0h1m-31 1h1m2 0h1m4 0zm2 0zm3 0zm3 0h2m4 0h2m4 0zm2 0zm-40 1zm4 0zm2 0zm2 0zm5 0h2m2 0zm2 0h3m4 0zm4 0zm4 0h1m3 0zm6 0zm4 0zm-43 1zm2 0zm3 0zm9 0zm2 0h5m2 0h3m7 0zm4 0zm6 0zm-50 1zm9 0zm2 0zm4 0h1m4 0h6m2 0zm2 0zm2 0zm2 0h3m3 0zm2 0zm5 0zm4 0zm-45 1zm2 0zm4 0zm2 0h3m3 0h2m4 0h1m3 0h1m3 0zm3 0h1m4 0zm-65 1zm7 0zm8 0zm3 0zm13 0zm3 0zm2 0h1m3 0zm2 0h3m5 0h1m2 0zm5 0h1m2 0zm9 0zm-74 1zm14 0zm19 0zm2 0zm4 0h1m3 0h7m2 0h3m2 0h2m2 0h1m10 0zm-58 1zm8 0zm3 0zm9 0h2m3 0h13m2 0zm2 0zm4 0h1m3 0zm-54 1zm5 0zm2 0h1m4 0zm5 0h1m4 0h1m3 0h1m3 0h13m2 0h3m5 0h1m-61 1zm14 0zm6 0zm5 0h1m3 0zm3 0zm2 0zm2 0h9m2 0h2m3 0h2m2 0zm2 0zm4 0zm3 0zm2 0zm13 0zm-90 1zm17 0h1m2 0zm4 0zm10 0zm4 0zm2 0h1m2 0zm4 0zm2 0h8m2 0zm3 0zm3 0zm-46 1zm4 0zm7 0zm2 0h1m6 0h2m2 0h2m2 0h10m3 0zm3 0zm2 0zm5 0zm3 0h2m-68 1zm10 0zm3 0h2m2 0zm2 0zm2 0zm3 0zm4 0zm2 0zm9 0h3m4 0h2m2 0h1m3 0h1m16 0zm-74 1zm4 0zm10 0h1m3 0zm3 0zm2 0zm11 0zm2 0zm2 0h1m2 0h4m2 0h2m2 0zm2 0h1m4 0h3m4 0zm-67 1zm8 0zm10 0zm4 0zm7 0zm4 0zm7 0zm2 0h5m2 0zm2 0h1m2 0h3m6 0zm-62 1zm8 0zm2 0zm3 0zm12 0zm14 0h2m2 0zm4 0h1m2 0zm5 0zm6 0h1m7 0zm-61 1zm4 0zm4 0zm7 0h2m5 0h1m3 0zm4 0zm2 0zm2 0zm2 0zm2 0h1m2 0h3m3 0zm8 0zm-61 1zm3 0h1m4 0zm2 0zm3 0zm3 0zm3 0zm4 0zm3 0zm9 0h3m3 0zm3 0zm3 0zm2 0zm3 0h1m4 0zm2 0zm10 0zm-76 1zm3 0zm20 0zm8 0zm4 0zm6 0h1m4 0h2m2 0h1m2 0zm3 0zm7 0h1m12 0zm-73 1zm5 0h1m2 0h2m14 0zm11 0zm5 0zm2 0zm4 0h3m3 0zm5 0h1m-60 1zm3 0zm6 0zm10 0zm9 0zm2 0h2m3 0zm8 0h2m10 0zm3 0zm2 0h1m-38 1zm3 0zm6 0zm2 0h1m4 0zm7 0zm3 0zm-50 1zm3 0zm16 0zm2 0zm2 0zm2 0zm4 0zm2 0h1m2 0zm6 0zm5 0h1m3 0h1m4 0zm3 0zm16 0zm-52 1zm9 0zm4 0zm2 0zm2 0zm11 0zm2 0zm11 0zm-63 1zm4 0zm4 0zm18 0h2m6 0zm2 0zm6 0zm-54 1zm13 0zm17 0zm5 0zm5 0h1m6 0zm2 0zm-42 1zm2 0zm3 0h1m7 0h1m9 0zm3 0zm3 0zm3 0zm3 0zm13 0zm-52 1zm4 0zm5 0h2m24 0zm2 0zm2 0zm5 0zm2 0zm2 0zm5 0zm7 0zm12 0zm-75 1zm8 0zm9 0zm9 0zm20 0zm5 0zm6 0zm2 0zm-57 1zm27 0zm22 0zm9 0zm5 0zm5 0zm-74 1zm5 0zm10 0h1m6 0zm4 0h1m5 0zm8 0zm2 0zm18 0zm3 0zm20 0zm-76 1zm3 0zm9 0zm11 0zm2 0zm13 0zm14 0zm26 0zm-81 1zm6 0zm8 0zm6 0zm5 0zm4 0zm3 0h1m11 0zm2 0zm3 0zm8 0zm7 0zm3 0h1m18 0zm-81 1zm8 0zm5 0zm35 0zm17 0zm-71 1zm11 0zm33 0zm8 0zm11 0zm3 0zm12 0zm2 0zm-88 1zm11 0h1m2 0zm9 0zm7 0zm23 0zm11 0zm9 0zm-75 1zm12 0zm2 0zm38 0zm3 0zm6 0h1m14 0zm6 0zm3 0zm6 0zm8 0zm-85 1zm14 0zm2 0zm64 0zm5 0zm6 0zm-94 1zm17 0zm6 0zm3 0zm2 0zm2 0zm17 0zm2 0h1m11 0zm6 0zm10 0zm-82 1zm19 0zm2 0zm5 0zm20 0zm7 0zm43 0zm-88 1zm4 0zm4 0zm12 0zm46 0zm-67 1zm6 0zm9 0zm5 0zm10 0zm30 0h1m3 0zm10 0zm-87 1zm3 0zm7 0zm16 0zm4 0zm3 0zm25 0zm14 0zm10 0zm2 0zm6 0h1m-87 1zm5 0zm4 0zm3 0zm11 0zm28 0h1m19 0zm22 0zm-104 1zm8 0zm6 0zm4 0zm3 0h1m66 0zm-81 1zm6 0zm9 0zm10 0zm3 0zm6 0zm44 0zm11 0zm6 0zm-82 1zm4 0zm16 0zm-35 1zm4 0zm2 0h1m3 0h1m11 0zm10 0zm30 0zm2 0zm21 0zm7 0zm10 0zm4 0zm8 0zm-113 1zm4 0zm7 0zm3 0zm3 0zm14 0zm5 0zm14 0zm25 0zm11 0h1m5 0zm14 0zm-106 1h1m9 0zm21 0zm2 0zm21 0zm17 0zm35 0zm-108 1zm8 0zm3 0h1m2 0zm5 0zm11 0zm19 0zm26 0zm23 0zm-97 1zm2 0zm9 0zm17 0zm5 0zm5 0zm11 0zm2 0zm7 0zm14 0zm28 0zm-98 1h2m5 0zm7 0zm5 0zm16 0zm10 0zm2 0zm19 0zm13 0zm19 0zm12 0zm-94 1zm11 0zm19 0zm13 0zm6 0zm43 0zm3 0zm-114 1zm4 0zm9 0h1m4 0zm5 0zm7 0zm5 0zm3 0zm7 0zm11 0zm10 0zm17 0zm5 0zm7 0zm18 0zm-107 1zm10 0zm2 0zm12 0zm22 0zm11 0zm16 0zm2 0zm11 0zm-104 1zm10 0zm9 0zm6 0zm2 0zm25 0zm28 0zm3 0zm7 0zm7 0zm16 0zm5 0zm2 0zm-110 1zm16 0zm7 0zm4 0zm3 0zm7 0zm26 0zm4 0zm6 0zm4 0zm22 0zm-107 1h1m12 0zm2 0zm22 0zm40 0zm17 0zm10 0zm11 0zm-107 1h1m24 0zm13 0zm4 0h1m8 0zm22 0h1m5 0zm22 0zm9 0zm-111 1h1m7 0zm4 0zm18 0zm39 0zm8 0zm-83 1zm3 0zm4 0h1m3 0zm4 0zm23 0zm2 0zm3 0zm3 0zm16 0zm9 0zm2 0zm5 0zm15 0zm3 0zm2 0zm-109 1zm16 0h1m6 0zm10 0zm35 0zm43 0zm15 0zm5 0zm-131 1zm11 0zm4 0zm6 0zm8 0zm7 0zm4 0zm5 0zm54 0zm8 0zm17 0zm-113 1zm13 0h2m25 0h1m6 0h1m5 0zm4 0zm10 0zm3 0zm18 0zm19 0zm9 0zm-110 1zm12 0zm16 0zm48 0zm11 0zm3 0h1m6 0zm-100 1zm16 0zm21 0zm15 0zm2 0zm8 0zm16 0zm10 0zm6 0zm2 0zm2 0zm-108 1zm11 0zm3 0zm11 0zm43 0zm2 0zm19 0zm27 0zm11 0zm-119 1zm20 0zm35 0zm52 0zm11 0zm-130 1zm5 0h1m8 0zm14 0zm2 0h1m27 0zm30 0zm7 0zm6 0zm18 0zm3 0zm10 0zm-123 1zm19 0zm25 0zm36 0zm22 0zm9 0zm-116 1zm3 0zm7 0zm15 0zm26 0zm5 0zm41 0zm13 0zm3 0zm-112 1zm4 0zm12 0zm2 0zm2 0zm4 0zm17 0zm37 0h1m8 0zm20 0zm13 0zm-99 1zm21 0h1m56 0zm7 0zm6 0zm9 0zm-120 1zm2 0zm9 0zm29 0zm27 0zm15 0h1m-85 1h2m13 0h1m6 0zm16 0zm2 0zm6 0zm3 0zm34 0zm3 0zm25 0zm-114 1zm2 0zm22 0zm23 0zm18 0zm41 0zm3 0zm-102 1h1m10 0zm2 0zm2 0h1m33 0zm8 0zm8 0zm24 0zm14 0zm4 0zm-109 1h1m9 0h1m5 0zm3 0zm16 0zm7 0zm14 0zm43 0zm2 0h1m3 0zm10 0zm-123 1zm2 0zm6 0h1m10 0zm4 0zm2 0zm21 0zm12 0zm2 0zm10 0zm5 0zm37 0zm-107 1zm3 0zm11 0zm4 0zm49 0zm16 0zm38 0zm-127 1zm3 0zm45 0zm12 0zm23 0h1m-81 1zm5 0h1m4 0zm55 0zm6 0zm20 0zm14 0zm12 0zm5 0zm-123 1zm12 0zm35 0zm8 0zm13 0zm-75 1zm7 0zm5 0zm3 0h1m41 0zm8 0zm13 0zm-78 1zm2 0zm4 0zm2 0h1m2 0zm2 0zm9 0zm3 0h1m23 0zm17 0zm6 0zm21 0zm32 0zm4 0zm-123 1zm5 0zm5 0zm9 0zm29 0zm13 0zm12 0zm2 0zm14 0zm28 0zm-124 1h1m6 0zm2 0h1m2 0zm36 0zm77 0zm-123 1zm11 0zm4 0zm18 0zm60 0zm-95 1zm5 0h1m4 0zm15 0zm27 0zm11 0zm2 0zm2 0zm29 0zm20 0zm5 0zm-130 1zm5 0zm5 0zm9 0zm4 0zm2 0zm3 0zm23 0zm27 0zm11 0zm40 0zm-114 1zm12 0zm33 0h1m7 0zm4 0zm19 0zm21 0zm4 0zm5 0zm6 0zm2 0zm-127 1zm6 0zm2 0zm8 0zm12 0zm2 0zm27 0zm57 0zm-115 1zm6 0zm3 0h1m4 0zm8 0zm53 0zm16 0zm6 0zm16 0zm2 0zm16 0h1m2 0zm-127 1zm5 0zm9 0zm2 0zm4 0zm48 0zm6 0zm9 0zm2 0zm-85 1zm6 0zm4 0h1m52 0zm2 0zm6 0zm12 0zm5 0zm4 0zm5 0zm12 0zm-113 1h1m7 0zm5 0zm2 0zm3 0h1m4 0zm2 0zm8 0zm24 0zm4 0zm16 0zm5 0zm25 0zm12 0zm-122 1zm4 0zm3 0h1m10 0h1m37 0zm11 0zm15 0zm48 0zm-131 1zm12 0zm7 0zm22 0zm41 0zm18 0h1m25 0zm-112 1zm2 0zm4 0zm4 0zm11 0zm8 0zm18 0zm4 0zm16 0zm46 0zm-115 1zm18 0zm7 0zm4 0zm15 0zm6 0zm26 0zm15 0zm3 0zm25 0zm-138 1zm10 0h1m8 0zm4 0zm3 0h1m8 0zm6 0zm29 0zm17 0zm43 0zm-122 1zm2 0zm2 0h2m7 0zm12 0zm5 0h1m47 0zm26 0zm-103 1zm2 0zm3 0zm3 0zm5 0zm11 0zm24 0zm2 0zm15 0zm16 0zm9 0zm31 0zm-136 1zm10 0zm9 0h1m3 0zm7 0zm18 0zm47 0zm10 0h1m4 0zm7 0zm10 0zm-114 1zm4 0zm6 0zm12 0zm6 0zm3 0zm11 0zm8 0zm24 0zm43 0zm-117 1zm3 0zm3 0zm9 0h3m13 0zm17 0zm6 0zm13 0zm6 0zm2 0zm9 0zm10 0zm6 0zm13 0zm-115 1zm5 0h1m4 0zm7 0h2m7 0h2m7 0h1m3 0zm8 0zm16 0zm7 0zm20 0zm20 0zm10 0zm-122 1zm5 0h1m2 0zm4 0h2m4 0zm2 0zm3 0zm2 0h1m4 0zm2 0h2m2 0zm4 0zm3 0zm17 0h1m20 0zm-93 1zm9 0zm6 0zm5 0h1m16 0zm2 0zm21 0zm4 0zm-45 1zm10 0zm13 0zm3 0zm2 0h1m9 0zm3 0zm3 0zm8 0zm2 0zm6 0zm25 0zm12 0zm13 0zm-100 1zm6 0zm3 0h1m4 0zm4 0zm9 0h1m3 0zm10 0h1m3 0h1m2 0zm14 0zm15 0zm-86 1zm3 0zm4 0zm5 0zm2 0h1m4 0zm5 0zm2 0zm2 0zm4 0zm2 0zm2 0zm3 0zm4 0zm24 0zm32 0zm8 0h1m-128 1zm13 0zm10 0zm4 0zm4 0zm3 0zm4 0zm2 0zm3 0zm5 0h1m2 0zm2 0h3m3 0h1m4 0zm2 0zm3 0h1m3 0h1m5 0zm20 0zm16 0zm-110 1zm17 0h1m2 0h1m3 0h1m3 0zm2 0h1m2 0zm2 0zm2 0zm3 0zm3 0h1m3 0zm3 0zm2 0zm2 0zm3 0zm2 0h1m8 0zm2 0zm4 0zm10 0zm10 0zm-91 1zm8 0zm7 0h1m5 0h2m2 0h1m3 0h1m2 0zm4 0zm2 0zm7 0zm4 0h2m8 0zm5 0zm6 0h1m19 0zm5 0zm9 0zm3 0zm-109 1zm5 0zm3 0zm5 0zm9 0zm3 0h2m3 0zm4 0zm2 0h1m2 0zm2 0zm2 0h1m3 0zm2 0zm2 0zm2 0zm2 0zm3 0zm6 0h1m5 0zm26 0zm15 0zm-95 1zm5 0zm2 0h2m6 0h1m2 0h4m2 0h1m2 0h3m2 0h4m2 0zm11 0zm9 0zm3 0zm2 0zm4 0zm15 0zm16 0zm-117 1zm4 0zm19 0h2m2 0h1m2 0h3m2 0zm2 0h2m3 0h2m3 0h4m3 0h3m2 0h1m2 0zm4 0zm5 0zm53 0zm5 0zm-123 1zm7 0zm2 0zm4 0zm3 0h1m5 0zm2 0h6m2 0h6m2 0h1m4 0h2m2 0h1m3 0h1m10 0h1m2 0zm6 0zm2 0zm2 0zm9 0zm11 0h1m10 0zm15 0zm-116 1h2m2 0h1m2 0h1m6 0h1m2 0h2m3 0h2m2 0h2m2 0h1m2 0h2m2 0zm4 0h1m2 0zm2 0h1m3 0h1m2 0h2m9 0h1m20 0zm25 0zm-116 1zm8 0zm2 0h1m2 0zm2 0h4m2 0h8m2 0h2m2 0h6m2 0zm4 0h2m3 0h1m8 0zm2 0zm3 0zm5 0zm4 0zm11 0zm18 0zm10 0zm-122 1zm2 0zm8 0zm3 0zm4 0h1m2 0h1m2 0h2m2 0h7m2 0h3m2 0h4m2 0zm2 0h4m2 0h1m4 0zm2 0zm2 0h1m15 0zm39 0zm-119 1zm5 0zm2 0zm3 0zm4 0zm2 0zm2 0h1m3 0h25m2 0zm2 0h2m3 0zm2 0h1m2 0h6m2 0zm5 0zm2 0h1m4 0zm2 0zm11 0zm23 0zm-108 1h1m5 0h1m2 0h16m2 0h13m3 0h5m2 0zm2 0h4m2 0zm4 0zm3 0h1m9 0zm14 0zm2 0zm9 0zm2 0zm6 0zm3 0zm-121 1zm7 0zm3 0h1m5 0h5m2 0h17m2 0h8m2 0h4m5 0zm2 0zm2 0zm2 0zm5 0zm7 0h2m10 0zm7 0zm15 0zm-108 1zm3 0h4m2 0h1m2 0zm4 0h27m2 0h2m2 0h4m2 0zm2 0zm3 0h1m7 0zm17 0zm4 0zm-90 1zm7 0zm4 0h32m2 0h7m2 0h2m2 0zm2 0h2m4 0zm2 0h1m13 0zm8 0zm6 0zm23 0zm-131 1zm10 0zm5 0zm2 0zm2 0h4m2 0h9m2 0h22m3 0h1m2 0h5m6 0zm4 0zm3 0zm-77 1zm3 0zm2 0zm2 0zm4 0zm3 0zm2 0h40m2 0zm2 0h4m2 0zm5 0zm2 0h1m5 0zm51 0zm-147 1zm17 0zm7 0h2m3 0zm4 0h1m2 0h33m2 0h1m5 0h1m2 0h2m4 0zm2 0zm5 0h1m17 0h1m6 0zm3 0zm14 0zm-125 1zm6 0zm4 0zm3 0zm5 0zm3 0h39m2 0zm2 0h1m3 0zm2 0h1m5 0h1m6 0zm5 0zm21 0zm21 0zm-121 1zm6 0zm2 0h2m2 0h41m3 0zm2 0h1m3 0zm3 0h1m2 0zm5 0zm45 0zm-136 1zm19 0zm2 0zm3 0h1m2 0h45m4 0zm3 0zm3 0zm2 0zm11 0zm6 0zm7 0zm3 0zm-89 1zm2 0zm2 0h46m2 0h1m2 0h1m2 0h4m2 0zm2 0zm4 0h1m12 0zm-100 1zm17 0h1m2 0h1m2 0h40m2 0zm3 0h6m2 0zm2 0zm2 0h2m2 0zm8 0zm38 0zm-124 1zm8 0zm4 0zm2 0zm2 0h46m5 0h1m2 0h2m2 0zm5 0zm2 0zm4 0zm8 0zm6 0zm16 0zm-118 1zm7 0h1m3 0zm3 0h1m3 0h48m4 0h2m3 0zm2 0zm6 0zm10 0zm5 0zm5 0zm5 0zm-119 1zm5 0zm14 0zm2 0h3m3 0h44m2 0zm2 0zm4 0h4m6 0zm4 0zm3 0zm6 0zm27 0zm-118 1zm5 0zm7 0zm2 0h49m7 0zm6 0zm2 0h2m3 0zm5 0h1m3 0zm5 0zm16 0zm2 0zm18 0zm2 0zm-130 1zm3 0h1m4 0zm3 0h45m2 0zm2 0h3m2 0zm2 0h1m4 0zm8 0zm16 0zm9 0zm12 0zm-118 1zm2 0zm6 0zm2 0h45m2 0zm4 0h3m7 0zm11 0zm4 0zm7 0zm4 0zm23 0zm2 0zm-146 1zm3 0zm2 0zm10 0zm11 0zm5 0zm2 0h41m2 0h2m3 0zm2 0h1m3 0h4m2 0h1m5 0zm15 0zm8 0h1m-104 1zm6 0zm2 0h4m3 0h45m2 0h2m2 0zm2 0zm2 0zm2 0h2m5 0zm3 0zm2 0zm9 0zm-91 1zm2 0h1m4 0zm3 0h1m2 0h43m2 0zm2 0h1m2 0h2m3 0zm3 0zm4 0zm17 0zm15 0zm-102 1zm3 0h1m2 0zm2 0h40m2 0zm2 0h2m2 0zm2 0h3m4 0zm8 0zm5 0zm-88 1zm9 0zm2 0h2m4 0h46m2 0zm2 0zm3 0h2m3 0h1m7 0h1m8 0zm12 0zm12 0zm7 0zm-123 1zm3 0zm2 0zm3 0h2m2 0h2m2 0zm2 0h42m3 0zm5 0h2m2 0zm2 0h1m24 0zm10 0zm12 0zm-116 1zm7 0h46m2 0h2m4 0h1m2 0zm4 0zm9 0zm5 0zm16 0zm22 0zm6 0zm2 0zm-142 1zm19 0zm2 0zm4 0h41m2 0h4m2 0h4m4 0zm5 0zm2 0h1m6 0zm4 0zm-99 1zm17 0zm2 0h48m2 0zm2 0zm2 0zm2 0zm6 0zm17 0zm11 0h1m-99 1zm6 0h45m2 0h2m2 0h4m2 0zm2 0zm6 0zm28 0zm19 0zm-117 1h1m3 0h2m4 0h1m2 0h6m2 0h27m2 0h5m6 0zm2 0zm9 0zm22 0zm5 0zm10 0zm9 0zm-128 1zm2 0zm8 0zm2 0h1m7 0h37m3 0h2m4 0zm3 0h1m3 0zm4 0zm46 0zm4 0zm-119 1h1m2 0zm2 0zm4 0h3m2 0h36m2 0zm2 0zm3 0h1m2 0h2m5 0h1m18 0zm7 0zm22 0zm6 0zm-132 1zm13 0zm3 0zm3 0h4m3 0h3m2 0h30m5 0h1m2 0h2m2 0zm2 0zm6 0zm12 0zm22 0h2m7 0zm7 0zm6 0zm-149 1zm25 0zm2 0zm2 0h1m3 0h2m2 0zm2 0h22m2 0h3m2 0h4m2 0zm3 0h4m5 0zm2 0zm2 0zm3 0h1m49 0zm9 0zm-129 1zm5 0zm3 0zm2 0h3m2 0h30m2 0h2m3 0zm2 0zm4 0h1m3 0zm37 0zm6 0h1m22 0zm-147 1zm21 0zm2 0h1m3 0h1m3 0zm2 0h29m2 0h5m2 0h1m2 0zm2 0zm7 0zm8 0zm9 0h1m25 0zm-110 1zm3 0zm10 0h1m4 0h4m2 0h14m2 0h8m2 0h1m2 0zm3 0h2m5 0zm4 0zm2 0zm42 0zm8 0zm-118 1zm4 0h1m6 0h3m2 0h9m2 0h2m2 0h15m3 0zm2 0h1m2 0h1m2 0h1m13 0zm8 0zm23 0zm-94 1zm5 0zm2 0h29m3 0zm4 0zm2 0h1m2 0zm27 0zm6 0zm22 0zm-112 1zm5 0h3m4 0h3m2 0h1m2 0zm2 0h1m2 0h14m2 0h8m2 0h1m16 0zm20 0zm9 0zm16 0zm-99 1zm3 0zm2 0h1m2 0zm3 0h7m2 0h6m2 0h1m2 0zm5 0zm6 0zm11 0zm2 0zm9 0zm21 0zm36 0zm-131 1zm13 0zm3 0zm4 0zm2 0h21m3 0h1m8 0h2m5 0zm11 0zm8 0zm20 0zm26 0zm-122 1h3m2 0zm2 0zm4 0h3m2 0zm2 0h17m2 0h1m2 0h1m5 0zm10 0zm21 0zm-83 1zm7 0zm2 0h1m2 0h3m3 0h4m2 0h1m4 0h2m3 0h1m2 0h1m2 0h2m2 0zm5 0zm5 0zm3 0zm58 0zm3 0zm-136 1zm6 0zm12 0zm5 0zm6 0h1m2 0zm2 0h1m3 0h5m2 0zm2 0h5m4 0zm3 0zm3 0zm2 0zm4 0h1m3 0zm5 0zm33 0zm27 0zm-114 1zm5 0zm2 0zm4 0zm3 0h3m4 0h4m3 0zm2 0h3m2 0zm6 0h1m2 0h1m14 0zm18 0zm3 0zm17 0zm-109 1zm4 0zm4 0zm5 0zm2 0h1m5 0zm5 0h1m2 0zm2 0h1m2 0zm2 0h1m3 0h3m4 0zm2 0zm2 0zm8 0zm13 0zm7 0zm12 0zm-102 1zm21 0zm15 0h2m2 0h1m2 0zm2 0h1m4 0zm3 0h4m3 0h1m3 0h1m5 0zm2 0zm43 0zm21 0zm12 0zm-123 1zm2 0h1m3 0h1m2 0h3m2 0zm4 0zm2 0zm2 0zm5 0zm2 0zm3 0h1m3 0zm7 0zm3 0zm13 0zm-70 1zm5 0zm4 0zm7 0zm3 0zm3 0h1m6 0h1m2 0h2m2 0h2m2 0zm2 0zm2 0h1m2 0h3m7 0zm3 0zm31 0zm11 0zm8 0zm4 0zm9 0zm-121 1zm8 0zm5 0h1m4 0h1m3 0zm3 0h3m2 0zm2 0zm2 0zm2 0zm3 0zm9 0h1m6 0zm11 0zm28 0zm4 0zm3 0zm16 0zm-120 1h1m4 0zm5 0zm18 0h1m7 0zm4 0zm2 0h2m23 0zm3 0zm37 0zm13 0zm-112 1zm7 0zm3 0zm4 0zm3 0zm3 0h2m4 0h1m3 0zm4 0h1m3 0h1m2 0zm13 0zm15 0zm9 0zm41 0zm-122 1zm4 0h1m13 0zm2 0h2m5 0zm3 0h1m3 0zm3 0h1m3 0h1m2 0zm4 0zm5 0zm5 0zm26 0zm22 0zm-103 1h1m2 0zm7 0h1m2 0zm9 0h1m2 0zm3 0h1m3 0h2m3 0zm2 0h1m6 0zm47 0zm15 0zm7 0zm-118 1zm10 0zm2 0zm6 0zm4 0h2m5 0h3m2 0h1m2 0zm4 0zm2 0h1m42 0zm6 0h1m5 0zm-102 1zm15 0zm3 0zm7 0zm2 0zm2 0zm5 0h3m3 0zm3 0h1m15 0zm15 0zm7 0zm8 0zm13 0zm-94 1zm3 0zm6 0zm4 0zm2 0zm7 0zm5 0h3m2 0zm4 0zm2 0h2m2 0zm15 0zm2 0zm38 0zm4 0zm2 0zm-135 1zm38 0zm2 0zm4 0h1m4 0zm2 0zm3 0h1m6 0zm2 0h1m4 0zm5 0zm6 0zm37 0zm31 0zm-104 1zm6 0zm2 0zm2 0zm5 0h1m3 0zm3 0zm5 0zm2 0h1m2 0h1m43 0zm12 0zm-104 1zm3 0zm19 0h1m15 0h1m6 0zm20 0zm24 0zm21 0zm-91 1h1m5 0zm2 0zm2 0zm8 0zm2 0h2m4 0zm3 0zm49 0zm4 0zm-94 1zm9 0zm12 0zm2 0zm2 0h1m3 0zm2 0h1m50 0zm-65 1zm3 0zm3 0zm4 0zm2 0zm2 0zm3 0zm54 0zm-128 1zm41 0zm6 0zm6 0zm9 0zm2 0zm2 0zm2 0zm7 0zm6 0zm18 0zm37 0zm-76 1h1m3 0zm3 0zm2 0zm2 0zm4 0zm47 0zm-91 1zm16 0zm11 0zm6 0zm5 0h1m16 0zm44 0zm-89 1zm13 0zm3 0h1m3 0zm2 0zm10 0zm2 0zm44 0zm-73 1zm4 0zm5 0zm2 0zm5 0zm4 0h1m5 0h1m8 0zm-27 1zm4 0zm2 0zm5 0zm7 0zm3 0zm15 0zm-54 1zm16 0zm3 0zm5 0h1m3 0zm4 0h1m2 0zm4 0h1m-17 1zm2 0zm4 0h2m2 0zm3 0zm7 0zm3 0zm-24 1zm3 0h1m2 0zm2 0zm2 0h1m2 0zm-54 1zm40 0zm7 0zm6 0zm2 0zm2 0zm10 0zm-66 1zm43 0h2m5 0zm3 0zm8 0zm-21 1zm7 0zm-2 1zm4 0zm11 0zm-18 1zm4 0h1m5 0zm2 0h1m6 0zm-22 1zm3 0zm5 0h1m0 1zm16 0zm-21 1zm6 0zm-17 1zm14 0zm11 0zm5 0zm-19 1zm3 0zm5 0zm2 0zm-23 1zm7 0h1m1 1zm4 0zm3 0h1m14 0zm-52 1zm24 0zm11 0h1m20 0zm-22 1zm6 0zm3 0h1m-57 2zm40 0zm17 0h1m-13 1zm13 0zm5 0zm-8 2zm-27 1zm18 1zm2 0zm0 1zm12 0zm-11 1zm-12 1zm0 1zm2 0zm3 0zm3 0zm2 0zm2 0zm4 0zm3 0h3m8 0zm8 0zm8 0zm12 0h1m5 0zm2 0h2m13 0h2m6 0z"/>
<path class="ax" d="M0 0H374V374.1H0ZM195.4 0V374M0 211.2H374"/>
<path class="tkp" d="M-4.2 369.85h4.2M-4.2 363.56h4.2M-4.2 358.11h4.2M-4.2 353.30h4.2M-8.5 349.00h8.5M-4.2 320.70h4.2M-4.2 304.15h4.2M-4.2 292.41h4.2M-4.2 283.30h4.2M-4.2 275.85h4.2M-4.2 269.56h4.2M-4.2 264.11h4.2M-4.2 259.30h4.2M-8.5 255.00h8.5M-4.2 226.70h4.2M-4.2 210.15h4.2M-4.2 198.41h4.2M-4.2 189.30h4.2M-4.2 181.85h4.2M-4.2 175.56h4.2M-4.2 170.11h4.2M-4.2 165.30h4.2M-8.5 161.00h8.5M-4.2 132.70h4.2M-4.2 116.15h4.2M-4.2 104.41h4.2M-4.2 95.30h4.2M-4.2 87.85h4.2M-4.2 81.56h4.2M-4.2 76.11h4.2M-4.2 71.30h4.2M-8.5 67.00h8.5M-4.2 38.70h4.2M-4.2 22.15h4.2M-4.2 10.41h4.2M-4.2 1.30h4.2M10.83 374v4.2M19.88 374v4.2M27.28 374v4.2M33.53 374v4.2M38.95 374v4.2M43.73 374v4.2M48.00 374v8.5M76.12 374v4.2M92.56 374v4.2M104.23 374v4.2M113.28 374v4.2M120.68 374v4.2M126.93 374v4.2M132.35 374v4.2M137.13 374v4.2M141.40 374v8.5M169.52 374v4.2M185.96 374v4.2M197.63 374v4.2M206.68 374v4.2M214.08 374v4.2M220.33 374v4.2M225.75 374v4.2M230.53 374v4.2M234.80 374v8.5M262.92 374v4.2M279.36 374v4.2M291.03 374v4.2M300.08 374v4.2M307.48 374v4.2M313.73 374v4.2M319.15 374v4.2M323.93 374v4.2M328.20 374v8.5M356.32 374v4.2M372.76 374v4.2"/>
<rect class="qb" x="0.2" y="0" width="111.4" height="35.1" rx="3.5"/>
<text class="qt" y="25.6"><tspan x="1.9" textLength="42.6" lengthAdjust="spacingAndGlyphs">Q1: </tspan><tspan x="47.2" textLength="59.6" lengthAdjust="spacingAndGlyphs">3.28%</tspan></text>
<path class="qb" d="M247.6 0H372.8V28.4a3.5 3.5 0 0 1 -3.5 3.5H251.1a3.5 3.5 0 0 1 -3.5 -3.5Z"/>
<text class="qt" y="23.4"><tspan x="250.5" textLength="42.6" lengthAdjust="spacingAndGlyphs">Q2: </tspan><tspan x="295.8" textLength="72.6" lengthAdjust="spacingAndGlyphs">13.73%</tspan></text>
<rect class="qb" x="0.2" y="335.4" width="125.4" height="34.4" rx="3.5"/>
<text class="qt" y="361.6"><tspan x="1.9" textLength="42.6" lengthAdjust="spacingAndGlyphs">Q3: </tspan><tspan x="47.2" textLength="72.6" lengthAdjust="spacingAndGlyphs">78.68%</tspan></text>
<rect class="qb" x="260.2" y="335.4" width="112.6" height="34.4" rx="3.5"/>
<text class="qt" y="361.6"><tspan x="263.1" textLength="42.6" lengthAdjust="spacingAndGlyphs">Q4: </tspan><tspan x="308.4" textLength="59.6" lengthAdjust="spacingAndGlyphs">4.31%</tspan></text>
<text class="tt" x="187" y="-9.6" text-anchor="middle" textLength="180.4" lengthAdjust="spacingAndGlyphs">[A] FITC-A / PE-A</text>
<text class="tt" x="187" y="436" text-anchor="middle" textLength="69.2" lengthAdjust="spacingAndGlyphs">FITC-A</text>
<text class="tt" transform="translate(-49 187) rotate(-90)" text-anchor="middle" textLength="47" lengthAdjust="spacingAndGlyphs">PE-A</text>
<text class="tk" x="36.5" y="401">10<tspan class="ts" x="52.9" y="394.6">3</tspan></text><text class="tk" x="129.9" y="401">10<tspan class="ts" x="146.3" y="394.6">4</tspan></text><text class="tk" x="223.3" y="401">10<tspan class="ts" x="239.7" y="394.6">5</tspan></text><text class="tk" x="316.7" y="401">10<tspan class="ts" x="333.1" y="394.6">6</tspan></text><text class="tk" x="-35.2" y="354.8">10<tspan class="ts" x="-18.9" y="348.6">2</tspan></text><text class="tk" x="-35.2" y="260.8">10<tspan class="ts" x="-18.9" y="254.6">3</tspan></text><text class="tk" x="-35.2" y="166.8">10<tspan class="ts" x="-18.9" y="160.6">4</tspan></text><text class="tk" x="-35.2" y="72.8">10<tspan class="ts" x="-18.9" y="66.6">5</tspan></text>
</g>
<text class="lb" x="722" y="1074.7" text-anchor="middle">mimic-NC+LBP</text>
<g transform="translate(1007 594.4)">
<path class="dots" transform="scale(1.4609) translate(.5 .5)" d="M244 8zm-35 1zm22 1zm14 0zm-37 1zm1 1zm-15 2zm18 0zm10 0zm12 0zm-17 1zm-3 1zm17 0zm-16 1zm2 0zm6 0zm5 0zm3 0zm-42 1zm26 0zm4 0zm-21 1zm10 0zm8 0h1m8 0zm2 0zm3 0zm14 0zm7 0zm-52 1zm6 0h1m3 0zm2 0zm3 0zm6 0h2m-11 1zm2 0zm2 0zm5 0zm4 0zm5 0h1m6 0zm10 0zm-47 1zm2 0zm2 0zm6 0h2m3 0h2m2 0h1m4 0zm2 0zm2 0zm2 0zm-41 1zm8 0zm6 0zm6 0zm7 0h4m3 0h2m4 0zm6 0zm10 0zm-45 1h1m3 0zm2 0zm6 0zm2 0zm6 0zm2 0h1m3 0zm9 0h1m5 0zm-38 1zm2 0h1m2 0zm2 0h1m4 0h1m2 0zm4 0zm2 0zm7 0h1m17 0zm-78 1zm24 0zm4 0zm3 0h1m3 0h1m11 0zm2 0zm3 0h1m2 0zm2 0zm3 0zm3 0zm3 0zm2 0zm-44 1zm7 0zm3 0h1m3 0zm2 0h1m2 0h1m3 0h1m2 0zm2 0h1m2 0h1m3 0zm3 0zm7 0zm-51 1h1m3 0zm2 0zm3 0zm4 0h2m4 0h1m2 0zm2 0h3m3 0h2m2 0h2m2 0zm13 0zm-43 1zm3 0zm2 0h1m2 0h3m3 0h5m2 0h1m2 0zm2 0zm2 0h3m2 0zm-57 1zm14 0zm13 0zm5 0h2m2 0h3m2 0h1m2 0zm2 0h3m2 0h2m3 0h1m-29 1zm2 0zm2 0h1m3 0zm2 0h1m2 0h2m2 0h5m2 0h6m-45 1zm3 0zm6 0zm2 0zm4 0zm3 0h2m2 0zm2 0h2m2 0zm2 0zm3 0h1m2 0h1m3 0h3m2 0zm3 0zm16 0zm-65 1zm12 0zm3 0zm2 0zm2 0zm2 0zm3 0h5m2 0h2m2 0h3m4 0h1m2 0zm5 0zm16 0zm-66 1h1m12 0zm6 0zm2 0zm2 0h1m2 0h4m2 0h1m2 0h3m4 0zm2 0h2m2 0zm8 0zm-80 1zm7 0zm12 0zm6 0zm2 0zm7 0zm2 0h1m4 0h4m2 0h4m2 0h3m3 0zm2 0h1m3 0h1m-71 1zm27 0zm2 0zm5 0h1m3 0zm2 0zm4 0h6m2 0h4m4 0zm2 0h2m2 0h1m3 0h2m2 0zm2 0h1m7 0zm13 0zm-80 1zm5 0zm3 0zm2 0zm5 0zm6 0h2m3 0h3m3 0h11m2 0zm2 0h3m5 0zm3 0h1m18 0zm-66 1zm7 0zm5 0zm3 0h4m2 0zm3 0h4m2 0h7m2 0zm2 0zm2 0zm3 0h1m17 0zm-61 1zm5 0zm2 0zm3 0h3m2 0h2m3 0h3m3 0h8m2 0zm2 0h1m2 0zm5 0zm18 0zm-67 1zm13 0zm2 0zm2 0h1m2 0h1m2 0h1m3 0zm2 0h3m2 0zm2 0h1m2 0h1m5 0zm9 0zm9 0zm-84 1zm13 0h1m4 0zm2 0zm6 0zm5 0zm4 0h1m2 0h7m2 0h1m2 0h4m3 0h3m4 0zm4 0zm4 0zm-66 1zm7 0zm7 0zm5 0zm2 0zm2 0zm2 0h4m2 0h5m2 0h1m2 0h12m3 0h1m2 0zm3 0zm4 0h1m3 0zm-73 1zm14 0zm5 0zm3 0h2m2 0zm3 0h4m2 0h12m2 0zm3 0h1m2 0zm5 0zm2 0zm2 0h1m9 0h1m-81 1zm12 0zm20 0h1m2 0h1m2 0zm2 0h1m2 0h12m2 0h1m2 0zm2 0h1m3 0h1m5 0zm-60 1zm6 0zm12 0h4m3 0zm2 0h6m2 0h11m2 0zm2 0zm2 0h1m4 0h1m9 0zm8 0zm7 0zm-90 1h1m5 0zm2 0zm4 0h2m11 0zm6 0h1m2 0h4m2 0h1m2 0h11m2 0h3m2 0zm4 0h1m7 0zm-78 1zm6 0zm2 0zm2 0zm2 0zm8 0zm2 0h1m3 0zm4 0zm3 0h5m2 0h5m2 0h4m3 0zm2 0h5m5 0h1m5 0zm-80 1zm21 0zm7 0zm3 0h1m4 0zm2 0zm2 0zm2 0h1m2 0zm4 0zm2 0h2m2 0zm2 0h7m2 0h1m2 0h1m2 0zm8 0zm-79 1zm5 0zm2 0h1m6 0zm10 0zm6 0zm2 0zm3 0zm5 0h2m2 0h2m2 0h1m2 0zm2 0h3m2 0h3m2 0h2m3 0zm9 0zm11 0zm-92 1zm8 0zm13 0zm4 0zm8 0zm5 0zm6 0h2m3 0h1m2 0h8m2 0zm2 0h3m2 0h1m6 0zm-71 1zm5 0h1m3 0h1m8 0zm2 0zm2 0zm7 0zm2 0zm2 0h4m2 0zm4 0zm2 0h6m2 0zm2 0h1m2 0h1m8 0zm4 0zm11 0zm-93 1zm13 0h1m9 0zm5 0zm5 0zm3 0zm2 0h3m2 0zm2 0zm3 0zm2 0zm4 0h2m3 0zm3 0zm2 0h8m2 0zm2 0h1m5 0zm-63 1h1m8 0zm6 0zm4 0zm2 0h1m8 0zm4 0zm5 0h2m2 0h1m2 0zm7 0h1m2 0zm2 0h1m5 0zm-80 1zm8 0zm2 0zm5 0zm3 0zm2 0h1m3 0zm2 0zm3 0zm2 0h1m4 0zm2 0h1m2 0zm3 0zm2 0zm4 0h1m2 0zm2 0h1m2 0h1m6 0zm3 0zm4 0zm4 0h1m3 0h1m-75 1zm7 0h1m14 0zm4 0zm6 0h1m2 0h2m5 0zm3 0zm3 0h1m2 0zm2 0zm7 0zm5 0h1m8 0zm-77 1zm6 0zm3 0zm5 0zm3 0h1m13 0h3m2 0h2m3 0zm11 0h2m2 0h1m5 0zm4 0zm6 0zm-77 1zm5 0zm3 0zm13 0zm5 0zm14 0h1m5 0h1m2 0zm3 0zm6 0zm5 0zm2 0zm4 0zm6 0zm-77 1zm3 0zm9 0zm4 0zm3 0zm3 0h1m5 0zm4 0zm3 0zm7 0zm5 0h1m4 0zm5 0zm4 0zm2 0zm5 0zm4 0h1m3 0zm-74 1zm9 0zm5 0h1m11 0zm7 0zm2 0zm5 0h1m5 0zm5 0zm2 0zm3 0zm7 0zm12 0zm2 0zm3 0zm-91 1zm5 0zm4 0h2m5 0zm10 0zm12 0zm4 0zm5 0zm3 0zm15 0h1m8 0zm-70 1zm2 0zm9 0zm4 0h1m4 0zm2 0zm2 0zm5 0zm2 0zm2 0h1m2 0h1m4 0h1m2 0zm13 0zm15 0zm5 0zm3 0zm-78 1zm5 0zm2 0zm15 0h1m10 0zm7 0h1m8 0zm3 0zm4 0zm23 0zm4 0zm9 0zm-98 1zm3 0zm9 0zm3 0zm9 0zm11 0h2m6 0zm2 0zm4 0h1m13 0h2m10 0zm7 0zm-85 1zm5 0zm14 0zm2 0zm2 0zm2 0zm16 0zm21 0zm21 0zm22 0zm-98 1zm4 0h2m6 0zm6 0zm4 0zm6 0zm7 0zm4 0h1m7 0zm3 0zm22 0zm7 0zm3 0zm3 0zm-87 1zm2 0zm3 0zm3 0zm6 0zm4 0zm6 0zm6 0h1m3 0zm28 0zm7 0h1m12 0zm12 0zm-93 1zm5 0zm2 0zm13 0zm3 0zm15 0zm2 0zm25 0zm5 0zm4 0h1m2 0zm12 0zm7 0zm-92 1zm3 0zm4 0zm30 0zm13 0zm9 0zm6 0zm12 0zm4 0zm-83 1h3m19 0zm3 0h1m8 0h1m18 0zm2 0zm5 0zm5 0h1m3 0zm19 0zm-91 1zm6 0zm17 0zm24 0zm21 0zm4 0zm-73 1h1m2 0h1m8 0h2m10 0zm2 0zm3 0zm3 0zm3 0zm10 0zm10 0zm17 0zm11 0zm6 0zm6 0zm-103 1zm4 0zm4 0zm2 0h1m6 0zm5 0zm3 0zm7 0zm35 0zm4 0zm6 0zm9 0zm16 0zm4 0zm-99 1h1m4 0zm5 0h1m4 0zm2 0zm9 0zm6 0zm14 0zm10 0zm26 0zm7 0zm3 0zm6 0zm2 0zm-107 1zm19 0zm8 0zm9 0h2m29 0zm3 0zm7 0zm4 0zm33 0zm-109 1zm13 0zm13 0zm6 0zm4 0zm13 0zm6 0zm12 0zm26 0zm10 0zm6 0zm-110 1zm2 0zm19 0zm14 0zm9 0zm26 0zm4 0zm10 0zm4 0zm-90 1zm8 0zm16 0zm3 0zm4 0zm3 0zm11 0zm5 0zm25 0zm23 0zm5 0zm-106 1h1m5 0zm19 0zm4 0zm6 0h2m25 0zm26 0zm-90 1zm8 0zm4 0zm7 0zm23 0h2m20 0zm24 0zm3 0zm-85 1zm25 0zm4 0zm9 0zm5 0zm9 0zm6 0zm4 0zm23 0h1m13 0zm-85 1h2m21 0zm9 0zm18 0zm20 0zm4 0zm-87 1h1m16 0zm2 0zm3 0zm5 0zm2 0zm5 0zm14 0zm6 0zm28 0zm16 0h1m3 0zm10 0zm-123 1zm5 0zm6 0zm4 0zm4 0h1m3 0zm10 0zm4 0h2m3 0zm19 0zm8 0zm4 0zm21 0zm4 0zm3 0zm2 0zm3 0zm2 0zm-109 1zm3 0zm2 0zm18 0zm14 0zm5 0zm2 0zm8 0h1m30 0zm19 0zm4 0h1m-95 1h1m19 0h1m2 0zm3 0zm22 0zm7 0h1m5 0zm22 0zm-99 1zm5 0zm20 0h1m2 0zm4 0zm2 0zm21 0zm2 0zm38 0zm-84 1zm5 0zm8 0zm2 0zm6 0zm5 0zm4 0zm17 0zm16 0zm12 0zm5 0zm12 0zm19 0h1m2 0zm-116 1h1m4 0h1m3 0zm5 0zm2 0zm2 0zm7 0zm29 0zm5 0zm10 0zm14 0zm6 0zm3 0zm-77 1zm3 0zm3 0h1m34 0zm13 0zm4 0zm3 0zm5 0zm9 0zm-89 1zm2 0zm9 0zm17 0zm6 0zm15 0zm29 0zm15 0zm4 0zm-110 1zm18 0zm2 0zm4 0h1m13 0zm4 0zm6 0zm4 0zm3 0zm28 0zm26 0zm2 0h1m5 0zm2 0zm2 0zm-64 1zm8 0zm20 0zm15 0zm22 0zm3 0zm-127 1zm7 0zm4 0zm6 0zm4 0zm16 0zm5 0zm5 0zm12 0zm3 0zm9 0zm14 0zm4 0zm38 0zm-117 1h1m18 0zm26 0zm15 0zm19 0zm17 0zm-104 1zm7 0zm2 0h1m3 0zm11 0zm4 0zm18 0h1m14 0zm49 0zm10 0zm-114 1zm3 0zm25 0zm6 0zm3 0zm13 0zm13 0zm46 0zm8 0h1m-120 1zm6 0h1m9 0zm18 0zm16 0zm9 0zm11 0zm9 0zm13 0zm18 0zm3 0zm-108 1zm11 0zm8 0zm15 0h1m51 0zm14 0zm9 0zm-122 1zm2 0zm5 0zm11 0zm5 0zm8 0zm25 0zm48 0zm-100 1zm2 0zm3 0zm13 0zm6 0zm2 0zm13 0zm5 0zm2 0zm8 0zm11 0zm18 0zm2 0zm5 0h1m7 0h1m4 0zm8 0zm15 0zm-136 1zm14 0zm9 0zm7 0zm6 0zm12 0zm6 0zm12 0zm20 0zm12 0zm11 0zm4 0zm-110 1zm6 0zm4 0zm21 0zm29 0zm37 0zm11 0zm5 0zm19 0zm-128 1zm9 0h1m5 0zm2 0zm5 0zm5 0zm29 0zm18 0zm26 0zm2 0zm-106 1zm50 0zm24 0zm4 0zm12 0zm22 0zm8 0zm-112 1h1m4 0zm13 0zm39 0zm4 0zm7 0zm20 0zm6 0zm12 0zm15 0zm-126 1zm6 0h2m2 0zm2 0zm13 0zm22 0zm4 0h1m12 0zm16 0zm8 0zm3 0zm9 0zm17 0zm-110 1zm11 0zm29 0zm15 0zm14 0zm8 0zm13 0zm4 0zm8 0zm3 0zm17 0zm-134 1zm13 0zm2 0zm15 0zm32 0zm34 0zm7 0zm5 0zm-108 1zm11 0zm18 0zm22 0zm11 0zm2 0zm16 0zm-75 1zm7 0zm6 0zm10 0zm33 0zm21 0zm3 0zm14 0zm5 0zm19 0zm-131 1zm7 0zm6 0zm2 0zm3 0zm17 0zm23 0zm11 0zm7 0h1m2 0h1m25 0zm21 0zm-113 1zm10 0zm7 0zm35 0zm14 0zm13 0zm12 0zm8 0zm12 0zm-115 1zm4 0zm10 0zm40 0zm17 0zm2 0zm11 0zm7 0zm2 0zm33 0zm-130 1zm4 0zm2 0h1m9 0zm38 0zm35 0zm43 0zm-134 1zm7 0zm4 0h1m2 0zm6 0zm4 0zm3 0zm2 0zm43 0zm12 0zm10 0zm4 0zm35 0zm-127 1h1m2 0zm54 0zm5 0zm4 0zm5 0zm15 0zm8 0zm12 0zm11 0zm11 0zm-130 1h1m7 0zm3 0zm41 0zm39 0zm27 0zm2 0zm-122 1zm5 0zm44 0zm2 0zm4 0zm22 0zm43 0zm8 0h2m-133 1zm6 0zm2 0zm14 0zm3 0h1m36 0zm24 0zm11 0zm8 0zm2 0zm9 0zm8 0zm4 0zm-130 1zm6 0zm4 0zm3 0zm3 0h1m6 0zm2 0zm18 0zm19 0zm31 0zm14 0zm16 0zm4 0zm-127 1zm7 0h1m6 0zm10 0zm47 0zm2 0zm5 0zm2 0zm25 0zm9 0h1m-109 1zm9 0zm13 0zm65 0zm7 0zm25 0zm-112 1zm2 0h2m2 0h1m30 0zm2 0zm3 0zm13 0zm14 0zm18 0zm14 0zm5 0zm-117 1zm13 0zm5 0zm31 0zm2 0zm6 0zm5 0zm28 0zm18 0zm5 0zm5 0zm6 0zm-117 1zm4 0h1m35 0zm13 0zm2 0zm36 0zm-100 1zm5 0zm7 0h1m25 0zm15 0h1m3 0zm19 0zm21 0zm22 0zm4 0zm-125 1zm3 0h1m2 0zm8 0zm2 0zm6 0h1m29 0zm6 0zm2 0zm41 0zm5 0zm8 0h1m12 0zm-123 1zm3 0zm34 0zm6 0zm6 0zm12 0zm6 0zm7 0zm26 0zm3 0zm12 0zm3 0zm11 0zm-124 1h1m7 0zm4 0zm60 0zm24 0h1m11 0zm7 0zm-123 1zm4 0zm2 0h3m4 0zm3 0zm4 0h2m15 0zm17 0zm9 0zm2 0zm41 0zm4 0zm-114 1zm4 0h1m5 0zm15 0h1m22 0zm16 0h1m37 0zm-91 1zm3 0zm2 0zm6 0zm12 0zm2 0zm11 0zm17 0h1m6 0zm16 0zm31 0zm-118 1h1m11 0h1m2 0zm3 0h1m4 0zm10 0zm12 0zm24 0zm2 0zm6 0zm32 0zm14 0h1m-126 1zm6 0zm2 0zm6 0zm9 0zm21 0zm5 0zm2 0h1m7 0zm48 0zm3 0zm19 0zm-126 1zm7 0zm2 0zm7 0zm24 0zm14 0h1m3 0zm4 0zm7 0zm39 0zm13 0zm5 0zm-124 1zm4 0zm2 0zm4 0zm4 0h1m2 0zm7 0zm22 0zm5 0zm10 0zm9 0zm4 0zm19 0zm6 0h1m6 0zm12 0zm4 0zm-126 1zm3 0h3m5 0h2m12 0zm7 0zm8 0zm3 0zm2 0zm9 0zm28 0zm2 0zm10 0zm22 0zm6 0zm-126 1zm2 0zm12 0zm18 0h1m7 0zm31 0zm11 0h1m15 0zm23 0zm6 0zm8 0zm-135 1zm2 0zm4 0zm2 0h1m4 0zm9 0zm3 0zm2 0h1m7 0zm9 0zm9 0zm4 0zm21 0zm6 0zm19 0zm4 0zm2 0zm9 0zm-115 1zm6 0zm8 0zm3 0zm8 0zm2 0h2m2 0zm12 0h1m5 0zm36 0zm15 0zm8 0zm14 0zm-119 1zm6 0zm6 0zm4 0h1m20 0zm7 0zm3 0zm9 0zm29 0zm43 0zm-125 1zm2 0zm3 0zm9 0h2m3 0zm3 0zm8 0h2m6 0zm2 0zm6 0zm8 0zm-49 1h1m7 0h1m9 0h2m6 0zm3 0zm6 0zm3 0zm3 0h1m6 0zm6 0zm2 0zm8 0zm11 0zm19 0h1m-107 1zm7 0zm4 0zm2 0zm3 0zm6 0h1m2 0h1m4 0zm2 0zm3 0zm2 0zm3 0zm2 0h2m5 0h1m2 0zm2 0zm9 0zm41 0zm9 0zm-115 1zm5 0zm8 0zm4 0zm4 0h2m7 0h1m4 0h1m2 0zm2 0zm3 0zm3 0h1m6 0zm2 0zm15 0zm6 0zm7 0zm33 0zm10 0h1m-110 1zm2 0zm6 0h1m4 0zm3 0zm3 0zm5 0zm2 0h3m2 0zm4 0zm2 0zm8 0h1m3 0h1m49 0zm-125 1zm27 0h2m8 0h2m5 0zm2 0h1m7 0h1m3 0zm5 0zm2 0h2m2 0zm12 0h1m10 0zm25 0zm17 0zm-128 1zm13 0zm7 0zm2 0h1m2 0zm8 0h2m2 0h2m3 0h2m4 0h1m2 0h1m4 0zm2 0h2m5 0zm4 0zm30 0zm28 0zm-120 1zm6 0zm4 0zm7 0zm2 0h3m2 0zm2 0zm2 0zm2 0zm2 0h1m2 0h3m5 0zm3 0h1m5 0zm10 0h1m6 0h1m6 0zm13 0zm5 0zm-89 1zm3 0h3m4 0h1m2 0zm3 0h1m3 0zm3 0zm3 0zm2 0h2m2 0zm4 0h1m2 0h1m2 0zm3 0h1m4 0zm10 0zm10 0zm5 0zm29 0zm-110 1zm4 0zm4 0h2m3 0zm2 0zm3 0zm2 0zm4 0zm2 0h2m2 0h1m2 0zm2 0zm2 0zm5 0h1m3 0h2m2 0zm4 0h1m2 0zm2 0zm2 0zm4 0zm5 0zm3 0h1m9 0zm32 0zm-123 1zm12 0zm2 0h2m5 0zm4 0zm2 0zm3 0zm3 0h4m2 0h4m2 0zm2 0zm2 0h2m2 0h1m2 0zm2 0h1m2 0zm8 0zm2 0zm9 0zm2 0zm17 0zm7 0zm4 0zm6 0zm6 0zm-107 1zm3 0zm5 0zm4 0zm2 0h6m2 0h12m2 0zm2 0h1m2 0zm6 0zm2 0zm2 0h1m2 0zm5 0zm7 0zm36 0zm-124 1zm16 0zm2 0zm6 0zm2 0h1m3 0h1m2 0h1m2 0h3m2 0h2m2 0h9m2 0h2m2 0zm4 0h2m2 0zm2 0h1m3 0h2m4 0zm15 0zm-77 1zm3 0zm2 0zm2 0h1m2 0zm2 0h6m3 0h15m2 0h4m3 0zm2 0zm2 0zm2 0h1m2 0zm3 0zm2 0zm3 0zm3 0zm5 0zm2 0zm-87 1h1m8 0zm2 0zm5 0zm3 0h1m2 0zm2 0h2m2 0zm3 0h2m2 0h26m2 0h1m2 0h1m3 0zm2 0zm8 0zm5 0zm7 0zm5 0zm8 0zm-105 1zm9 0zm8 0zm2 0zm2 0h3m2 0zm2 0h2m2 0h25m2 0zm3 0zm2 0zm2 0zm3 0zm8 0zm4 0zm2 0zm30 0zm7 0zm-119 1zm14 0h2m5 0zm2 0h1m2 0zm2 0h5m2 0h26m2 0h8m2 0h1m3 0zm9 0zm3 0zm25 0zm-110 1h1m7 0h1m2 0zm2 0h1m4 0zm2 0h29m3 0h3m2 0h4m2 0h4m3 0zm2 0h2m6 0zm6 0zm26 0zm-116 1zm2 0zm10 0zm2 0zm2 0h1m2 0h5m2 0h1m2 0h23m2 0h2m2 0h1m2 0h3m4 0zm3 0zm4 0h2m2 0zm4 0zm14 0zm21 0zm-114 1zm7 0zm4 0h1m3 0h5m2 0h6m2 0h19m2 0zm2 0zm2 0zm2 0h7m3 0zm2 0h2m5 0zm8 0zm17 0zm10 0zm5 0zm-116 1zm4 0h1m6 0h2m2 0zm2 0h35m2 0zm2 0zm3 0zm2 0h2m2 0zm12 0zm24 0zm-107 1zm6 0zm4 0zm2 0h1m4 0h15m2 0h25m2 0h1m2 0h1m2 0zm12 0zm3 0zm-95 1zm2 0zm3 0zm3 0zm10 0h1m6 0h1m3 0h49m2 0h1m2 0zm3 0zm13 0zm37 0zm-127 1zm4 0zm4 0h1m3 0zm4 0zm3 0zm3 0h36m2 0zm2 0h3m2 0h4m2 0h2m5 0zm3 0zm3 0zm6 0zm3 0zm-90 1zm6 0zm3 0h1m3 0zm2 0h1m3 0h34m2 0h2m2 0zm2 0h1m3 0h2m2 0zm2 0zm3 0zm2 0zm16 0zm12 0zm15 0zm-135 1zm3 0zm2 0zm7 0zm9 0zm2 0zm2 0h1m3 0h43m2 0h4m2 0zm3 0h1m2 0h2m3 0zm2 0zm3 0zm5 0zm2 0zm6 0zm-102 1zm8 0zm5 0h1m2 0h6m2 0h39m2 0h1m3 0h3m6 0zm4 0zm9 0zm3 0zm6 0zm11 0zm2 0zm-117 1zm10 0zm6 0zm2 0zm2 0zm2 0h2m2 0h39m2 0h5m4 0zm6 0zm4 0zm2 0zm4 0zm2 0zm2 0h1m2 0zm20 0zm-120 1zm10 0zm7 0h3m3 0h47m3 0h1m3 0zm3 0h5m3 0h1m28 0zm3 0zm11 0zm4 0zm-119 1zm2 0zm2 0h3m2 0h43m3 0h3m2 0zm2 0zm5 0zm5 0zm5 0zm2 0zm3 0zm13 0zm-110 1zm2 0zm3 0zm7 0h1m2 0zm2 0zm2 0zm2 0h44m3 0zm3 0zm2 0zm2 0zm4 0zm3 0zm5 0zm8 0zm3 0zm3 0zm7 0zm15 0zm-123 1zm2 0zm9 0zm4 0zm3 0h4m2 0h42m2 0h2m2 0h2m12 0zm2 0zm3 0h1m25 0zm-117 1zm5 0zm3 0zm6 0zm2 0zm3 0h48m3 0h1m4 0h3m2 0zm2 0zm5 0zm2 0zm2 0zm3 0zm3 0zm10 0zm5 0zm8 0zm-111 1h1m5 0zm2 0h3m2 0h42m3 0h2m2 0h2m2 0h4m2 0zm28 0zm2 0zm14 0zm-126 1zm6 0zm4 0h3m2 0zm3 0zm2 0h40m2 0h2m2 0h3m2 0h4m2 0zm2 0h1m2 0zm3 0h1m29 0zm7 0zm-122 1zm10 0zm2 0zm3 0h1m2 0zm3 0zm2 0h39m2 0zm2 0h4m2 0h2m2 0h1m3 0h4m46 0zm-139 1zm14 0zm2 0h1m6 0h1m3 0zm2 0h45m3 0h1m9 0h1m3 0zm43 0zm-111 1zm2 0zm2 0h50m3 0zm2 0zm8 0zm45 0zm-120 1zm3 0h1m4 0h1m2 0h39m2 0zm2 0h3m2 0h3m2 0zm6 0zm5 0zm4 0zm15 0zm9 0zm5 0zm-109 1zm5 0zm2 0zm3 0h1m2 0h1m3 0h36m2 0h1m2 0zm6 0h1m3 0zm8 0zm3 0zm21 0zm10 0zm13 0zm-120 1zm4 0zm3 0zm3 0h3m2 0h32m3 0h3m2 0h1m3 0h1m3 0zm23 0zm28 0zm9 0zm-131 1zm19 0h2m2 0h32m2 0h1m2 0h1m3 0h1m2 0h1m2 0zm3 0zm5 0zm-77 1zm3 0zm4 0zm2 0zm3 0zm3 0h2m2 0h37m2 0h4m2 0h2m2 0h1m9 0h1m-76 1zm2 0zm7 0zm2 0h38m2 0h3m2 0h2m3 0zm2 0h1m4 0zm38 0zm5 0zm2 0zm2 0zm-113 1h1m7 0zm4 0h34m2 0h1m3 0zm3 0zm3 0h2m3 0zm2 0zm4 0zm37 0zm12 0zm-121 1h2m2 0h2m2 0zm3 0zm3 0zm2 0h33m3 0h1m2 0zm2 0zm9 0zm2 0zm2 0h1m3 0zm3 0zm11 0zm5 0zm-91 1zm8 0zm2 0h30m3 0h5m2 0h1m2 0h5m3 0zm3 0zm6 0zm6 0zm4 0zm22 0zm2 0zm25 0zm-136 1zm2 0zm2 0zm4 0zm4 0h2m5 0h2m2 0h14m2 0h11m2 0h2m2 0h2m2 0zm7 0h1m2 0zm2 0h1m-87 1zm25 0h2m2 0zm2 0h1m2 0h1m3 0zm3 0h18m2 0h6m5 0zm2 0zm8 0h1m2 0zm3 0h1m15 0zm2 0zm3 0zm10 0zm-97 1zm5 0zm4 0h1m2 0h1m2 0h5m2 0h7m2 0zm2 0h7m2 0zm3 0zm8 0zm3 0zm5 0zm3 0zm6 0h1m5 0zm5 0zm27 0zm-113 1zm6 0zm8 0h3m2 0h1m2 0h1m2 0h5m3 0h6m3 0h2m2 0h4m2 0h1m2 0h1m3 0zm2 0zm15 0zm11 0zm-96 1zm15 0h1m5 0h3m2 0h1m2 0h1m3 0h15m2 0h4m2 0h1m2 0h2m2 0zm3 0zm3 0h1m56 0zm-117 1zm6 0zm2 0zm3 0zm2 0h3m3 0h2m2 0h2m3 0h6m2 0zm3 0h2m2 0h7m2 0zm4 0zm3 0zm3 0zm9 0zm13 0zm-89 1zm5 0zm3 0zm6 0zm2 0zm2 0h1m3 0h2m3 0zm3 0h1m3 0zm2 0h1m2 0h2m3 0zm2 0h4m4 0zm2 0h2m4 0h2m16 0zm13 0h1m24 0zm3 0zm-109 1h2m2 0zm3 0zm2 0zm2 0zm3 0h4m2 0h5m2 0h3m2 0h1m2 0zm2 0h5m9 0zm6 0zm5 0zm11 0zm17 0zm-86 1h1m4 0zm2 0zm3 0zm2 0zm3 0h1m2 0h8m2 0h2m2 0h1m2 0zm9 0zm2 0zm3 0zm2 0zm10 0zm3 0zm2 0zm28 0zm3 0zm-117 1zm2 0zm4 0zm3 0zm13 0h3m3 0h1m2 0h5m2 0h1m2 0h1m2 0zm2 0zm3 0h1m3 0h1m2 0h1m2 0zm2 0zm2 0zm3 0zm41 0zm7 0zm-118 1zm28 0zm3 0zm3 0zm2 0h2m2 0zm3 0h1m4 0h2m3 0h1m5 0h1m4 0h1m6 0zm30 0zm3 0zm16 0zm-104 1zm2 0zm3 0h2m2 0h1m3 0h8m4 0zm3 0h1m2 0zm2 0h2m3 0zm3 0zm2 0h2m8 0zm19 0h1m15 0zm18 0zm15 0zm-132 1zm3 0zm8 0h1m7 0h1m2 0zm2 0zm3 0zm3 0zm3 0h1m2 0zm2 0h1m2 0zm2 0zm2 0zm5 0zm2 0zm4 0h1m3 0h1m10 0zm18 0zm3 0zm28 0zm-124 1h1m15 0h1m4 0zm2 0zm8 0zm2 0zm3 0zm2 0h2m2 0h4m2 0zm2 0h1m5 0h1m3 0h1m2 0zm8 0zm19 0h1m2 0zm11 0zm21 0zm3 0zm-121 1zm3 0zm8 0zm2 0zm2 0h2m5 0zm8 0zm2 0h1m3 0h2m2 0h4m3 0zm2 0zm3 0h1m2 0zm3 0h1m3 0zm3 0zm49 0zm-116 1zm9 0zm4 0zm5 0zm5 0zm8 0zm4 0h1m4 0h4m3 0zm4 0h1m4 0zm60 0zm-122 1zm12 0zm18 0zm2 0zm5 0zm7 0h1m3 0h2m2 0zm2 0zm3 0zm8 0h1m2 0zm42 0zm19 0zm-134 1zm20 0zm11 0h1m2 0zm3 0zm3 0zm15 0zm3 0h2m6 0zm5 0zm47 0zm4 0zm8 0zm8 0zm-111 1zm2 0zm3 0zm7 0zm4 0h1m4 0zm3 0h1m3 0zm6 0zm5 0zm3 0zm4 0zm10 0zm9 0zm13 0zm7 0zm-86 1zm4 0zm3 0h1m3 0h1m6 0zm2 0zm2 0zm2 0h1m7 0h1m2 0h1m5 0zm37 0zm5 0zm-103 1zm38 0h1m2 0zm4 0zm2 0zm2 0h1m4 0zm6 0zm61 0zm-101 1zm3 0zm15 0h3m11 0zm2 0h1m5 0zm12 0zm-40 1zm9 0h2m2 0zm5 0zm4 0zm3 0zm42 0zm-83 1zm5 0zm6 0zm16 0zm2 0zm5 0h2m3 0h1m3 0zm4 0zm36 0zm6 0zm3 0zm-94 1zm26 0zm2 0h1m6 0h3m2 0zm2 0zm5 0h2m26 0zm26 0zm-105 1zm12 0h1m10 0zm6 0zm2 0zm5 0zm3 0zm2 0zm4 0zm14 0zm9 0zm-52 1zm3 0zm9 0zm4 0zm4 0h1m2 0zm6 0zm23 0zm14 0zm-72 1zm4 0zm7 0zm4 0zm2 0zm3 0zm3 0zm5 0zm2 0zm6 0zm2 0zm6 0zm-49 1zm7 0zm24 0zm4 0zm3 0zm3 0zm2 0zm37 0zm-61 1zm4 0zm9 0zm3 0zm47 0zm-85 1zm24 0zm9 0zm4 0h2m2 0zm2 0zm3 0zm14 0zm-83 1zm50 0zm7 0zm-5 1zm3 0h1m2 0zm2 0zm7 0zm2 0zm4 0zm6 0zm-52 1zm6 0zm15 0h1m7 0zm3 0h1m4 0h1m5 0zm-46 1zm25 0zm4 0zm2 0h3m7 0h1m-17 1zm3 0zm4 0zm16 0zm-28 1zm4 0zm8 0h1m2 0h1m2 0zm2 0zm-47 1zm30 0zm8 0zm2 0zm7 0zm4 0zm-30 1zm4 0zm5 0zm6 0zm2 0zm3 0h1m2 0h1m12 0zm-50 1zm19 0zm10 0zm3 0zm8 0zm4 0zm-15 1zm5 0zm2 0h1m5 0zm6 0zm17 0zm-46 1zm4 0h1m9 0zm3 0h1m3 0zm14 0zm-34 1zm6 0zm3 0zm6 0zm4 0zm-10 1zm5 0zm-3 1h1m11 0zm-22 1zm14 0zm-20 1zm13 0zm4 0zm3 0zm7 0zm14 0zm-31 1zm9 0zm-4 1h2m11 0zm3 0zm-23 1zm4 0h1m-4 1zm5 0zm-12 1zm5 0zm13 0zm2 0zm-4 1zm2 0zm-10 1zm20 0zm-17 1zm10 0zm-10 1zm3 0zm-4 1zm-4 2zm13 0zm-15 2zm3 0zm-2 6h1m6 0zm4 0h1m7 0h1m6 0zm10 0zm4 0h1m3 0zm2 0zm5 0h1m9 0zm3 0zm8 0zm6 0z"/>
<path class="ax" d="M0 0H374V374.1H0ZM195.4 0V374M0 211.2H374"/>
<path class="tkp" d="M-4.2 369.85h4.2M-4.2 363.56h4.2M-4.2 358.11h4.2M-4.2 353.30h4.2M-8.5 349.00h8.5M-4.2 320.70h4.2M-4.2 304.15h4.2M-4.2 292.41h4.2M-4.2 283.30h4.2M-4.2 275.85h4.2M-4.2 269.56h4.2M-4.2 264.11h4.2M-4.2 259.30h4.2M-8.5 255.00h8.5M-4.2 226.70h4.2M-4.2 210.15h4.2M-4.2 198.41h4.2M-4.2 189.30h4.2M-4.2 181.85h4.2M-4.2 175.56h4.2M-4.2 170.11h4.2M-4.2 165.30h4.2M-8.5 161.00h8.5M-4.2 132.70h4.2M-4.2 116.15h4.2M-4.2 104.41h4.2M-4.2 95.30h4.2M-4.2 87.85h4.2M-4.2 81.56h4.2M-4.2 76.11h4.2M-4.2 71.30h4.2M-8.5 67.00h8.5M-4.2 38.70h4.2M-4.2 22.15h4.2M-4.2 10.41h4.2M-4.2 1.30h4.2M10.83 374v4.2M19.88 374v4.2M27.28 374v4.2M33.53 374v4.2M38.95 374v4.2M43.73 374v4.2M48.00 374v8.5M76.12 374v4.2M92.56 374v4.2M104.23 374v4.2M113.28 374v4.2M120.68 374v4.2M126.93 374v4.2M132.35 374v4.2M137.13 374v4.2M141.40 374v8.5M169.52 374v4.2M185.96 374v4.2M197.63 374v4.2M206.68 374v4.2M214.08 374v4.2M220.33 374v4.2M225.75 374v4.2M230.53 374v4.2M234.80 374v8.5M262.92 374v4.2M279.36 374v4.2M291.03 374v4.2M300.08 374v4.2M307.48 374v4.2M313.73 374v4.2M319.15 374v4.2M323.93 374v4.2M328.20 374v8.5M356.32 374v4.2M372.76 374v4.2"/>
<rect class="qb" x="0.2" y="0" width="111.4" height="35.1" rx="3.5"/>
<text class="qt" y="25.6"><tspan x="1.9" textLength="42.6" lengthAdjust="spacingAndGlyphs">Q1: </tspan><tspan x="47.2" textLength="59.6" lengthAdjust="spacingAndGlyphs">3.94%</tspan></text>
<path class="qb" d="M247.6 0H372.8V28.4a3.5 3.5 0 0 1 -3.5 3.5H251.1a3.5 3.5 0 0 1 -3.5 -3.5Z"/>
<text class="qt" y="23.4"><tspan x="250.5" textLength="42.6" lengthAdjust="spacingAndGlyphs">Q2: </tspan><tspan x="295.8" textLength="72.6" lengthAdjust="spacingAndGlyphs">21.36%</tspan></text>
<rect class="qb" x="0.2" y="335.4" width="125.4" height="34.4" rx="3.5"/>
<text class="qt" y="361.6"><tspan x="1.9" textLength="42.6" lengthAdjust="spacingAndGlyphs">Q3: </tspan><tspan x="47.2" textLength="72.6" lengthAdjust="spacingAndGlyphs">69.22%</tspan></text>
<rect class="qb" x="260.2" y="335.4" width="112.6" height="34.4" rx="3.5"/>
<text class="qt" y="361.6"><tspan x="263.1" textLength="42.6" lengthAdjust="spacingAndGlyphs">Q4: </tspan><tspan x="308.4" textLength="59.6" lengthAdjust="spacingAndGlyphs">5.48%</tspan></text>
<text class="tt" x="187" y="-9.6" text-anchor="middle" textLength="180.4" lengthAdjust="spacingAndGlyphs">[A] FITC-A / PE-A</text>
<text class="tt" x="187" y="436" text-anchor="middle" textLength="69.2" lengthAdjust="spacingAndGlyphs">FITC-A</text>
<text class="tt" transform="translate(-49 187) rotate(-90)" text-anchor="middle" textLength="47" lengthAdjust="spacingAndGlyphs">PE-A</text>
<text class="tk" x="36.5" y="401">10<tspan class="ts" x="52.9" y="394.6">3</tspan></text><text class="tk" x="129.9" y="401">10<tspan class="ts" x="146.3" y="394.6">4</tspan></text><text class="tk" x="223.3" y="401">10<tspan class="ts" x="239.7" y="394.6">5</tspan></text><text class="tk" x="316.7" y="401">10<tspan class="ts" x="333.1" y="394.6">6</tspan></text><text class="tk" x="-35.2" y="354.8">10<tspan class="ts" x="-18.9" y="348.6">2</tspan></text><text class="tk" x="-35.2" y="260.8">10<tspan class="ts" x="-18.9" y="254.6">3</tspan></text><text class="tk" x="-35.2" y="166.8">10<tspan class="ts" x="-18.9" y="160.6">4</tspan></text><text class="tk" x="-35.2" y="72.8">10<tspan class="ts" x="-18.9" y="66.6">5</tspan></text>
</g>
<text class="lb" x="1197.8" y="1074.7" text-anchor="middle">mimic+LBP</text>
</svg></body></html>
